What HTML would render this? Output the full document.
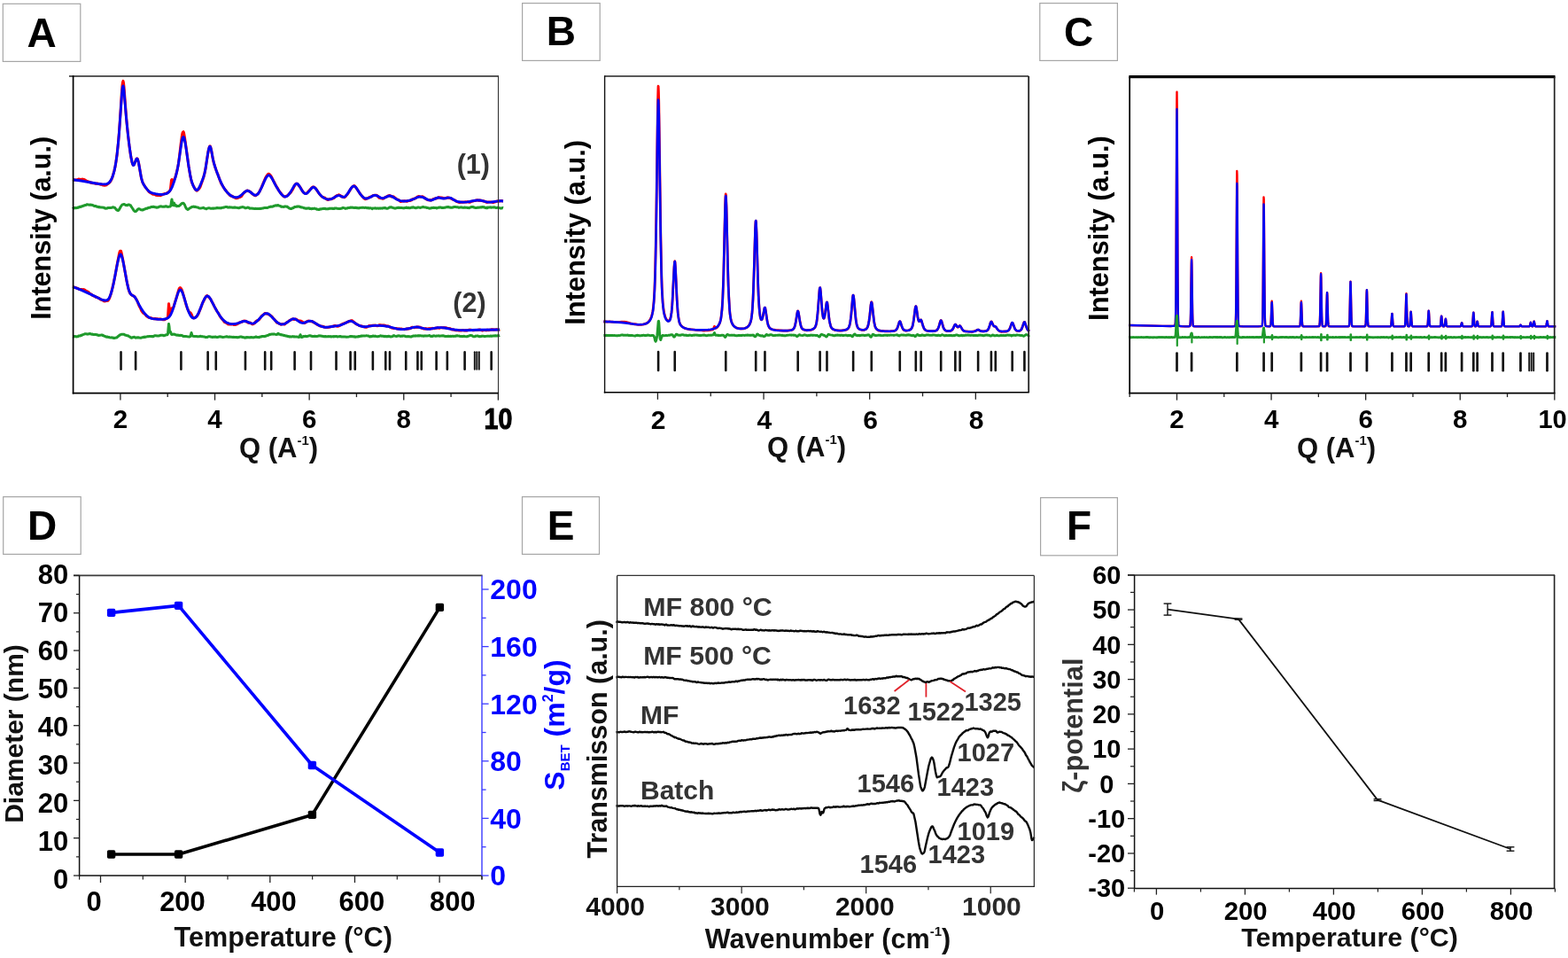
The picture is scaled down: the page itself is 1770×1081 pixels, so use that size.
<!DOCTYPE html>
<html><head><meta charset="utf-8"><title>Figure</title>
<style>html,body{margin:0;padding:0;background:#fff;overflow:hidden}svg{display:block}text{font-family:"Liberation Sans",sans-serif;font-weight:bold}</style>
</head><body>
<svg width="1770" height="1081" viewBox="0 0 1770 1081">
<rect x="0" y="0" width="1770" height="1081" fill="#fff"/>
<rect x="3.3" y="4.3" width="87.5" height="65.1" fill="#fff" stroke="#a6a6a6" stroke-width="1.2"/>
<text x="47.0" y="53.0" font-size="46" text-anchor="middle" fill="#000">A</text>
<polyline points="82.0,202.6 83.0,202.7 83.5,203.0 84.0,203.1 85.0,202.9 86.0,203.1 88.0,202.5 88.5,202.1 89.0,202.3 89.5,202.1 91.0,202.7 91.5,202.3 93.0,202.3 93.5,202.1 94.0,202.5 95.0,202.6 96.5,203.4 97.0,203.9 97.5,204.1 98.0,204.2 99.0,204.8 99.5,204.7 100.5,205.3 101.0,205.3 102.0,205.9 102.5,205.9 103.0,206.1 103.5,206.5 104.0,206.3 104.5,206.4 105.0,206.7 105.5,206.5 106.0,206.6 107.5,207.2 109.5,207.3 110.0,207.0 111.0,207.2 112.0,207.8 113.0,208.0 113.5,208.3 114.0,208.0 114.5,207.9 115.5,208.7 116.0,208.8 116.5,209.1 118.0,209.3 118.5,209.1 119.5,209.0 120.0,208.9 120.5,208.4 121.5,207.8 122.0,207.3 122.5,207.0 123.5,206.2 124.5,205.0 126.0,202.2 127.0,199.6 129.0,192.3 130.0,188.1 131.0,182.3 132.0,175.3 133.5,161.2 134.5,149.2 135.5,135.0 137.5,103.2 138.0,96.8 138.5,92.8 139.0,91.4 139.5,93.6 140.0,98.1 142.0,125.6 143.0,137.5 144.0,147.7 146.0,164.9 146.5,168.4 147.5,175.3 149.0,182.8 149.5,184.6 150.0,185.7 150.5,186.3 151.5,185.4 154.0,179.4 154.5,178.9 155.0,179.0 155.5,180.0 156.5,183.6 159.5,200.9 161.0,205.9 162.5,208.7 163.5,210.2 164.0,211.2 166.0,213.6 168.0,216.2 168.5,216.8 169.0,216.9 169.5,217.4 170.5,217.9 171.5,218.7 172.5,219.2 173.0,219.3 173.5,219.2 175.0,219.6 176.0,220.2 177.5,220.4 178.0,220.5 178.5,220.3 179.5,220.3 180.0,220.5 180.5,220.5 181.0,220.8 182.0,220.2 182.5,220.1 183.0,219.6 183.5,219.3 184.0,219.4 184.5,219.3 185.0,218.8 185.5,218.8 186.0,218.7 186.5,218.4 187.5,218.5 188.0,218.1 189.0,217.5 189.5,217.0 190.5,216.6 191.0,216.2 192.0,214.8 192.5,212.6 193.5,203.4 194.0,202.6 194.5,205.0 195.0,206.1 195.5,205.5 196.0,203.7 197.5,201.0 198.5,198.0 199.5,194.2 201.0,187.2 201.5,184.2 202.5,176.8 204.0,163.4 205.5,152.4 206.0,150.2 206.5,149.0 207.0,148.7 207.5,149.9 208.5,155.2 213.0,187.7 215.0,199.4 215.5,201.7 216.5,205.9 217.0,206.8 218.0,209.3 219.0,211.0 219.5,212.2 220.5,213.8 222.0,215.2 222.5,215.1 223.0,214.7 223.5,214.1 224.0,213.9 225.0,212.6 226.0,211.0 229.5,201.0 231.0,195.3 232.0,190.4 235.0,171.1 235.5,168.7 236.5,165.3 237.0,164.9 237.5,165.4 238.5,168.9 240.0,177.7 241.0,182.4 241.5,184.3 242.0,185.7 243.0,189.3 245.0,194.8 246.0,196.9 248.0,202.7 249.0,205.2 249.5,206.7 253.5,213.3 255.0,215.0 256.5,217.1 258.5,219.1 259.0,219.9 259.5,220.4 260.0,220.8 260.5,220.9 261.0,221.3 261.5,221.1 262.0,221.1 262.5,221.5 263.0,222.1 264.0,222.5 264.5,222.9 265.0,222.8 265.5,223.0 266.5,223.8 268.0,223.6 269.0,222.9 269.5,222.9 270.0,222.6 271.5,222.3 272.0,221.8 272.5,221.6 275.0,217.8 276.5,216.5 277.0,216.4 278.0,215.5 279.5,215.0 280.5,215.7 281.5,215.8 282.0,216.2 282.5,216.5 283.0,216.6 284.0,218.0 284.5,218.5 285.0,218.8 285.5,219.4 286.0,219.4 286.5,220.0 287.0,220.1 287.5,220.5 288.5,220.8 289.0,220.2 289.5,220.0 290.5,219.1 291.5,218.5 293.0,216.0 295.0,211.9 299.5,201.1 301.0,198.4 302.0,197.1 303.0,196.2 303.5,196.3 304.0,196.5 305.5,198.0 307.0,200.6 308.5,203.7 309.5,205.4 310.0,206.4 310.5,207.7 311.0,208.4 312.0,210.4 313.0,211.8 315.0,215.4 316.5,217.4 317.0,217.7 317.5,218.7 318.0,219.2 319.5,221.2 320.0,221.3 320.5,221.9 321.5,221.9 322.0,221.8 323.0,221.2 323.5,221.3 324.0,221.1 325.5,220.1 326.0,219.1 327.5,218.1 328.0,217.1 328.5,216.9 329.0,215.9 330.5,213.7 333.0,208.5 333.5,207.9 334.0,207.5 335.0,207.1 335.5,207.2 336.0,207.6 338.0,210.4 339.0,211.4 341.5,215.8 342.5,217.1 343.5,217.8 345.0,218.4 346.0,218.2 346.5,217.8 348.5,215.6 349.0,215.2 350.0,214.0 350.5,213.6 351.0,212.9 352.0,211.7 353.0,211.0 354.0,211.0 355.0,211.4 355.5,212.0 356.0,212.2 356.5,212.9 360.0,218.1 362.5,221.1 364.0,222.4 364.5,222.6 365.0,222.5 366.0,223.1 366.5,223.1 367.0,223.2 367.5,224.0 368.0,224.1 369.5,225.5 370.0,225.4 370.5,225.4 372.0,224.7 373.0,224.6 373.5,224.8 376.0,223.8 376.5,223.7 377.5,223.0 378.5,221.8 380.5,220.6 381.0,220.6 382.0,220.1 382.5,219.7 384.5,220.9 385.5,221.9 386.0,221.6 386.5,221.8 387.0,222.1 388.0,222.4 388.5,222.8 389.0,222.7 390.0,221.9 391.0,220.4 392.0,219.5 394.0,216.5 394.5,215.4 395.0,214.8 396.5,212.2 398.5,210.1 399.0,210.0 400.0,209.5 402.0,211.8 402.5,212.8 403.0,213.4 406.0,217.8 406.5,218.7 408.0,220.6 409.5,222.1 410.5,223.4 411.0,223.9 412.0,224.5 412.5,224.7 413.5,224.1 414.5,224.1 415.5,223.3 416.5,222.9 417.0,222.5 417.5,222.3 418.5,222.3 419.0,221.9 419.5,221.8 421.0,220.6 421.5,220.6 422.0,220.4 423.0,220.2 423.5,220.3 424.5,220.2 425.5,220.5 426.0,221.2 426.5,221.5 427.0,222.0 428.0,223.2 428.5,223.1 429.0,223.2 429.5,223.6 430.0,223.8 431.0,223.8 431.5,224.2 432.0,224.2 433.0,224.1 434.5,222.9 435.5,222.4 436.0,222.4 436.5,221.8 437.0,221.7 438.0,221.0 438.5,220.8 439.0,220.9 439.5,220.4 440.5,220.8 441.0,221.1 442.0,222.1 442.5,221.9 443.0,221.9 444.0,221.8 445.0,222.5 445.5,223.0 447.0,224.0 447.5,224.5 448.0,224.8 448.5,225.2 449.5,225.3 450.0,225.5 452.0,227.4 453.0,227.4 454.5,227.0 455.0,227.1 455.5,226.9 457.0,226.7 457.5,227.0 458.5,227.0 459.5,227.3 460.0,226.7 460.5,226.6 461.0,226.7 462.0,226.3 462.5,226.6 464.0,225.8 464.5,225.9 465.0,225.2 466.0,224.7 466.5,224.6 467.0,224.3 467.5,224.5 468.0,224.1 468.5,224.1 470.0,223.0 470.5,222.8 471.0,222.2 472.5,221.5 473.0,221.5 474.5,222.2 476.0,221.9 476.5,221.7 477.5,222.2 478.0,222.3 479.0,223.1 480.0,223.7 480.5,224.4 481.0,224.5 481.5,225.0 482.5,225.5 483.0,225.7 484.0,225.7 485.0,225.8 485.5,225.6 486.0,226.0 486.5,226.0 487.0,225.8 487.5,225.4 488.0,225.4 489.0,224.6 490.5,224.4 491.0,224.0 492.0,223.8 492.5,224.0 493.0,223.6 494.5,223.2 495.0,222.6 496.5,222.9 497.0,222.8 497.5,223.0 498.5,222.9 499.5,223.3 501.5,223.7 502.5,223.6 503.5,223.7 504.5,223.0 505.0,222.8 505.5,223.1 506.0,223.0 507.0,223.3 507.5,223.6 508.0,223.4 508.5,223.5 509.5,224.3 510.0,224.3 511.0,225.1 512.5,225.5 513.5,226.0 514.0,226.2 515.0,227.2 515.5,227.5 516.0,227.5 517.0,228.0 517.5,228.2 518.0,228.2 519.0,228.6 519.5,228.2 520.0,228.2 521.0,228.3 521.5,228.0 522.0,228.2 522.5,228.2 524.5,227.9 525.0,228.0 526.0,227.8 526.5,228.0 528.0,227.6 529.0,227.9 529.5,228.2 530.0,228.1 530.5,228.2 531.0,228.0 531.5,227.6 532.5,227.2 533.5,227.0 534.0,227.0 534.5,226.7 535.0,226.7 535.5,226.5 536.0,226.6 536.5,226.3 537.5,226.2 538.0,225.8 540.0,225.9 540.5,226.4 541.5,226.1 542.0,226.1 542.5,226.3 543.0,226.1 543.5,226.5 545.0,226.7 545.5,227.0 546.0,226.8 546.5,227.0 547.0,227.4 548.0,227.6 549.0,228.2 550.0,228.1 550.5,228.2 551.5,227.9 552.0,228.0 553.5,227.9 554.0,228.1 555.0,228.1 556.5,228.5 557.5,228.2 558.0,227.9 558.5,228.0 559.5,227.6 560.0,227.2 560.5,227.3 561.5,226.9 562.5,227.2 563.5,227.0 564.0,227.0 564.5,226.7 565.0,226.7 565.5,226.5 566.0,226.7 566.5,226.5 567.0,226.8 568.0,226.9" fill="none" stroke="#f00" stroke-width="3.0" stroke-linejoin="round" stroke-linecap="butt"/>
<polyline points="82.0,202.7 91.5,204.0 110.0,207.2 114.5,207.7 118.0,207.9 119.5,207.8 120.5,207.6 121.5,207.2 122.5,206.6 124.0,205.1 125.5,202.8 126.5,200.7 127.5,198.1 129.0,192.9 130.5,185.4 132.0,175.1 133.5,161.0 134.5,149.3 137.5,106.8 138.0,101.4 138.5,97.9 139.0,96.9 139.5,98.8 140.0,103.0 142.5,132.7 144.5,152.3 145.5,160.7 147.0,171.7 148.0,178.0 149.0,182.9 149.5,184.7 150.0,185.9 150.5,186.5 151.0,186.3 151.5,185.6 153.5,180.3 154.0,179.4 154.5,179.0 155.0,179.3 155.5,180.2 156.5,184.0 159.5,200.7 160.5,204.5 161.5,207.1 163.0,209.6 166.0,213.6 167.5,215.3 168.5,216.1 169.5,216.8 172.0,217.8 175.5,218.7 179.5,219.4 182.0,219.5 185.0,219.1 188.0,218.4 189.0,217.9 190.0,217.3 191.5,215.8 193.0,213.6 194.5,210.5 196.5,205.1 198.0,200.2 199.5,194.4 200.5,189.7 201.5,184.2 205.0,160.6 206.0,156.1 206.5,154.9 207.0,154.6 207.5,155.1 208.0,156.3 209.0,160.6 210.0,166.7 213.0,187.8 214.5,196.6 215.5,201.5 216.5,205.3 218.0,209.4 219.0,211.5 220.0,213.1 221.0,214.2 221.5,214.5 222.0,214.6 222.5,214.5 223.0,214.2 224.0,213.0 225.0,211.3 226.0,209.2 228.5,203.1 230.0,198.9 231.0,195.1 232.0,190.2 234.5,174.1 235.5,168.7 236.0,166.8 236.5,165.6 237.0,165.2 237.5,165.8 238.0,167.2 239.0,171.9 240.5,180.0 242.0,186.0 244.0,191.9 246.5,198.7 248.5,203.7 250.0,207.0 251.5,209.9 253.5,213.2 255.0,215.3 257.0,217.6 259.0,219.5 261.0,221.0 263.0,222.0 265.0,222.6 266.5,222.7 267.5,222.6 269.0,222.2 270.0,221.8 272.0,220.5 276.5,216.4 278.0,215.5 279.0,215.2 280.0,215.3 281.5,215.9 283.0,217.0 285.5,219.0 287.0,220.0 288.0,220.3 288.5,220.3 289.5,220.1 290.0,219.8 290.5,219.4 291.5,218.4 292.5,216.9 293.5,215.2 295.5,211.1 299.0,203.2 300.5,200.4 301.5,199.0 302.0,198.4 303.0,197.8 303.5,197.8 304.0,197.9 305.0,198.6 306.5,200.5 307.5,202.2 310.5,208.0 312.5,211.6 314.5,214.8 316.5,217.7 318.0,219.5 319.0,220.5 320.5,221.6 321.5,222.0 322.5,222.0 323.5,221.6 324.5,221.0 325.5,220.0 326.5,218.8 328.0,216.7 331.5,210.6 332.5,209.1 333.5,208.0 334.0,207.6 334.5,207.3 335.0,207.2 335.5,207.3 336.0,207.6 337.0,208.6 338.0,210.1 340.5,214.3 341.5,215.8 343.0,217.6 344.0,218.3 345.0,218.6 345.5,218.5 346.5,218.1 348.0,216.8 351.0,213.1 352.0,212.1 353.0,211.4 353.5,211.2 354.0,211.2 355.0,211.6 356.0,212.5 357.5,214.3 360.5,218.7 362.0,220.4 363.5,221.8 365.0,222.9 367.0,224.0 369.0,224.7 370.5,225.0 372.5,224.9 374.5,224.3 376.5,223.3 380.0,221.2 381.0,220.8 382.0,220.6 383.0,220.6 383.5,220.7 386.0,221.9 387.0,222.3 388.0,222.4 389.0,222.1 390.0,221.3 391.5,219.7 393.0,217.6 396.0,212.9 397.0,211.5 398.0,210.6 398.5,210.2 399.0,210.0 399.5,210.0 400.5,210.4 401.0,210.7 402.0,211.8 403.0,213.2 406.5,218.7 408.5,221.2 410.0,222.6 411.0,223.3 412.0,223.7 413.0,224.0 414.0,224.0 415.5,223.7 417.0,223.0 421.0,220.9 422.5,220.4 423.5,220.4 425.0,220.7 426.0,221.1 429.5,223.1 430.5,223.5 431.5,223.6 432.5,223.6 433.5,223.3 437.0,221.8 438.5,221.2 440.0,221.0 441.0,221.1 443.0,221.9 447.5,224.7 449.5,225.7 451.0,226.3 452.5,226.6 455.5,227.0 459.0,226.9 462.5,226.2 465.5,225.2 471.5,222.5 473.0,222.1 474.5,222.0 475.5,222.1 477.0,222.5 478.5,223.1 483.0,225.4 484.5,225.8 485.5,226.0 486.5,226.0 488.0,225.6 492.5,223.6 494.5,223.0 496.0,223.1 499.0,223.8 500.5,224.0 502.0,223.9 505.5,223.1 506.5,223.1 507.5,223.1 508.5,223.3 509.5,223.8 513.5,226.2 515.5,227.2 518.0,227.8 521.0,228.1 524.5,228.1 527.5,227.9 530.0,227.5 536.5,226.2 539.5,225.9 541.0,226.0 542.5,226.2 548.5,227.7 550.0,228.0 551.5,228.1 555.0,228.0 561.0,227.1 563.5,226.8 566.0,226.8 568.0,227.0" fill="none" stroke="#0000f5" stroke-width="2.9" stroke-linejoin="round" stroke-linecap="butt"/>
<polyline points="82.0,324.1 82.5,324.0 84.0,324.3 84.5,324.2 85.0,324.5 86.0,324.9 86.5,324.9 87.0,325.2 88.0,325.4 89.5,326.4 90.0,326.6 90.5,326.6 91.0,326.4 91.5,326.6 92.5,326.5 93.0,326.7 94.0,326.8 94.5,326.6 95.5,327.1 96.5,327.8 97.0,328.4 97.5,328.4 98.5,328.9 99.5,329.1 100.0,329.8 101.0,330.8 102.0,331.6 102.5,331.7 103.5,332.3 104.0,333.1 105.0,333.6 106.0,334.0 106.5,334.0 107.5,334.6 108.0,335.2 108.5,335.1 110.0,335.8 110.5,335.7 111.0,336.2 112.0,336.5 113.0,337.7 113.5,337.8 114.5,338.4 115.5,338.4 116.0,338.8 117.0,339.7 118.5,339.9 119.0,339.8 119.5,339.4 120.0,339.5 122.0,339.3 123.5,336.8 125.0,332.3 126.0,328.7 128.0,320.3 130.0,310.8 132.5,296.8 134.5,286.6 135.0,284.3 135.5,283.3 136.0,283.2 136.5,283.3 137.0,284.8 138.5,292.1 143.0,317.0 145.0,325.9 146.0,329.2 146.5,330.4 148.0,332.4 148.5,332.7 149.0,333.2 149.5,333.5 150.5,333.8 152.0,334.9 152.5,335.8 153.5,337.2 155.0,339.8 156.0,342.6 157.5,346.1 158.5,347.8 159.5,350.3 161.5,353.1 162.5,353.6 163.0,354.1 164.0,354.9 164.5,355.4 165.0,356.4 165.5,356.6 166.0,357.1 167.0,357.9 167.5,358.0 168.0,358.3 168.5,358.5 170.0,358.6 171.0,358.9 172.0,359.5 173.0,359.6 173.5,359.7 174.5,359.5 175.0,359.7 175.5,359.5 176.0,359.6 176.5,359.9 177.0,360.0 177.5,359.7 178.0,360.1 178.5,360.1 179.0,360.1 179.5,359.9 180.0,360.1 181.0,359.9 181.5,360.0 182.0,360.3 182.5,360.4 184.0,360.8 185.0,360.8 185.5,360.8 186.5,360.4 187.5,359.6 188.5,359.1 189.0,358.4 189.5,357.0 190.5,342.8 191.0,346.1 191.5,353.1 192.0,354.1 193.5,348.3 194.0,347.7 195.0,347.9 195.5,347.2 196.0,346.2 197.0,342.6 199.5,335.0 200.5,331.1 202.0,326.2 202.5,325.3 203.0,324.7 203.5,324.6 204.0,325.0 205.0,326.6 205.5,327.8 206.5,330.8 210.5,345.3 212.0,349.2 212.5,350.3 214.0,352.9 214.5,352.9 215.0,352.8 215.5,353.5 216.5,355.5 217.5,358.2 218.0,358.4 218.5,358.9 219.0,359.0 220.0,358.5 220.5,358.4 221.0,357.8 222.5,356.6 223.0,355.6 223.5,355.0 224.5,352.9 225.0,351.4 226.5,347.9 228.5,342.3 229.0,341.2 232.5,334.5 233.5,333.6 234.5,334.2 235.0,334.8 235.5,335.1 236.5,336.1 238.0,338.0 239.0,340.2 239.5,340.9 241.5,344.8 242.0,345.9 243.5,348.8 245.0,351.3 246.0,352.6 247.5,355.2 248.0,356.4 249.5,358.6 251.5,360.9 253.5,363.7 255.5,364.4 256.0,364.7 256.5,365.2 257.0,365.4 257.5,365.9 258.0,366.0 259.5,366.1 260.0,366.0 260.5,366.0 261.0,366.2 261.5,366.0 262.5,365.9 263.5,366.2 264.0,366.6 264.5,366.5 265.5,366.6 266.0,366.3 266.5,365.8 267.0,366.1 267.5,366.0 268.5,365.1 269.0,365.0 270.0,364.2 270.5,364.0 271.0,364.0 272.0,363.4 273.0,363.4 273.5,362.9 274.0,362.6 274.5,362.6 275.0,362.3 275.5,361.9 277.0,362.4 277.5,362.3 278.0,363.1 278.5,363.1 279.5,363.5 280.0,364.2 280.5,364.1 281.5,364.5 282.0,364.4 282.5,364.1 283.5,365.0 284.0,365.3 284.5,365.3 285.0,365.9 285.5,365.7 286.0,365.7 286.5,365.3 287.0,365.0 287.5,364.6 288.5,363.0 290.0,361.8 290.5,361.7 291.0,361.7 292.5,360.6 295.5,356.5 297.0,355.3 298.0,354.7 299.0,353.5 301.0,353.9 301.5,354.3 302.5,354.2 303.0,354.4 304.5,355.6 305.5,356.1 306.5,356.7 307.5,357.8 308.5,359.3 310.5,361.3 312.5,364.0 313.0,364.1 313.5,364.4 314.0,364.6 314.5,364.5 315.0,365.0 315.5,365.6 316.0,365.5 316.5,365.8 317.0,366.3 318.0,365.7 320.0,365.8 320.5,365.9 321.0,366.1 322.0,365.5 322.5,364.8 323.5,363.9 324.5,363.2 325.0,363.2 325.5,362.8 326.0,362.2 326.5,361.9 327.0,361.4 328.0,361.1 329.0,360.5 329.5,360.3 330.0,360.0 330.5,359.9 331.5,360.4 332.5,360.5 333.0,360.4 333.5,360.1 334.0,360.1 335.0,360.6 335.5,361.1 336.5,361.7 337.0,361.7 337.5,362.0 338.0,361.9 338.5,362.1 339.0,362.1 339.5,362.4 340.0,362.3 340.5,362.6 341.0,363.1 341.5,363.2 342.0,363.6 342.5,364.2 343.0,364.4 343.5,364.2 344.0,364.6 345.5,363.5 346.5,362.6 347.5,362.3 348.0,362.4 348.5,362.1 349.0,362.4 350.0,362.6 350.5,362.5 351.0,362.8 352.0,362.7 352.5,362.6 353.0,362.9 353.5,363.6 354.0,363.5 354.5,363.9 355.0,364.5 356.0,364.8 358.0,366.2 358.5,366.3 359.0,366.8 360.5,367.4 361.0,367.8 361.5,367.8 362.0,368.2 363.0,368.1 364.0,368.3 364.5,368.2 365.5,368.9 366.0,368.8 366.5,369.2 367.5,369.4 368.0,369.6 368.5,369.6 369.0,369.3 369.5,369.5 370.5,369.2 371.0,369.3 371.5,369.2 372.0,368.9 372.5,369.0 373.0,368.9 374.0,368.5 374.5,368.6 375.0,368.3 375.5,368.2 376.5,368.2 377.5,367.5 379.0,367.5 380.0,368.1 380.5,367.9 381.0,368.2 381.5,368.2 382.0,367.9 383.0,367.8 383.5,367.2 384.5,366.9 385.0,366.3 385.5,366.1 386.0,366.0 387.0,365.3 387.5,365.3 388.5,364.9 389.0,364.6 389.5,364.6 390.5,364.0 391.5,363.7 392.0,363.2 392.5,363.3 393.0,363.1 393.5,362.6 394.5,362.7 395.0,362.1 397.0,361.6 398.5,362.6 399.5,363.5 400.5,364.2 401.0,364.9 401.5,365.2 402.0,365.4 402.5,365.9 403.5,366.2 404.0,366.5 405.0,367.0 405.5,367.5 407.5,367.9 408.0,367.8 408.5,368.3 409.0,368.3 410.5,368.7 411.0,368.5 411.5,368.6 412.0,369.0 413.0,369.3 414.0,369.2 414.5,368.7 416.0,368.1 416.5,367.6 417.0,367.8 418.5,367.5 419.0,367.7 420.5,367.2 421.5,367.3 422.0,367.1 422.5,367.2 423.5,367.1 424.0,367.3 424.5,367.2 425.5,367.7 427.0,367.5 428.0,366.8 428.5,366.8 429.0,366.7 430.0,367.1 430.5,367.0 431.0,367.2 431.5,367.0 432.5,367.0 433.0,367.2 433.5,367.0 434.5,367.2 435.5,367.7 436.5,368.0 437.5,368.0 438.0,367.8 438.5,368.2 440.0,368.6 440.5,369.2 441.0,369.2 442.5,370.1 444.5,370.6 445.0,370.6 445.5,370.4 446.5,370.5 447.0,370.5 448.5,371.1 449.0,370.8 449.5,371.0 450.0,371.1 450.5,371.0 451.5,371.1 452.0,371.3 452.5,371.1 453.0,371.4 453.5,371.1 454.0,371.6 454.5,371.4 455.0,371.6 455.5,371.4 456.5,371.7 457.5,371.3 458.0,371.3 459.0,370.9 459.5,371.2 460.0,371.1 460.5,370.8 461.0,371.0 462.0,370.6 462.5,370.8 463.0,370.8 463.5,370.5 464.5,369.5 465.5,369.3 466.5,369.6 467.5,369.5 468.0,369.8 469.0,369.2 470.0,369.4 470.5,369.1 471.0,368.9 471.5,369.2 472.0,369.3 472.5,369.0 474.5,369.3 475.5,370.1 476.0,370.1 477.0,370.5 477.5,370.6 478.5,371.0 479.0,370.9 479.5,371.1 480.0,371.0 480.5,370.6 481.0,370.9 481.5,371.0 482.5,370.9 483.0,371.0 483.5,370.7 484.5,370.8 485.0,370.6 485.5,370.9 487.0,370.6 487.5,370.8 488.0,370.4 488.5,370.7 490.0,370.4 490.5,370.7 491.0,370.3 491.5,370.4 492.0,370.2 492.5,370.3 493.0,369.9 493.5,369.8 494.5,370.0 495.0,369.8 495.5,370.2 496.0,370.3 496.5,369.9 497.0,369.9 498.0,369.6 499.0,369.8 499.5,369.7 500.0,369.9 501.0,369.6 501.5,369.8 502.0,369.7 503.0,369.8 504.0,370.0 505.5,370.6 506.0,370.6 506.5,370.5 508.0,370.7 508.5,370.9 509.5,371.7 510.5,372.1 511.0,372.0 512.5,372.1 513.0,372.2 513.5,372.6 514.5,372.7 515.5,372.8 517.5,372.6 518.0,372.9 518.5,372.8 519.0,373.0 519.5,372.9 521.0,373.0 521.5,372.7 522.5,372.6 523.5,372.7 524.0,373.0 525.0,373.0 525.5,372.8 526.0,373.0 526.5,372.8 527.0,373.0 527.5,373.0 528.5,372.5 529.0,372.5 529.5,372.1 530.0,372.1 530.5,372.3 531.5,372.1 532.0,372.6 533.0,372.6 534.0,372.9 535.0,372.7 536.0,372.4 537.5,372.5 539.0,372.5 539.5,372.2 541.5,372.0 542.0,372.0 543.0,372.5 544.0,372.7 544.5,373.1 545.5,372.6 546.5,372.6 547.5,372.5 548.0,372.8 548.5,372.6 549.0,372.7 549.5,372.3 550.0,372.6 550.5,372.2 551.5,372.4 552.0,372.7 552.5,372.3 553.0,372.3 554.5,371.8 555.0,371.9 555.5,371.8 556.0,372.0 556.5,371.8 557.0,371.9 557.5,372.2 558.0,372.0 559.5,372.0 560.0,371.7 560.5,371.9 561.0,371.8 561.5,371.9 562.0,371.9 563.5,372.1 564.0,371.8" fill="none" stroke="#f00" stroke-width="3.0" stroke-linejoin="round" stroke-linecap="butt"/>
<polyline points="82.0,323.7 87.0,325.3 92.5,327.6 104.5,333.1 113.0,337.3 115.0,338.2 117.0,338.8 119.0,339.0 120.5,338.8 121.5,338.2 122.5,337.2 123.0,336.5 124.0,334.6 125.0,332.0 126.0,328.8 127.0,325.0 128.5,318.3 132.0,300.1 133.5,293.0 134.5,289.4 135.0,288.1 135.5,287.3 136.0,287.0 136.5,287.3 137.0,288.1 137.5,289.3 138.5,293.0 139.5,297.8 143.5,319.6 145.0,325.9 145.5,327.5 146.5,330.0 147.0,331.0 148.0,332.3 149.0,333.1 151.0,334.2 152.0,335.0 152.5,335.6 154.0,338.1 157.0,343.9 159.0,347.5 161.5,351.3 163.5,353.9 165.5,356.0 167.5,357.7 169.5,358.8 172.0,359.6 174.5,359.9 178.5,360.3 182.0,360.4 184.5,360.3 186.5,360.0 188.5,359.3 190.0,358.4 191.0,357.5 192.0,356.2 193.0,354.5 194.5,351.0 196.0,346.6 199.5,334.9 201.0,330.5 202.0,328.4 202.5,327.7 203.0,327.2 203.5,327.0 204.0,327.1 204.5,327.6 205.0,328.3 206.0,330.3 207.5,334.7 211.5,347.9 213.5,353.2 215.0,356.1 216.0,357.4 217.0,358.4 218.0,358.9 218.5,359.0 219.5,358.9 220.5,358.4 221.0,358.0 222.0,356.9 223.0,355.4 224.5,352.4 229.0,341.0 230.5,337.8 231.5,336.1 232.5,334.8 233.5,334.1 234.0,334.0 234.5,334.0 235.5,334.6 236.0,335.1 237.0,336.4 238.0,338.1 242.0,345.9 245.0,351.3 248.0,356.1 250.5,359.4 253.0,362.0 255.0,363.5 256.0,364.1 257.5,364.7 259.0,365.2 260.5,365.5 263.5,365.6 266.5,365.2 269.0,364.6 274.0,362.7 276.0,362.4 277.0,362.5 278.0,362.7 282.0,364.4 283.5,364.9 285.0,365.1 286.0,364.9 287.0,364.6 288.0,364.0 290.0,362.5 292.0,360.6 295.5,356.8 297.5,355.0 298.5,354.3 299.5,353.8 300.5,353.6 301.0,353.6 302.5,354.0 303.5,354.6 304.5,355.4 306.0,356.8 310.5,361.6 312.0,363.0 313.5,364.2 315.0,365.1 316.0,365.5 317.0,365.8 318.0,366.0 319.5,365.9 321.5,365.3 323.5,364.2 327.5,361.4 329.0,360.5 330.5,359.9 331.5,359.8 332.5,359.9 333.5,360.2 335.0,361.1 338.5,363.5 340.0,364.2 341.0,364.4 342.0,364.5 343.0,364.3 347.0,362.8 348.5,362.4 350.0,362.2 351.5,362.4 352.5,362.7 354.0,363.5 358.5,366.3 361.0,367.6 364.0,368.7 365.5,369.0 367.0,369.2 368.5,369.2 370.5,369.1 376.0,368.2 381.0,367.6 383.5,367.1 385.5,366.5 387.5,365.7 393.5,362.7 395.0,362.3 396.0,362.3 397.0,362.5 398.5,363.1 403.0,366.0 405.0,367.1 407.0,367.9 409.5,368.5 411.5,368.7 413.5,368.6 420.0,367.6 423.0,367.4 427.0,367.4 432.5,367.6 437.0,368.2 447.5,370.8 450.0,371.3 452.5,371.5 455.0,371.6 458.0,371.3 461.0,370.8 467.0,369.3 469.0,369.1 470.5,369.0 473.0,369.3 479.5,370.9 482.5,371.4 484.0,371.4 486.0,371.2 491.5,370.1 494.0,369.7 496.0,369.6 498.0,369.6 502.0,370.0 509.0,371.4 513.0,372.0 517.0,372.4 521.0,372.6 526.0,372.7 539.0,372.3 564.0,372.0" fill="none" stroke="#0000f5" stroke-width="2.9" stroke-linejoin="round" stroke-linecap="butt"/>
<polyline points="82.0,235.6 83.0,234.8 83.5,234.6 84.0,234.8 85.0,234.5 85.5,234.7 87.0,234.5 87.5,234.1 88.0,234.3 88.5,234.2 89.5,233.5 90.5,233.3 91.0,233.5 92.0,232.9 92.5,232.9 93.5,232.4 94.0,232.2 94.5,232.2 95.5,231.6 96.0,231.5 96.5,231.6 97.5,231.1 98.0,230.7 98.5,230.7 99.0,230.9 99.5,230.9 101.0,231.2 102.0,231.0 102.5,231.2 103.5,231.2 104.5,231.5 105.0,231.8 106.0,232.1 106.5,232.5 107.0,232.7 107.5,232.5 108.0,232.5 108.5,232.7 109.0,233.2 110.5,233.3 111.5,233.8 112.0,233.9 112.5,233.6 113.5,233.9 114.5,234.0 115.0,234.1 117.0,234.2 117.5,234.3 118.0,234.9 119.0,234.9 119.5,235.3 120.5,234.9 121.0,235.0 121.5,234.6 122.0,234.4 122.5,234.6 124.0,234.6 124.5,234.5 125.0,234.6 126.0,234.4 126.5,234.1 127.5,233.8 128.5,233.9 129.0,234.3 129.5,234.3 131.0,236.1 132.0,237.1 132.5,237.1 133.0,237.4 133.5,237.4 134.0,237.1 134.5,236.4 136.0,233.7 137.5,231.5 138.0,231.0 138.5,230.9 140.0,230.4 141.0,230.8 141.5,231.4 143.0,231.4 143.5,231.8 145.0,230.9 145.5,230.9 146.5,231.4 147.0,231.4 147.5,231.9 148.0,232.9 149.5,235.0 151.0,237.4 151.5,237.8 152.0,238.5 153.0,238.6 153.5,238.5 154.0,238.0 155.5,236.2 156.0,236.0 156.5,235.6 157.5,235.8 158.0,236.2 158.5,236.4 159.0,236.7 161.0,237.1 161.5,236.6 162.0,236.6 162.5,236.1 163.0,236.0 163.5,236.1 164.5,235.3 165.0,235.4 165.5,235.2 166.0,235.3 166.5,235.1 167.0,234.5 167.5,234.6 168.0,234.3 169.5,234.2 170.0,233.8 170.5,233.7 171.0,233.4 172.0,233.6 172.5,233.2 173.0,233.2 175.0,233.8 175.5,233.7 176.0,234.0 177.0,234.2 177.5,233.9 178.0,234.0 179.0,233.7 180.5,232.9 181.0,233.0 182.0,232.8 183.5,233.3 184.5,233.3 185.0,233.1 185.5,233.2 187.0,232.8 188.0,232.8 189.0,233.3 189.5,233.4 190.5,233.3 191.5,233.1 192.0,233.1 192.5,232.6 193.0,231.1 193.5,227.3 194.0,224.9 195.0,231.5 195.5,231.7 196.0,229.4 196.5,229.1 197.0,231.4 197.5,232.0 198.0,231.0 199.0,232.3 199.5,232.8 200.0,232.4 201.0,232.6 202.0,232.5 202.5,232.2 203.0,231.5 203.5,231.5 204.0,230.7 205.5,229.5 206.0,229.3 206.5,229.3 207.0,229.2 208.5,231.2 209.5,233.7 210.5,235.5 212.0,236.4 213.0,235.9 214.5,234.7 216.0,233.9 216.5,233.4 217.0,233.5 217.5,233.2 218.0,233.2 218.5,233.1 219.0,233.1 219.5,233.5 220.0,233.6 220.5,233.3 221.0,233.5 221.5,233.8 223.5,234.1 224.5,234.7 226.0,235.0 226.5,234.9 228.0,234.8 228.5,234.5 229.0,234.5 229.5,234.3 230.5,235.0 232.0,235.4 233.0,235.8 234.0,235.1 235.5,234.8 236.5,234.8 237.5,235.2 238.0,235.1 239.0,235.3 240.5,235.0 241.5,235.3 242.0,235.0 243.5,235.0 245.0,234.5 245.5,234.7 246.0,234.6 246.5,234.8 247.5,234.8 248.0,234.9 248.5,234.7 249.5,234.9 250.5,234.4 251.5,234.2 252.0,234.3 253.0,234.0 253.5,233.7 254.0,233.7 254.5,233.5 255.0,233.5 256.5,233.6 257.0,234.0 257.5,234.0 258.0,234.2 258.5,234.0 259.0,233.7 260.5,234.0 262.0,234.1 262.5,234.3 263.5,234.3 264.5,234.0 265.0,234.2 266.0,234.1 269.5,234.8 271.0,234.1 271.5,234.2 272.0,234.0 273.5,233.6 275.5,233.9 276.5,234.7 277.0,234.8 277.5,234.8 279.5,234.1 280.0,234.1 281.0,234.5 281.5,235.0 282.0,235.3 283.5,234.9 284.5,235.3 285.0,235.3 285.5,235.1 287.0,235.6 288.5,235.2 289.0,235.5 292.0,235.6 293.5,235.3 294.0,235.4 295.0,235.3 295.5,235.3 296.0,235.0 296.5,234.9 297.0,235.0 297.5,234.7 299.0,234.4 299.5,234.6 301.5,234.5 302.5,234.2 304.0,233.6 304.5,233.6 305.5,233.1 306.0,233.0 306.5,233.3 307.0,233.2 308.0,233.0 308.5,232.6 309.0,232.6 310.0,232.1 311.5,231.7 312.0,232.0 312.5,231.8 313.0,231.9 313.5,231.6 314.0,231.6 315.0,232.1 316.0,232.4 316.5,232.6 317.5,233.3 318.0,233.4 318.5,233.3 320.5,233.4 321.5,233.0 322.0,233.1 322.5,232.9 323.5,233.2 324.0,233.1 324.5,233.4 325.0,233.9 325.5,234.1 326.0,234.7 326.5,235.1 327.0,235.0 327.5,235.4 328.5,235.4 329.0,235.5 330.0,234.8 330.5,234.8 331.5,234.3 332.5,233.5 334.0,233.5 335.0,233.0 336.0,233.2 336.5,233.0 337.0,233.1 337.5,233.0 339.0,233.6 339.5,233.6 340.0,233.9 341.5,234.1 342.5,234.4 343.0,234.7 343.5,234.7 344.5,235.0 345.0,235.3 345.5,235.3 346.0,235.0 347.0,235.2 347.5,235.0 348.0,235.0 348.5,234.8 349.5,235.5 350.0,235.2 351.0,235.5 351.5,235.8 352.0,235.8 352.5,235.3 353.0,235.3 353.5,235.5 355.0,235.1 355.5,235.4 356.5,235.7 357.0,235.6 358.0,236.4 359.0,236.2 359.5,236.5 360.0,236.3 360.5,236.5 361.5,235.8 362.0,236.1 363.0,235.7 363.5,235.8 364.0,235.5 364.5,235.4 365.0,235.6 365.5,235.2 366.0,235.3 366.5,235.5 367.0,235.3 368.0,235.8 368.5,235.7 369.0,235.8 370.0,235.6 370.5,235.7 371.0,235.6 371.5,235.3 372.0,235.4 372.5,235.3 373.0,235.4 374.0,235.1 374.5,235.2 375.0,235.4 375.5,235.3 376.0,235.5 377.0,235.3 377.5,235.4 378.5,234.9 379.5,235.0 380.0,235.2 380.5,235.2 382.5,235.6 383.0,235.4 384.0,235.6 384.5,235.2 385.0,235.3 386.0,235.0 386.5,234.6 387.0,234.4 387.5,234.5 388.0,234.7 388.5,234.7 389.0,234.9 389.5,234.9 390.0,235.4 391.0,235.0 392.0,235.0 392.5,234.6 393.0,234.6 394.0,234.4 394.5,234.5 395.5,234.1 396.0,234.1 396.5,234.3 397.0,234.1 399.5,234.5 400.0,234.3 400.5,234.6 401.5,234.3 402.0,234.3 402.5,234.6 403.0,234.7 404.0,234.6 404.5,234.7 405.0,234.9 405.5,234.6 406.0,234.5 408.0,234.3 408.5,234.2 409.0,234.4 409.5,234.2 410.0,234.2 410.5,234.4 411.5,234.6 412.5,234.2 414.0,234.7 414.5,234.8 415.0,234.5 415.5,234.8 416.0,234.9 416.5,234.7 417.0,235.0 417.5,234.7 418.0,234.7 419.5,235.2 420.0,235.6 420.5,235.1 421.0,234.9 422.0,235.1 423.5,234.8 424.0,234.8 424.5,235.2 426.0,235.0 427.0,235.1 427.5,235.3 428.0,235.0 428.5,235.0 429.0,235.2 430.0,234.9 431.0,235.0 431.5,235.2 432.5,234.7 434.5,234.4 435.0,234.4 435.5,235.0 436.0,235.0 436.5,235.3 437.0,235.3 438.5,234.8 439.0,234.3 439.5,234.1 441.5,233.8 444.0,234.6 444.5,234.8 445.0,234.8 446.0,235.2 447.0,234.8 447.5,234.8 448.0,234.5 448.5,234.6 449.5,234.3 450.0,234.2 450.5,234.5 451.0,234.3 451.5,234.6 452.0,234.6 452.5,234.4 453.5,234.4 454.5,234.6 455.0,234.8 455.5,234.7 456.0,234.9 457.5,234.4 458.0,234.5 458.5,234.1 459.0,234.4 459.5,234.2 460.5,234.6 461.0,234.7 461.5,234.3 462.0,234.7 463.0,234.7 464.5,234.0 465.0,234.3 466.0,233.8 466.5,233.8 467.0,234.1 467.5,234.3 469.5,234.7 470.0,234.7 470.5,234.3 471.5,234.2 472.0,234.0 473.0,234.1 474.0,234.4 474.5,234.4 475.0,234.2 475.5,234.1 477.5,233.5 478.0,233.5 478.5,233.8 480.0,234.0 481.0,234.1 482.0,234.5 482.5,234.4 484.0,234.9 484.5,234.9 485.0,235.2 485.5,235.0 486.0,235.0 487.5,234.5 488.0,234.6 489.5,234.3 491.0,234.6 492.0,234.4 492.5,234.6 493.0,234.9 493.5,234.6 495.0,234.3 495.5,234.1 496.0,234.2 496.5,233.9 497.5,234.0 498.0,234.2 498.5,234.5 499.0,234.5 499.5,234.3 500.0,234.5 500.5,234.5 501.0,234.3 502.5,234.3 503.5,233.7 505.0,233.7 505.5,233.4 506.0,233.5 506.5,233.8 507.5,234.0 508.0,234.0 509.0,234.3 510.0,234.2 510.5,234.2 511.0,234.0 511.5,234.0 512.0,233.6 513.5,233.6 514.0,233.5 515.5,233.7 516.5,233.7 518.0,234.3 518.5,234.1 519.5,233.9 520.0,234.1 520.5,234.0 521.5,234.0 522.0,234.2 523.0,234.4 524.5,234.0 525.5,234.2 527.5,234.3 528.0,234.6 529.0,234.6 529.5,234.7 530.0,234.4 530.5,234.3 531.0,234.0 531.5,233.9 532.0,233.6 532.5,233.7 533.0,233.5 534.0,233.6 534.5,233.9 535.0,233.8 535.5,234.3 536.0,234.2 536.5,234.5 537.5,234.6 538.0,234.6 539.0,234.2 540.0,234.1 540.5,234.2 541.5,234.0 542.0,234.1 543.0,233.8 543.5,234.0 544.0,233.6 544.5,233.6 545.0,233.8 545.5,233.5 546.0,234.0 546.5,233.8 547.0,233.8 547.5,234.3 548.0,234.5 548.5,234.4 549.0,234.7 549.5,234.2 550.0,234.7 551.0,234.1 551.5,234.1 552.5,233.9 553.0,234.1 553.5,233.8 554.0,234.1 554.5,234.2 555.0,233.9 555.5,234.0 556.5,233.9 557.0,234.1 557.5,233.8 559.5,234.3 560.0,234.5 561.0,234.4 561.5,234.2 562.0,234.3 562.5,234.3 563.0,234.6 564.5,234.8 565.0,235.0 565.5,235.0 566.0,235.0 567.5,234.5 568.0,234.7" fill="none" stroke="#1f9a2c" stroke-width="3.0" stroke-linejoin="round" stroke-linecap="butt"/>
<polyline points="82.0,379.9 82.5,380.0 83.0,379.7 83.5,379.8 84.5,379.5 85.5,379.8 86.5,379.9 87.0,379.7 88.0,379.7 88.5,379.1 89.5,379.0 90.5,378.9 91.5,378.2 92.0,378.5 93.0,377.9 95.0,377.2 95.5,376.7 96.0,376.7 96.5,376.8 97.0,376.7 97.5,376.7 98.0,377.0 98.5,377.0 99.0,377.2 100.0,376.8 101.5,376.6 102.5,376.7 103.0,377.1 103.5,377.2 104.0,377.1 104.5,377.1 105.5,377.6 106.5,377.4 107.5,377.6 108.5,377.5 109.0,377.6 109.5,377.9 110.0,377.8 111.5,378.6 112.5,378.2 113.0,378.3 114.0,378.1 114.5,378.1 115.0,378.0 115.5,378.2 116.0,378.7 116.5,378.4 117.5,379.2 118.5,379.4 120.0,380.2 120.5,380.2 121.0,380.0 122.5,380.6 123.0,380.4 123.5,380.7 125.5,380.9 126.0,380.8 126.5,381.1 127.5,381.1 128.0,381.4 128.5,381.3 129.5,381.5 130.0,381.2 131.0,381.1 131.5,380.8 132.0,380.9 132.5,380.3 133.5,379.6 134.5,378.5 135.0,378.4 135.5,377.7 136.0,377.8 137.0,377.2 137.5,377.2 138.0,377.3 138.5,377.2 139.0,377.3 139.5,377.2 140.0,377.3 141.0,378.0 142.0,378.2 143.5,378.8 144.5,378.8 145.5,379.5 146.0,379.6 146.5,380.1 147.0,380.2 147.5,380.9 148.0,381.1 148.5,381.2 149.0,381.1 150.0,380.5 150.5,380.6 151.5,380.3 152.0,380.6 152.5,380.7 153.0,381.2 153.5,380.9 154.0,381.0 154.5,380.7 155.0,381.0 156.0,380.7 156.5,380.7 157.0,381.1 158.5,381.3 159.5,381.2 160.0,380.8 161.0,380.8 162.0,380.3 162.5,380.3 163.5,380.4 164.0,380.1 164.5,380.2 165.0,380.1 166.5,379.6 167.5,379.8 168.0,379.5 168.5,379.4 169.5,379.4 170.0,379.6 170.5,379.5 171.0,379.7 172.0,379.5 173.0,379.7 174.5,378.7 175.0,378.8 176.0,378.8 177.5,379.1 178.5,379.0 179.0,379.1 181.5,378.3 182.5,378.2 183.0,378.3 183.5,378.2 184.0,378.3 185.0,378.8 187.0,378.0 188.0,377.7 188.5,377.5 189.0,377.7 189.5,376.6 190.5,365.4 191.0,368.4 191.5,374.4 192.0,375.0 192.5,374.4 193.5,377.2 194.0,377.5 196.5,377.1 197.5,377.5 198.0,377.8 200.0,378.3 200.5,378.1 201.0,378.1 201.5,378.4 202.0,378.5 203.0,378.4 203.5,378.2 204.0,378.5 204.5,378.5 205.0,378.3 206.0,379.0 206.5,379.1 207.0,379.4 208.5,379.6 209.5,379.4 210.0,379.6 210.5,379.6 211.5,379.8 213.5,380.0 214.0,380.0 215.0,379.4 216.0,375.5 217.0,378.8 218.0,379.3 219.0,379.4 219.5,379.6 220.0,379.5 220.5,379.6 221.5,379.4 222.0,379.5 222.5,379.8 223.5,379.7 225.0,379.8 225.5,379.5 226.0,379.3 227.5,379.7 228.0,379.7 228.5,379.6 229.5,379.9 230.5,379.9 231.5,380.1 232.0,380.5 232.5,380.6 233.0,380.4 234.0,380.4 234.5,380.1 235.5,379.8 236.5,379.8 237.0,379.7 237.5,380.0 240.0,380.5 241.0,380.1 242.5,380.4 243.0,380.0 244.0,380.2 244.5,380.5 245.0,380.4 245.5,380.6 246.0,380.3 246.5,380.3 247.0,380.0 247.5,380.1 248.0,379.8 250.5,380.3 251.0,380.3 251.5,380.6 256.0,379.7 256.5,379.8 257.0,380.2 258.0,380.2 259.0,380.1 260.5,380.3 261.0,380.2 263.0,380.5 264.0,380.3 264.5,380.5 266.5,380.5 267.0,380.7 267.5,380.6 268.5,380.7 271.5,380.0 272.0,380.0 272.5,380.2 273.0,380.1 273.5,380.5 274.5,380.5 275.0,380.8 276.0,380.7 276.5,381.2 277.0,380.8 278.0,380.9 278.5,380.6 281.5,380.7 282.0,380.9 282.5,380.7 283.0,380.7 283.5,380.4 284.5,380.7 285.5,380.7 286.0,380.9 286.5,380.7 287.5,380.6 289.0,380.0 289.5,380.2 290.0,380.5 291.5,380.4 292.5,380.7 293.5,380.1 294.0,380.1 294.5,379.9 295.0,379.9 295.5,379.6 297.5,379.5 298.0,379.7 298.5,379.4 299.0,379.5 300.5,379.0 301.0,379.0 301.5,378.5 302.0,378.6 302.5,378.2 303.0,378.3 304.5,377.2 305.0,377.5 305.5,377.2 306.0,377.3 306.5,377.0 307.5,377.0 308.0,377.2 308.5,376.9 309.0,377.1 309.5,377.0 310.0,377.1 312.0,377.6 313.0,377.3 313.5,376.5 314.0,376.2 315.0,377.1 315.5,377.3 316.0,377.3 316.5,377.7 317.5,377.6 318.0,377.9 319.0,378.0 319.5,378.2 320.0,378.3 320.5,378.6 321.0,378.4 321.5,378.5 322.0,379.0 322.5,379.1 323.0,378.9 323.5,378.9 324.0,379.1 324.5,379.6 325.5,379.4 326.0,379.4 326.5,380.0 327.0,380.0 328.0,379.7 328.5,380.0 329.0,380.0 330.5,379.6 331.0,379.9 331.5,380.0 332.0,379.8 332.5,379.8 333.0,380.0 334.5,379.9 335.0,380.1 336.5,380.2 337.5,380.5 338.0,380.2 339.0,377.7 340.0,380.1 340.5,380.5 341.5,380.3 342.5,379.4 343.5,379.6 344.0,379.5 344.5,379.3 345.5,379.5 346.0,379.7 346.5,379.7 349.0,378.8 350.0,378.7 352.5,379.5 353.5,379.6 354.0,379.4 355.5,379.3 356.5,379.6 357.0,379.6 357.5,379.6 358.0,379.4 359.0,379.3 359.5,379.0 360.0,378.8 360.5,378.9 361.0,378.9 361.5,379.1 362.0,379.0 363.0,379.3 363.5,379.3 365.5,379.8 366.0,379.6 367.0,379.9 367.5,379.5 369.0,379.9 370.0,379.7 370.5,379.5 371.0,379.8 371.5,379.8 372.0,379.8 372.5,379.5 373.0,379.6 374.0,380.0 374.5,379.7 375.5,379.7 376.5,379.9 377.0,379.6 377.5,379.6 378.0,379.7 379.5,379.4 380.5,379.9 381.0,379.9 382.0,379.8 383.0,379.8 383.5,379.5 384.0,379.5 385.0,379.8 385.5,380.0 388.5,380.0 389.0,379.9 391.0,380.3 394.0,379.9 394.5,379.8 395.0,379.8 395.5,379.5 396.0,379.4 396.5,379.7 397.0,379.7 397.5,379.6 398.5,379.7 399.5,380.0 400.0,379.7 400.5,379.7 401.0,380.3 401.5,380.3 402.0,380.0 403.0,379.9 404.0,380.1 404.5,379.7 405.0,379.5 406.0,379.7 408.0,379.0 408.5,379.2 409.0,378.9 410.5,379.0 411.5,379.0 412.0,379.1 413.0,378.9 413.5,378.7 414.5,378.9 415.5,378.9 417.5,379.9 418.0,379.6 418.5,379.5 419.5,379.7 420.0,379.4 420.5,379.4 421.0,379.0 422.0,379.4 423.0,379.3 423.5,379.4 424.0,379.2 424.5,379.5 426.0,379.7 426.5,379.8 427.0,379.4 427.5,379.6 430.0,378.8 430.5,379.2 431.0,379.3 432.0,379.1 432.5,379.3 433.0,379.4 433.5,379.7 434.0,379.6 434.5,379.3 435.5,379.8 436.0,379.5 436.5,379.8 437.0,379.5 438.0,379.7 438.5,379.4 439.0,379.2 439.5,379.5 440.0,379.6 440.5,379.9 441.0,379.8 442.0,379.9 443.0,379.6 443.5,379.3 444.0,378.7 444.5,378.6 445.0,378.7 445.5,379.1 447.5,379.5 449.0,379.0 450.5,378.8 452.0,379.5 453.0,379.1 454.0,379.4 455.0,378.9 456.0,379.0 456.5,379.2 457.5,379.3 458.5,379.8 459.5,379.8 460.0,379.5 461.0,379.7 461.5,379.6 462.0,379.8 462.5,379.8 463.5,380.1 464.0,380.1 465.0,379.5 466.0,379.2 466.5,379.2 467.0,378.9 467.5,379.1 468.0,378.9 468.5,379.2 469.0,378.8 470.5,379.1 471.0,379.0 471.5,379.0 472.0,378.6 473.0,379.0 473.5,378.7 474.0,378.9 475.0,378.7 475.5,379.0 476.0,378.9 476.5,379.1 477.5,379.1 478.0,379.3 479.0,379.0 479.5,379.1 480.0,378.8 480.5,379.0 481.0,379.1 481.5,378.9 482.0,379.0 484.0,378.8 485.0,378.5 486.0,379.4 486.5,379.5 488.0,379.2 488.5,379.4 489.0,379.0 490.0,378.8 490.5,379.0 491.0,379.0 491.5,379.3 492.0,379.3 493.0,379.0 494.5,379.1 495.5,378.8 496.0,379.2 496.5,379.2 497.0,379.1 497.5,378.9 498.0,379.0 500.0,378.8 502.5,379.5 503.5,379.4 504.0,379.5 505.0,379.6 506.0,379.2 507.0,379.6 507.5,379.4 508.5,379.3 509.5,379.4 511.0,379.2 511.5,379.4 512.0,379.5 513.5,379.2 514.5,379.4 515.0,379.0 516.0,378.7 516.5,378.9 517.5,379.1 518.0,379.0 519.0,379.4 519.5,379.4 520.0,379.4 520.5,379.6 521.0,379.5 521.5,379.7 524.0,379.3 524.5,379.5 526.5,379.8 527.5,379.7 528.0,379.4 528.5,379.3 531.0,378.4 531.5,378.6 532.0,378.5 532.5,378.6 533.5,379.3 534.0,379.4 534.5,379.8 535.0,379.7 536.0,379.7 537.0,379.1 537.5,379.2 538.5,379.0 539.5,379.0 540.0,379.4 541.0,379.8 541.5,379.6 542.5,379.7 543.5,379.3 544.0,379.4 545.0,379.1 546.5,379.5 547.0,379.7 547.5,379.4 549.5,379.3 550.0,379.2 551.5,379.2 552.5,379.4 554.0,379.0 554.5,379.0 555.0,379.4 556.5,379.0 557.0,379.1 557.5,378.9 558.0,379.1 558.5,378.8 559.0,378.9 559.5,378.8 560.5,379.1 561.0,379.1 561.5,378.7 562.0,378.8 562.5,378.6 563.0,378.6 563.5,378.8 564.0,378.5" fill="none" stroke="#1f9a2c" stroke-width="3.0" stroke-linejoin="round" stroke-linecap="butt"/>
<line x1="136.53" y1="397.40" x2="136.53" y2="416.80" stroke="#111" stroke-width="2.6" stroke-linecap="round"/>
<line x1="153.12" y1="397.40" x2="153.12" y2="416.80" stroke="#111" stroke-width="2.6" stroke-linecap="round"/>
<line x1="204.41" y1="397.40" x2="204.41" y2="416.80" stroke="#111" stroke-width="2.6" stroke-linecap="round"/>
<line x1="234.64" y1="397.40" x2="234.64" y2="416.80" stroke="#111" stroke-width="2.6" stroke-linecap="round"/>
<line x1="243.77" y1="397.40" x2="243.77" y2="416.80" stroke="#111" stroke-width="2.6" stroke-linecap="round"/>
<line x1="276.95" y1="397.40" x2="276.95" y2="416.80" stroke="#111" stroke-width="2.6" stroke-linecap="round"/>
<line x1="299.17" y1="397.40" x2="299.17" y2="416.80" stroke="#111" stroke-width="2.6" stroke-linecap="round"/>
<line x1="306.18" y1="397.40" x2="306.18" y2="416.80" stroke="#111" stroke-width="2.6" stroke-linecap="round"/>
<line x1="332.61" y1="397.40" x2="332.61" y2="416.80" stroke="#111" stroke-width="2.6" stroke-linecap="round"/>
<line x1="351.01" y1="397.40" x2="351.01" y2="416.80" stroke="#111" stroke-width="2.6" stroke-linecap="round"/>
<line x1="379.53" y1="397.40" x2="379.53" y2="416.80" stroke="#111" stroke-width="2.6" stroke-linecap="round"/>
<line x1="395.58" y1="397.40" x2="395.58" y2="416.80" stroke="#111" stroke-width="2.6" stroke-linecap="round"/>
<line x1="400.78" y1="397.40" x2="400.78" y2="416.80" stroke="#111" stroke-width="2.6" stroke-linecap="round"/>
<line x1="420.87" y1="397.40" x2="420.87" y2="416.80" stroke="#111" stroke-width="2.6" stroke-linecap="round"/>
<line x1="435.29" y1="397.40" x2="435.29" y2="416.80" stroke="#111" stroke-width="2.6" stroke-linecap="round"/>
<line x1="439.98" y1="397.40" x2="439.98" y2="416.80" stroke="#111" stroke-width="2.6" stroke-linecap="round"/>
<line x1="458.24" y1="397.40" x2="458.24" y2="416.80" stroke="#111" stroke-width="2.6" stroke-linecap="round"/>
<line x1="471.45" y1="397.40" x2="471.45" y2="416.80" stroke="#111" stroke-width="2.6" stroke-linecap="round"/>
<line x1="475.76" y1="397.40" x2="475.76" y2="416.80" stroke="#111" stroke-width="2.6" stroke-linecap="round"/>
<line x1="492.61" y1="397.40" x2="492.61" y2="416.80" stroke="#111" stroke-width="2.6" stroke-linecap="round"/>
<line x1="504.86" y1="397.40" x2="504.86" y2="416.80" stroke="#111" stroke-width="2.6" stroke-linecap="round"/>
<line x1="524.60" y1="397.40" x2="524.60" y2="416.80" stroke="#111" stroke-width="2.6" stroke-linecap="round"/>
<line x1="554.65" y1="397.40" x2="554.65" y2="416.80" stroke="#111" stroke-width="2.6" stroke-linecap="round"/>
<line x1="535.80" y1="397.20" x2="535.80" y2="416.80" stroke="#111" stroke-width="1.9" stroke-linecap="round"/>
<line x1="538.30" y1="397.20" x2="538.30" y2="416.80" stroke="#111" stroke-width="1.9" stroke-linecap="round"/>
<line x1="540.80" y1="397.20" x2="540.80" y2="416.80" stroke="#111" stroke-width="1.9" stroke-linecap="round"/>
<line x1="78.00" y1="86.00" x2="563.00" y2="86.00" stroke="#222" stroke-width="1.4"/>
<line x1="562.50" y1="86.00" x2="562.50" y2="443.60" stroke="#333" stroke-width="1.1"/>
<line x1="82.60" y1="85.30" x2="82.60" y2="444.40" stroke="#000" stroke-width="1.7"/>
<line x1="81.80" y1="443.60" x2="563.10" y2="443.60" stroke="#000" stroke-width="1.7"/>
<line x1="135.91" y1="443.60" x2="135.91" y2="451.60" stroke="#222" stroke-width="1.3"/>
<line x1="189.22" y1="443.60" x2="189.22" y2="448.10" stroke="#222" stroke-width="1.3"/>
<line x1="242.53" y1="443.60" x2="242.53" y2="451.60" stroke="#222" stroke-width="1.3"/>
<line x1="295.84" y1="443.60" x2="295.84" y2="448.10" stroke="#222" stroke-width="1.3"/>
<line x1="349.15" y1="443.60" x2="349.15" y2="451.60" stroke="#222" stroke-width="1.3"/>
<line x1="402.46" y1="443.60" x2="402.46" y2="448.10" stroke="#222" stroke-width="1.3"/>
<line x1="455.77" y1="443.60" x2="455.77" y2="451.60" stroke="#222" stroke-width="1.3"/>
<line x1="509.08" y1="443.60" x2="509.08" y2="448.10" stroke="#222" stroke-width="1.3"/>
<line x1="562.39" y1="443.60" x2="562.39" y2="451.60" stroke="#222" stroke-width="1.3"/>
<text x="135.9" y="483.2" font-size="29.5" text-anchor="middle" fill="#000">2</text>
<text x="242.5" y="483.2" font-size="29.5" text-anchor="middle" fill="#000">4</text>
<text x="349.1" y="483.2" font-size="29.5" text-anchor="middle" fill="#000">6</text>
<text x="455.8" y="483.2" font-size="29.5" text-anchor="middle" fill="#000">8</text>
<text transform="translate(562.4 484) scale(1 1.17)" x="0" y="0" font-size="28.5" text-anchor="middle" fill="#000" stroke="#000" stroke-width="0.9">10</text>
<text x="314.5" y="516.0" font-size="31" text-anchor="middle" fill="#111">Q (A<tspan font-size="14.9" dy="-14.3">-1</tspan><tspan dy="14.3">)</tspan></text>
<text x="56.6" y="257.3" font-size="30.5" text-anchor="middle" fill="#000" transform="rotate(-90 56.6 257.3)">Intensity (a.u.)</text>
<text x="534.3" y="195.6" font-size="30.5" text-anchor="middle" fill="#333">(1)</text>
<text x="530.0" y="351.8" font-size="30.5" text-anchor="middle" fill="#333">(2)</text>
<rect x="589.6" y="3.6" width="87.6" height="64.8" fill="#fff" stroke="#a6a6a6" stroke-width="1.2"/>
<text x="633.4" y="51.0" font-size="46" text-anchor="middle" fill="#000">B</text>
<polyline points="681.5,362.8 681.8,362.9 682.0,362.8 682.8,363.0 683.5,362.9 685.8,363.1 686.2,363.0 687.0,363.0 688.2,362.8 690.2,363.2 691.2,363.2 693.2,363.4 694.8,363.3 696.0,363.5 696.2,363.4 697.5,363.6 699.8,363.3 702.0,363.2 702.8,363.0 703.8,363.2 706.5,363.4 709.2,364.1 712.2,365.1 713.2,365.2 714.0,365.5 715.5,365.8 716.0,365.8 716.2,365.7 717.8,365.9 718.2,365.8 718.5,366.0 719.2,366.2 720.0,366.2 720.5,366.4 721.8,366.4 722.8,366.2 724.2,366.3 725.0,366.2 726.8,365.9 729.8,364.9 731.0,364.2 732.0,363.2 733.5,361.3 734.5,359.5 735.5,356.9 736.0,355.2 736.8,351.5 737.2,348.3 738.0,341.1 738.8,328.9 739.5,308.3 740.0,287.8 740.8,244.8 742.5,114.4 742.8,103.1 743.0,97.2 743.2,97.5 743.5,103.9 743.8,115.6 745.8,262.5 746.5,300.0 747.2,324.0 747.8,334.4 748.2,341.8 748.8,346.9 749.5,352.1 750.2,355.3 751.2,358.3 752.8,361.1 753.5,361.7 754.0,362.0 754.8,362.1 755.2,361.9 756.0,361.0 756.5,360.0 757.2,357.4 758.0,352.7 758.5,347.7 759.2,336.8 761.0,301.2 761.5,295.3 761.8,294.7 762.0,295.8 762.5,302.5 764.2,339.2 765.2,353.1 765.8,357.6 766.5,362.1 767.2,364.7 768.2,366.6 769.8,368.3 770.2,368.7 773.0,370.4 774.8,371.0 777.0,371.3 778.0,371.7 779.2,371.9 780.2,371.8 780.8,372.0 781.5,371.9 782.2,372.0 783.5,372.0 786.0,372.5 787.8,372.7 789.8,372.7 791.2,372.5 792.8,373.0 794.5,373.1 796.8,372.9 797.8,372.9 798.5,372.8 799.0,372.8 800.0,372.7 800.5,372.8 802.0,372.4 802.8,372.1 803.5,372.2 804.8,371.9 805.2,371.4 806.2,368.6 806.5,368.3 807.5,370.3 807.8,370.4 808.2,370.3 808.8,370.0 810.0,368.9 811.0,367.4 812.0,365.5 812.8,363.5 813.5,361.0 814.2,356.6 815.0,349.3 815.8,336.8 816.8,308.7 818.5,234.5 819.0,221.0 819.2,218.8 819.5,220.0 820.0,232.0 821.5,296.6 822.2,322.7 822.8,335.2 823.5,348.2 824.0,353.7 824.5,357.4 825.0,360.4 825.8,363.2 826.5,365.1 827.5,366.8 828.5,368.0 831.0,369.9 832.5,370.2 833.2,370.3 834.0,370.6 835.5,370.9 836.5,370.9 837.0,370.8 839.2,370.9 840.2,370.7 843.5,369.2 844.2,368.6 845.5,367.2 846.5,365.2 847.0,364.1 847.5,362.5 848.0,360.3 848.5,357.2 849.0,352.7 849.5,346.5 850.0,337.6 851.0,311.2 852.5,259.4 853.0,250.0 853.2,249.1 853.5,251.0 854.0,261.9 855.5,313.6 856.2,333.4 857.0,346.7 857.5,352.3 858.0,356.3 858.2,357.8 858.8,359.7 859.2,360.6 859.5,360.8 859.8,360.8 860.0,360.6 860.5,359.6 861.2,356.7 862.8,348.5 863.0,347.6 863.2,347.2 863.5,347.1 863.8,347.5 864.2,349.9 866.0,361.8 866.5,364.3 867.2,367.2 867.8,368.4 868.5,369.8 869.5,370.8 871.5,371.8 872.5,372.0 873.8,372.0 876.0,372.5 877.2,372.6 877.8,372.8 878.2,372.7 880.2,372.8 881.0,372.8 884.0,373.2 885.8,373.0 888.0,373.2 889.0,373.0 889.5,373.1 890.2,372.9 891.5,372.9 891.8,372.7 892.0,372.7 893.5,372.6 894.8,372.1 895.5,371.4 896.5,370.0 897.5,367.3 898.2,363.8 900.0,352.7 900.2,351.7 900.5,351.1 900.8,351.0 901.0,351.4 901.5,353.4 902.8,361.4 903.8,366.5 904.5,369.0 905.0,370.1 905.8,371.1 906.5,371.7 907.8,372.1 908.5,372.2 909.2,372.5 910.8,372.9 912.8,372.4 913.5,372.4 914.0,372.6 914.8,372.5 916.0,372.1 916.5,372.0 917.5,371.5 917.8,371.5 919.0,370.6 919.8,369.8 920.8,367.8 921.5,365.1 922.0,362.3 922.5,358.7 923.0,353.9 925.0,327.9 925.2,325.9 925.5,324.8 925.8,324.7 926.0,325.8 926.5,330.4 927.5,343.7 928.2,352.0 928.8,355.8 929.2,358.3 929.5,358.9 929.8,359.3 930.0,359.3 930.2,359.0 930.8,357.4 931.5,353.0 932.8,343.2 933.2,341.1 933.5,340.9 933.8,341.3 934.2,344.2 935.5,355.6 936.2,361.4 936.8,364.3 937.5,367.3 938.2,369.4 939.5,371.0 941.5,372.2 943.2,372.7 945.5,372.8 945.8,372.9 946.2,372.9 947.8,373.1 948.2,373.0 949.2,373.1 954.0,372.4 954.5,372.2 955.2,372.2 956.5,371.6 957.2,370.9 958.0,369.9 959.0,367.2 959.8,363.7 960.8,355.5 962.5,335.9 963.0,333.1 963.2,333.1 963.5,333.9 964.0,337.9 965.8,357.6 966.5,363.3 967.2,367.1 968.0,369.1 968.5,370.0 969.0,370.6 970.2,371.4 971.0,371.7 973.5,372.4 974.2,372.4 975.5,372.3 976.8,371.8 977.8,371.2 978.5,370.4 979.0,369.6 979.8,367.8 980.5,365.0 981.0,362.0 981.8,356.1 983.0,344.1 983.5,341.2 983.8,340.7 984.0,341.0 984.5,343.6 986.5,361.7 987.5,367.3 988.0,368.9 988.8,370.5 990.0,371.8 991.8,373.1 993.5,373.1 995.0,373.6 995.5,373.5 995.8,373.6 996.2,373.4 999.0,373.9 1000.0,373.8 1000.8,373.9 1001.5,373.8 1003.2,374.0 1005.5,373.8 1005.8,373.6 1009.8,373.3 1010.5,373.0 1011.5,372.3 1012.8,370.4 1013.5,368.6 1015.0,363.9 1015.2,363.3 1015.8,362.7 1016.0,362.8 1016.2,363.1 1016.5,363.7 1018.0,368.5 1018.5,369.8 1019.2,371.3 1020.0,372.2 1021.8,373.0 1022.8,373.2 1023.0,373.3 1025.5,372.8 1027.0,372.2 1028.8,370.9 1029.8,368.9 1030.5,366.3 1031.5,360.4 1033.0,348.6 1033.2,347.2 1033.8,345.6 1034.0,345.8 1034.5,347.7 1036.0,358.0 1036.5,360.4 1037.0,362.0 1037.2,362.4 1037.8,362.6 1038.0,362.5 1039.0,361.1 1039.5,360.9 1039.8,361.0 1040.2,362.0 1042.0,368.1 1043.0,370.6 1044.0,372.0 1045.2,372.8 1046.0,373.0 1047.0,373.4 1047.5,373.3 1048.5,373.5 1049.2,373.7 1052.2,373.7 1053.0,373.8 1053.5,373.6 1054.5,373.6 1054.8,373.5 1055.5,373.4 1057.0,372.8 1057.5,372.5 1058.5,371.4 1059.2,370.0 1060.0,367.7 1061.5,362.4 1061.8,361.9 1062.0,361.6 1062.2,361.5 1062.8,362.2 1064.8,369.0 1065.2,370.2 1066.0,371.6 1066.8,372.5 1067.8,373.2 1068.2,373.5 1069.5,373.7 1070.5,373.5 1071.5,373.5 1071.8,373.4 1072.2,373.5 1072.5,373.3 1073.2,373.4 1075.0,372.2 1076.0,370.5 1077.5,367.0 1078.0,366.2 1078.2,366.1 1078.5,366.1 1079.0,366.4 1080.2,368.5 1081.0,369.1 1081.2,369.1 1081.8,368.9 1083.2,367.6 1083.5,367.5 1083.8,367.7 1084.8,369.0 1085.8,371.0 1086.8,372.3 1087.2,372.9 1088.0,373.4 1088.8,373.8 1089.2,373.9 1089.8,373.9 1090.0,374.0 1091.8,373.9 1092.2,374.0 1092.8,374.0 1093.8,374.2 1094.5,374.2 1095.0,374.3 1095.5,374.2 1096.5,374.3 1097.2,374.2 1097.8,374.3 1098.2,374.0 1100.5,373.7 1101.5,373.3 1103.2,372.2 1104.0,372.0 1105.0,372.5 1106.2,373.3 1107.2,373.7 1108.0,373.8 1108.2,373.7 1109.2,373.9 1110.5,374.0 1112.8,373.4 1113.2,373.4 1114.2,373.0 1115.0,372.4 1115.8,371.2 1116.8,368.8 1118.2,363.9 1118.8,363.0 1119.0,362.9 1119.2,362.9 1119.8,363.7 1121.0,366.6 1121.5,367.4 1122.0,368.0 1123.0,368.4 1123.5,368.4 1124.2,369.0 1125.8,371.2 1126.8,372.5 1127.8,373.3 1129.2,374.1 1130.0,374.3 1131.2,374.3 1132.2,374.1 1132.8,374.2 1134.0,373.9 1135.5,374.1 1136.2,374.1 1138.0,373.1 1138.8,372.5 1139.5,371.4 1140.2,369.7 1141.8,365.5 1142.5,364.3 1142.8,364.3 1143.2,364.8 1143.8,365.9 1145.5,370.6 1146.0,371.5 1147.0,372.7 1147.5,373.1 1148.2,373.4 1149.2,373.4 1150.5,373.3 1151.0,373.4 1152.2,372.5 1153.0,371.6 1154.0,369.4 1155.5,364.7 1155.8,364.1 1156.2,363.4 1156.8,363.6 1157.0,364.1 1158.5,368.8 1159.5,371.2 1160.2,372.3 1160.8,372.8 1161.5,373.2 1162.2,373.5" fill="none" stroke="#f00" stroke-width="2.7" stroke-linejoin="round" stroke-linecap="butt"/>
<polyline points="681.5,362.9 689.5,363.1 701.2,363.9 706.0,364.4 715.8,365.8 719.5,366.2 723.0,366.3 726.0,366.0 728.0,365.6 729.8,365.0 731.2,364.1 732.5,363.0 733.8,361.4 734.8,359.5 735.5,357.6 736.2,355.0 737.0,351.3 737.5,347.8 738.2,339.7 739.0,326.0 739.8,303.0 740.8,251.9 742.2,143.4 742.8,118.1 743.0,112.6 743.2,112.9 743.5,118.9 743.8,129.9 745.8,268.5 746.5,304.0 747.2,326.8 748.0,340.3 748.5,346.0 749.2,351.7 750.0,355.3 751.0,358.5 751.5,359.6 752.2,360.9 752.8,361.5 753.5,362.2 754.2,362.5 755.0,362.4 755.8,361.9 756.2,361.1 756.8,359.9 757.2,357.9 758.0,353.0 758.8,344.9 759.2,337.1 761.0,301.5 761.5,295.7 761.8,295.0 762.0,296.1 762.5,302.6 764.2,339.3 765.2,353.2 765.8,357.7 766.5,362.1 767.2,364.7 767.8,365.9 768.5,367.2 769.8,368.5 771.5,369.7 773.8,370.6 776.5,371.3 780.2,371.8 785.0,372.2 790.5,372.4 795.8,372.3 799.2,372.1 802.2,371.7 804.8,371.2 806.8,370.5 808.5,369.6 809.8,368.6 811.0,367.1 812.0,365.4 812.8,363.6 813.2,362.0 813.8,359.8 814.2,356.7 815.0,349.5 815.8,337.3 816.8,309.7 818.5,236.6 819.0,223.2 819.2,221.0 819.5,222.3 820.0,234.1 821.5,297.7 822.2,323.3 822.8,335.8 823.5,348.5 824.0,354.0 824.5,357.8 825.2,361.6 826.0,364.0 827.0,366.1 828.2,367.8 829.5,368.9 831.2,369.9 832.8,370.4 834.2,370.7 835.8,370.9 837.5,370.9 839.0,370.8 840.5,370.5 841.8,370.1 843.0,369.5 844.0,368.8 844.8,368.1 845.5,367.2 846.2,366.0 847.2,363.6 848.0,360.5 848.5,357.3 849.0,352.8 849.5,346.4 850.0,337.6 851.0,311.2 852.5,259.4 853.0,249.9 853.2,249.0 853.5,250.9 854.0,261.9 855.5,313.7 856.2,333.6 857.0,346.8 857.5,352.6 858.0,356.4 858.5,358.9 859.0,360.3 859.5,360.8 859.8,360.8 860.2,360.1 860.8,358.8 861.2,356.7 862.8,348.4 863.0,347.5 863.2,347.0 863.5,347.0 863.8,347.6 864.2,349.9 865.8,360.4 866.2,363.2 867.0,366.4 867.8,368.4 868.5,369.7 869.5,370.7 871.0,371.5 873.2,372.2 876.2,372.7 880.0,373.0 884.5,373.1 888.5,373.1 891.5,372.8 893.5,372.4 895.0,371.7 895.8,371.0 896.5,369.9 897.0,368.7 897.5,367.1 898.5,362.2 900.0,352.8 900.5,351.1 900.8,351.0 901.0,351.4 901.5,353.5 903.0,363.0 903.8,366.6 904.2,368.3 904.8,369.6 905.2,370.4 905.8,371.1 906.8,371.8 908.2,372.3 910.0,372.5 912.2,372.6 914.5,372.3 916.2,371.9 917.8,371.3 919.0,370.4 919.8,369.6 920.2,368.8 921.0,367.0 921.8,363.9 922.2,360.7 923.2,351.1 925.0,327.9 925.2,325.8 925.5,324.8 925.8,324.7 926.0,325.7 926.5,330.3 928.2,351.9 928.8,355.9 929.0,357.3 929.5,359.0 929.8,359.3 930.0,359.3 930.2,359.0 930.8,357.4 931.5,353.0 932.8,343.3 933.2,341.2 933.5,341.0 933.8,341.5 934.2,344.4 935.5,355.7 936.2,361.5 936.8,364.4 937.5,367.4 938.0,368.8 938.5,369.7 939.5,370.9 941.0,371.8 943.2,372.5 945.5,372.9 948.2,373.0 951.0,372.9 953.2,372.6 955.0,372.1 956.2,371.5 957.2,370.7 958.0,369.6 958.5,368.5 959.0,367.0 959.5,364.8 960.0,361.8 960.8,355.4 962.5,335.8 962.8,334.1 963.0,333.1 963.2,333.1 963.5,334.0 964.0,338.0 965.8,357.5 966.2,361.6 967.0,365.8 967.8,368.4 968.2,369.5 968.8,370.3 969.2,370.8 970.0,371.4 971.0,371.8 972.0,372.1 973.2,372.3 974.8,372.3 976.0,372.1 977.0,371.7 977.8,371.3 978.5,370.5 979.0,369.8 979.5,368.7 980.2,366.1 981.0,361.9 981.8,356.0 983.0,344.3 983.5,341.5 983.8,341.0 984.0,341.3 984.5,343.9 986.5,361.6 987.0,364.7 987.8,368.0 988.2,369.4 988.8,370.4 989.8,371.6 991.2,372.5 993.8,373.2 998.0,373.7 1003.8,373.8 1008.0,373.6 1009.5,373.3 1010.5,373.0 1011.2,372.5 1011.8,372.1 1012.8,370.5 1013.5,368.6 1015.0,363.8 1015.5,362.8 1015.8,362.6 1016.0,362.7 1016.5,363.6 1018.0,368.3 1018.8,370.2 1019.5,371.5 1020.2,372.2 1021.0,372.7 1021.8,372.9 1023.8,373.0 1026.0,372.7 1027.0,372.3 1027.8,371.9 1028.5,371.3 1029.2,370.1 1030.0,368.3 1030.5,366.4 1031.5,360.6 1033.0,348.7 1033.5,346.1 1033.8,345.6 1034.0,345.7 1034.5,347.6 1036.0,357.9 1036.5,360.4 1037.0,362.0 1037.2,362.4 1037.5,362.6 1037.8,362.6 1038.2,362.2 1039.2,361.0 1039.5,360.9 1039.8,361.1 1040.0,361.5 1040.5,362.9 1042.0,368.1 1043.0,370.5 1043.8,371.7 1044.5,372.4 1045.5,372.9 1046.8,373.2 1049.8,373.6 1053.5,373.6 1056.0,373.3 1056.8,373.0 1057.5,372.6 1058.5,371.5 1059.2,370.0 1060.0,367.9 1061.5,362.6 1062.0,361.7 1062.2,361.6 1062.5,361.8 1063.0,363.0 1064.5,368.3 1065.0,369.8 1065.8,371.3 1066.5,372.3 1067.2,372.9 1068.2,373.3 1069.2,373.4 1071.0,373.5 1072.5,373.4 1073.5,373.1 1074.5,372.5 1075.2,371.7 1075.8,370.9 1077.8,366.6 1078.2,366.0 1078.5,366.0 1079.0,366.4 1080.2,368.3 1081.0,369.0 1081.2,369.0 1081.8,368.9 1083.2,367.6 1083.8,367.7 1084.2,368.2 1085.8,370.9 1086.8,372.4 1087.8,373.2 1089.2,373.8 1091.0,374.0 1093.8,374.2 1097.0,374.2 1099.2,374.1 1101.0,373.7 1103.5,372.2 1104.2,372.0 1105.0,372.3 1106.8,373.4 1108.0,373.8 1110.0,373.9 1112.5,373.7 1113.5,373.4 1114.2,373.0 1115.0,372.3 1115.5,371.6 1116.5,369.4 1118.2,364.0 1118.8,363.1 1119.0,363.0 1119.2,363.1 1119.5,363.4 1120.8,366.4 1121.5,367.7 1121.8,368.0 1122.2,368.3 1123.5,368.3 1124.0,368.6 1124.5,369.2 1126.2,371.9 1127.2,372.9 1128.2,373.5 1129.2,373.7 1130.8,373.9 1132.5,374.0 1134.8,373.9 1136.5,373.7 1137.5,373.4 1138.5,372.7 1139.2,371.8 1139.8,371.0 1140.5,369.2 1142.0,364.8 1142.5,364.1 1142.8,364.0 1143.0,364.2 1143.5,365.1 1144.8,368.8 1145.5,370.7 1146.5,372.2 1147.5,373.0 1148.5,373.3 1150.2,373.4 1151.5,373.0 1152.5,372.3 1153.2,371.2 1154.2,368.8 1155.8,364.2 1156.2,363.5 1156.5,363.4 1156.8,363.6 1157.2,364.7 1158.8,369.4 1159.8,371.6 1160.8,372.9 1161.5,373.4 1162.2,373.7" fill="none" stroke="#0000f5" stroke-width="2.6" stroke-linejoin="round" stroke-linecap="butt"/>
<polyline points="681.5,378.5 683.2,378.4 683.8,378.7 684.5,378.3 684.8,378.5 685.0,378.5 685.8,378.7 686.2,378.5 686.8,378.6 687.0,378.4 687.5,378.5 687.8,378.7 689.0,378.4 690.8,378.5 691.8,378.4 692.0,378.5 692.2,378.5 693.0,378.6 693.5,378.5 694.8,378.6 695.0,378.7 695.8,378.6 697.0,378.7 697.8,378.7 698.0,378.5 698.8,378.6 699.5,378.6 700.2,378.4 700.8,378.1 701.2,378.1 701.8,378.0 702.2,378.1 702.8,377.9 703.8,378.3 705.0,378.2 706.0,378.3 707.0,378.1 707.5,378.2 708.0,378.1 708.2,378.3 708.5,378.2 709.0,378.4 709.2,378.3 709.8,378.5 710.2,378.4 710.8,378.6 711.0,378.5 711.2,378.7 711.5,378.6 711.8,378.6 712.2,378.4 712.8,378.6 713.0,378.4 713.8,378.6 714.0,378.5 714.2,378.6 716.8,379.0 717.2,379.0 717.8,378.6 718.2,378.5 720.0,378.3 720.5,378.4 721.0,378.7 721.5,378.8 721.8,378.6 722.8,378.7 723.5,378.9 724.5,378.5 725.0,378.6 725.5,378.4 726.2,378.3 727.0,378.3 727.8,378.6 728.0,378.4 728.8,378.7 729.5,378.6 730.5,378.2 730.8,378.3 731.0,378.1 731.2,378.4 732.5,378.2 733.0,378.3 733.2,378.5 733.5,378.5 734.0,378.7 734.5,378.6 734.8,378.7 735.2,378.5 735.8,378.6 736.0,378.4 737.0,378.5 737.2,378.4 737.5,378.6 737.8,378.6 738.2,379.4 738.8,381.0 739.5,384.1 740.0,385.3 740.2,385.3 740.8,383.8 741.8,378.7 742.2,374.3 743.0,364.6 743.2,362.5 743.5,362.2 743.8,364.1 744.5,375.1 745.0,380.7 745.2,382.2 745.5,383.1 745.8,383.4 746.2,382.3 747.0,379.7 747.8,378.5 748.0,378.4 748.5,378.5 748.8,378.7 749.0,378.6 749.2,378.7 751.2,378.6 751.5,378.4 751.8,378.6 752.0,378.4 753.2,378.6 754.2,378.4 754.5,378.3 756.0,378.2 756.5,377.9 756.8,378.0 757.2,377.8 757.8,377.8 759.0,377.8 759.5,378.3 760.2,379.7 760.8,380.2 761.2,380.1 761.8,379.5 763.2,377.2 763.8,377.1 764.8,377.9 765.0,377.8 765.2,378.1 766.2,378.2 767.2,378.2 767.8,378.4 768.0,378.3 768.2,378.4 769.5,377.8 770.2,377.9 770.5,377.8 770.8,377.9 771.0,377.8 771.8,377.9 772.0,378.2 772.5,378.1 773.2,378.3 773.8,378.3 774.0,378.2 774.8,378.3 775.0,378.5 775.2,378.3 775.8,378.6 777.0,378.5 778.2,378.1 778.8,378.3 779.2,378.2 780.8,378.7 781.2,378.6 782.0,378.3 783.0,378.3 783.2,378.1 783.5,378.2 784.2,378.0 784.5,378.2 785.0,378.1 785.8,378.1 786.2,378.0 786.5,378.3 786.8,378.2 787.0,378.1 787.5,378.3 787.8,378.2 788.0,378.3 788.2,378.3 789.2,378.5 790.0,378.3 790.2,378.5 790.8,378.4 791.5,378.6 791.8,378.4 792.2,378.3 793.2,378.4 794.5,378.0 794.8,378.0 795.2,378.4 795.8,378.3 796.2,378.5 796.5,378.4 796.8,378.6 797.0,378.5 797.5,378.7 798.8,378.5 799.5,378.2 800.0,378.2 800.2,378.4 801.0,378.4 801.5,378.2 802.2,378.3 802.5,378.2 803.0,378.4 804.0,378.0 804.8,378.1 805.5,377.7 805.8,377.4 806.2,375.8 806.5,375.6 807.2,377.6 807.8,378.2 808.8,378.3 809.8,378.1 810.5,378.5 811.0,378.3 811.5,378.5 812.0,378.4 812.2,378.6 813.0,378.6 814.0,378.5 814.8,378.2 815.8,378.1 816.0,378.2 816.2,378.2 817.0,378.6 818.0,380.0 818.5,380.5 819.0,380.2 820.0,378.4 820.5,377.8 821.0,377.5 821.2,377.5 821.8,377.7 822.8,378.3 823.0,378.3 823.2,378.4 824.0,378.3 824.5,378.4 824.8,378.3 825.2,378.3 825.5,378.1 826.2,378.3 826.5,378.1 827.5,378.3 828.5,378.2 829.0,378.4 829.2,378.3 829.8,378.5 831.5,378.8 832.5,378.7 834.0,378.3 834.5,378.5 835.2,378.6 836.0,378.4 836.5,378.6 837.2,378.6 837.8,378.3 839.5,378.4 839.8,378.3 840.8,378.5 841.8,378.1 842.2,378.2 842.5,378.3 843.0,378.3 843.5,378.0 843.8,378.0 845.0,378.4 845.5,378.4 846.0,378.2 846.8,378.5 847.0,378.5 847.2,378.2 848.0,378.2 848.8,378.1 849.2,378.3 849.5,378.1 850.0,378.0 850.2,378.1 850.8,378.4 851.5,379.3 852.2,379.9 852.8,379.8 853.2,379.2 854.5,377.2 855.0,377.0 855.5,377.1 856.2,378.1 856.5,378.2 857.5,378.5 858.0,378.5 858.5,378.8 859.2,379.0 859.8,378.8 860.8,378.7 861.2,379.2 862.0,379.6 863.0,379.5 863.8,379.0 864.2,378.3 865.0,377.6 865.2,377.5 865.8,377.7 866.5,378.3 867.0,378.1 867.5,378.3 868.0,378.1 868.2,378.3 869.8,377.7 870.0,377.8 870.8,377.8 871.2,378.0 871.5,377.9 872.0,378.3 872.8,378.4 873.0,378.6 873.5,378.7 874.5,378.5 874.8,378.6 875.8,378.3 876.0,378.4 876.8,378.4 878.2,378.2 879.0,378.3 879.8,378.0 880.5,378.1 881.0,378.4 881.2,378.3 881.5,378.4 881.8,378.3 882.2,378.5 883.5,378.3 883.8,378.6 884.2,378.6 884.5,378.7 885.0,378.7 885.2,378.8 885.5,378.7 885.8,378.8 886.2,378.9 886.8,378.9 887.0,378.7 887.8,378.4 888.2,378.4 889.2,378.1 889.5,378.2 890.2,378.1 890.8,378.1 891.8,378.0 892.0,378.1 892.8,378.1 893.0,378.3 893.5,378.1 893.8,378.3 894.0,378.1 895.0,378.1 895.2,378.0 895.5,378.2 896.2,378.1 896.8,378.3 897.5,378.3 898.8,378.9 899.5,379.6 899.8,379.5 900.0,379.6 901.0,378.9 901.8,377.9 902.0,377.9 902.2,377.7 902.8,377.6 903.0,378.0 903.2,378.0 903.8,378.4 906.0,378.6 906.8,378.2 907.2,378.2 907.8,378.0 908.0,378.1 908.5,378.0 909.2,378.2 909.5,378.2 910.0,378.4 910.8,378.4 911.0,378.6 911.2,378.7 911.8,378.7 912.2,378.5 912.8,378.6 913.5,378.4 914.0,378.5 914.5,378.2 915.2,378.4 915.8,378.2 916.0,378.3 916.5,378.2 917.0,378.3 917.2,378.2 917.8,378.5 918.0,378.3 918.5,378.3 919.0,378.4 919.5,378.3 919.8,378.4 920.2,378.4 920.8,378.5 921.0,378.4 921.2,378.5 921.5,378.4 922.0,378.6 922.2,378.4 923.5,379.0 924.0,379.5 924.2,379.9 925.0,380.0 925.5,379.6 926.5,377.7 927.5,377.2 929.5,378.3 929.8,378.4 930.0,378.3 930.2,378.3 930.8,378.5 932.5,380.0 933.2,379.8 934.8,377.5 935.0,377.3 935.2,377.3 936.5,377.6 937.0,377.9 939.0,378.1 939.2,378.3 940.0,378.3 941.0,378.7 942.0,378.8 942.5,378.5 943.0,378.6 943.5,378.3 944.5,378.2 944.8,378.2 945.2,378.0 945.5,378.1 945.8,378.3 946.2,378.1 946.5,378.3 947.0,378.3 947.5,378.1 948.0,378.2 948.5,378.5 949.0,378.2 949.8,378.3 950.2,378.1 951.0,378.6 951.5,378.7 951.8,378.5 952.2,378.6 953.0,378.4 953.8,378.4 954.2,378.2 954.5,378.3 954.8,378.2 956.0,378.5 956.8,378.8 957.8,378.5 958.5,378.5 958.8,378.6 959.0,378.5 959.5,378.6 959.8,378.5 960.0,378.4 961.0,378.8 961.8,379.6 962.2,379.8 962.5,379.6 964.0,377.4 964.8,376.9 965.0,377.0 965.8,377.8 966.0,378.0 966.2,378.3 966.5,378.4 966.8,378.4 967.5,378.7 968.0,378.7 968.5,378.5 969.0,378.4 969.2,378.5 969.5,378.4 969.8,378.5 970.5,378.8 971.2,378.5 971.8,378.5 972.2,378.3 972.8,378.4 973.8,378.1 974.8,378.4 975.0,378.3 975.5,378.6 976.2,378.5 976.5,378.6 977.5,378.3 978.2,378.4 978.8,378.1 979.0,378.2 979.2,378.0 979.5,378.1 980.0,377.8 980.2,377.8 981.0,378.0 981.5,378.5 982.5,379.9 983.2,380.3 983.5,380.1 984.2,378.9 984.8,377.9 985.2,377.3 985.5,377.3 986.2,377.5 987.0,378.3 987.5,378.3 988.2,378.6 989.0,378.4 989.2,378.6 991.0,378.4 991.5,378.1 992.2,378.3 993.5,378.2 994.0,378.5 994.2,378.3 994.5,378.5 995.8,378.6 996.8,378.6 997.2,378.4 997.5,378.5 998.2,378.2 999.0,378.3 999.8,378.2 1000.0,378.1 1000.2,378.2 1001.2,378.3 1001.5,378.5 1002.5,378.2 1003.8,378.3 1004.8,378.2 1005.0,378.1 1006.0,378.0 1006.5,378.2 1006.8,378.1 1008.0,378.1 1008.5,378.3 1008.8,378.2 1009.0,378.4 1009.5,378.1 1010.2,378.1 1010.5,378.1 1011.8,377.8 1012.0,377.9 1012.2,377.8 1013.2,378.0 1014.2,378.7 1015.0,379.0 1016.2,378.3 1017.5,377.9 1018.2,377.9 1019.5,378.2 1019.8,378.2 1020.0,378.0 1020.5,378.0 1021.0,378.2 1021.2,378.1 1022.2,378.3 1022.8,378.2 1023.2,378.3 1024.2,378.0 1024.5,378.1 1025.0,378.1 1025.5,377.8 1026.0,378.1 1026.5,377.9 1027.5,378.3 1028.5,378.4 1028.8,378.6 1029.2,378.6 1029.8,378.8 1030.2,378.7 1030.8,378.3 1031.8,378.7 1032.8,379.5 1033.2,379.6 1033.8,379.2 1034.8,378.0 1035.2,377.6 1035.8,377.5 1036.5,377.8 1037.0,378.4 1037.2,378.5 1038.2,378.7 1038.8,378.5 1039.0,378.7 1039.5,378.6 1040.8,377.9 1041.5,377.9 1042.0,378.4 1043.2,378.7 1043.8,378.5 1044.0,378.6 1044.2,378.4 1044.8,378.4 1045.5,378.0 1046.5,377.9 1047.0,378.1 1047.2,378.0 1047.8,378.1 1048.2,378.0 1048.8,378.2 1049.2,378.1 1051.5,378.2 1052.2,378.1 1052.5,378.2 1053.2,377.9 1053.8,378.0 1054.0,377.9 1055.2,378.2 1055.8,378.1 1057.2,378.6 1058.0,378.5 1058.5,378.3 1059.0,378.5 1059.8,378.1 1060.5,378.6 1061.5,378.7 1062.2,378.4 1062.5,378.4 1063.5,377.6 1063.8,377.6 1065.0,378.4 1065.8,378.5 1066.2,378.8 1066.8,378.8 1067.5,378.5 1068.0,378.6 1068.2,378.4 1070.2,378.6 1070.8,378.6 1071.2,378.4 1071.5,378.5 1071.8,378.4 1072.0,378.5 1072.8,378.4 1073.0,378.5 1073.8,378.5 1074.0,378.6 1074.2,378.5 1074.5,378.7 1074.8,378.6 1075.0,378.7 1076.0,378.6 1076.2,378.5 1076.8,378.5 1077.0,378.7 1077.2,378.5 1077.5,378.6 1078.5,378.3 1079.0,378.0 1080.0,378.0 1080.2,377.9 1081.5,378.5 1082.5,378.8 1082.8,378.6 1083.5,378.7 1083.8,378.8 1084.2,378.7 1084.8,378.4 1085.5,378.5 1085.8,378.3 1086.2,378.7 1086.8,378.8 1087.0,378.5 1088.8,378.6 1089.8,378.2 1090.0,378.2 1090.2,378.3 1090.5,378.2 1091.8,378.2 1092.8,378.0 1093.2,378.3 1093.5,378.2 1093.8,378.3 1095.2,378.3 1096.0,378.5 1096.5,378.3 1097.5,378.4 1098.0,378.3 1098.8,378.5 1099.8,378.4 1100.2,378.6 1100.5,378.5 1101.5,378.5 1102.0,378.4 1103.0,378.7 1103.5,378.4 1103.8,378.5 1105.2,378.1 1106.2,378.2 1106.5,378.0 1106.8,378.2 1107.8,378.2 1108.5,378.5 1109.0,378.4 1109.8,378.7 1110.0,378.6 1110.8,378.7 1111.5,378.3 1112.0,378.4 1112.5,378.2 1112.8,378.0 1113.2,378.2 1114.0,378.0 1114.5,378.3 1115.2,378.1 1115.5,378.4 1116.0,378.4 1116.2,378.2 1116.8,378.6 1117.0,378.5 1117.2,378.8 1118.5,379.1 1119.0,378.7 1119.5,378.7 1120.0,378.2 1120.5,378.0 1122.0,378.4 1122.2,378.7 1122.5,378.6 1123.5,378.8 1124.2,378.5 1125.2,378.5 1125.5,378.3 1127.0,378.9 1127.5,378.9 1128.0,378.9 1128.2,378.7 1128.8,378.7 1129.8,378.5 1130.2,378.3 1131.5,378.6 1132.5,378.3 1133.8,378.7 1134.0,378.7 1134.5,378.5 1136.0,378.5 1136.8,378.2 1137.0,378.0 1137.8,378.2 1138.5,378.1 1139.0,378.3 1139.2,378.1 1139.5,378.2 1140.2,378.4 1140.8,378.3 1141.8,379.0 1142.2,378.8 1142.5,378.8 1143.2,378.3 1143.8,378.1 1144.2,378.2 1144.8,378.1 1145.0,378.3 1145.5,378.4 1145.8,378.3 1146.0,378.5 1147.0,378.4 1147.5,378.0 1147.8,378.1 1148.2,377.9 1148.8,378.0 1150.0,378.1 1150.8,378.4 1151.0,378.3 1151.5,378.5 1151.8,378.4 1152.8,378.6 1153.5,378.5 1154.0,378.6 1154.8,378.9 1155.2,379.3 1155.8,379.2 1156.0,379.0 1156.8,378.7 1157.2,378.2 1158.0,377.7 1158.5,377.5 1160.2,378.3 1160.8,378.3 1161.2,378.6 1162.2,378.2" fill="none" stroke="#1f9a2c" stroke-width="2.9" stroke-linejoin="round" stroke-linecap="butt"/>
<line x1="743.11" y1="397.00" x2="743.11" y2="418.00" stroke="#111" stroke-width="2.6" stroke-linecap="round"/>
<line x1="761.73" y1="397.00" x2="761.73" y2="418.00" stroke="#111" stroke-width="2.6" stroke-linecap="round"/>
<line x1="819.28" y1="397.00" x2="819.28" y2="418.00" stroke="#111" stroke-width="2.6" stroke-linecap="round"/>
<line x1="853.20" y1="397.00" x2="853.20" y2="418.00" stroke="#111" stroke-width="2.6" stroke-linecap="round"/>
<line x1="863.45" y1="397.00" x2="863.45" y2="418.00" stroke="#111" stroke-width="2.6" stroke-linecap="round"/>
<line x1="900.68" y1="397.00" x2="900.68" y2="418.00" stroke="#111" stroke-width="2.6" stroke-linecap="round"/>
<line x1="925.61" y1="397.00" x2="925.61" y2="418.00" stroke="#111" stroke-width="2.6" stroke-linecap="round"/>
<line x1="933.48" y1="397.00" x2="933.48" y2="418.00" stroke="#111" stroke-width="2.6" stroke-linecap="round"/>
<line x1="963.14" y1="397.00" x2="963.14" y2="418.00" stroke="#111" stroke-width="2.6" stroke-linecap="round"/>
<line x1="983.78" y1="397.00" x2="983.78" y2="418.00" stroke="#111" stroke-width="2.6" stroke-linecap="round"/>
<line x1="1015.79" y1="397.00" x2="1015.79" y2="418.00" stroke="#111" stroke-width="2.6" stroke-linecap="round"/>
<line x1="1033.80" y1="397.00" x2="1033.80" y2="418.00" stroke="#111" stroke-width="2.6" stroke-linecap="round"/>
<line x1="1039.63" y1="397.00" x2="1039.63" y2="418.00" stroke="#111" stroke-width="2.6" stroke-linecap="round"/>
<line x1="1062.18" y1="397.00" x2="1062.18" y2="418.00" stroke="#111" stroke-width="2.6" stroke-linecap="round"/>
<line x1="1078.36" y1="397.00" x2="1078.36" y2="418.00" stroke="#111" stroke-width="2.6" stroke-linecap="round"/>
<line x1="1083.62" y1="397.00" x2="1083.62" y2="418.00" stroke="#111" stroke-width="2.6" stroke-linecap="round"/>
<line x1="1104.12" y1="397.00" x2="1104.12" y2="418.00" stroke="#111" stroke-width="2.6" stroke-linecap="round"/>
<line x1="1118.93" y1="397.00" x2="1118.93" y2="418.00" stroke="#111" stroke-width="2.6" stroke-linecap="round"/>
<line x1="1123.77" y1="397.00" x2="1123.77" y2="418.00" stroke="#111" stroke-width="2.6" stroke-linecap="round"/>
<line x1="1142.68" y1="397.00" x2="1142.68" y2="418.00" stroke="#111" stroke-width="2.6" stroke-linecap="round"/>
<line x1="1156.43" y1="397.00" x2="1156.43" y2="418.00" stroke="#111" stroke-width="2.6" stroke-linecap="round"/>
<line x1="682.60" y1="86.00" x2="1161.20" y2="86.00" stroke="#222" stroke-width="1.5"/>
<line x1="1161.20" y1="86.00" x2="1161.20" y2="442.80" stroke="#222" stroke-width="1.8"/>
<line x1="682.60" y1="85.30" x2="682.60" y2="443.60" stroke="#111" stroke-width="1.4"/>
<line x1="681.80" y1="442.80" x2="1161.80" y2="442.80" stroke="#000" stroke-width="1.6"/>
<line x1="742.42" y1="442.80" x2="742.42" y2="450.80" stroke="#222" stroke-width="1.3"/>
<line x1="802.24" y1="442.80" x2="802.24" y2="447.30" stroke="#222" stroke-width="1.3"/>
<line x1="862.06" y1="442.80" x2="862.06" y2="450.80" stroke="#222" stroke-width="1.3"/>
<line x1="921.88" y1="442.80" x2="921.88" y2="447.30" stroke="#222" stroke-width="1.3"/>
<line x1="981.70" y1="442.80" x2="981.70" y2="450.80" stroke="#222" stroke-width="1.3"/>
<line x1="1041.52" y1="442.80" x2="1041.52" y2="447.30" stroke="#222" stroke-width="1.3"/>
<line x1="1101.34" y1="442.80" x2="1101.34" y2="450.80" stroke="#222" stroke-width="1.3"/>
<text x="743.2" y="483.5" font-size="30" text-anchor="middle" fill="#000">2</text>
<text x="862.9" y="483.5" font-size="30" text-anchor="middle" fill="#000">4</text>
<text x="982.5" y="483.5" font-size="30" text-anchor="middle" fill="#000">6</text>
<text x="1102.1" y="483.5" font-size="30" text-anchor="middle" fill="#000">8</text>
<text x="910.5" y="515.0" font-size="31" text-anchor="middle" fill="#111">Q (A<tspan font-size="14.9" dy="-14.3">-1</tspan><tspan dy="14.3">)</tspan></text>
<text x="660.5" y="262.4" font-size="30.8" text-anchor="middle" fill="#000" transform="rotate(-90 660.5 262.4)">Intensity (a.u.)</text>
<rect x="1173.8" y="3.6" width="87.6" height="64.8" fill="#fff" stroke="#a6a6a6" stroke-width="1.2"/>
<text x="1217.6" y="51.6" font-size="46" text-anchor="middle" fill="#000">C</text>
<polyline points="1274.5,367.0 1312.3,367.9 1321.5,368.0 1323.9,367.9 1325.3,367.8 1326.1,367.5 1326.3,367.3 1326.5,366.9 1326.7,365.8 1326.9,363.1 1327.1,356.5 1327.3,342.7 1327.5,317.2 1328.3,122.1 1328.5,103.7 1328.7,119.3 1329.3,273.1 1329.5,314.5 1329.7,341.1 1329.9,355.8 1330.1,362.8 1330.3,365.7 1330.5,366.9 1330.7,367.3 1330.9,367.5 1331.3,367.8 1332.1,368.0 1334.3,368.2 1337.9,368.3 1341.7,368.3 1342.7,368.2 1343.1,368.0 1343.3,367.6 1343.5,366.8 1343.7,364.7 1343.9,360.4 1344.1,352.5 1344.9,294.8 1345.1,290.2 1345.3,295.6 1346.1,353.3 1346.3,360.8 1346.5,364.9 1346.7,366.9 1346.9,367.7 1347.1,368.0 1347.5,368.2 1348.5,368.3 1350.1,368.3 1380.9,368.4 1388.3,368.4 1391.7,368.3 1393.5,368.0 1394.1,367.8 1394.3,367.6 1394.5,367.1 1394.7,365.7 1394.9,362.2 1395.1,354.6 1395.3,340.0 1395.5,316.1 1396.1,211.1 1396.3,193.0 1396.5,197.1 1396.7,221.9 1397.1,295.6 1397.5,346.2 1397.7,358.0 1397.9,363.8 1398.1,366.3 1398.3,367.3 1398.5,367.7 1398.7,367.9 1399.3,368.1 1400.1,368.2 1402.9,368.3 1411.7,368.4 1420.5,368.3 1422.7,368.2 1423.9,368.1 1424.3,367.9 1424.5,367.7 1424.7,367.3 1424.9,366.2 1425.1,363.5 1425.3,357.5 1425.5,345.9 1425.7,326.5 1426.3,238.9 1426.5,222.5 1426.7,224.5 1426.9,244.1 1427.3,305.4 1427.7,348.9 1427.9,359.1 1428.1,364.3 1428.3,366.6 1428.5,367.4 1428.7,367.8 1428.9,367.9 1429.5,368.1 1430.5,368.2 1432.1,368.3 1433.5,368.2 1433.9,368.1 1434.1,367.8 1434.3,367.1 1434.5,365.6 1434.7,362.8 1435.5,341.7 1435.7,339.8 1435.9,341.5 1436.7,362.6 1436.9,365.5 1437.1,367.0 1437.3,367.8 1437.5,368.1 1437.9,368.3 1439.7,368.4 1454.9,368.4 1465.5,368.4 1466.7,368.3 1467.1,368.1 1467.3,367.8 1467.5,366.9 1467.7,365.3 1467.9,362.3 1468.7,341.2 1468.9,339.8 1469.1,342.1 1469.7,359.0 1469.9,363.2 1470.1,365.8 1470.3,367.2 1470.5,367.9 1470.7,368.1 1471.1,368.3 1473.3,368.4 1486.3,368.3 1488.5,368.2 1488.9,368.2 1489.1,368.1 1489.3,367.8 1489.5,367.1 1489.7,365.5 1489.9,362.1 1490.1,356.0 1490.3,346.5 1490.9,311.6 1491.1,308.2 1491.3,312.6 1491.9,347.9 1492.1,357.0 1492.3,362.7 1492.5,365.8 1492.7,367.2 1492.9,367.8 1493.1,368.1 1493.3,368.2 1494.9,368.3 1495.7,368.2 1496.1,368.2 1496.3,368.0 1496.5,367.6 1496.7,366.6 1496.9,364.5 1497.1,360.7 1497.9,332.5 1498.1,330.2 1498.3,332.8 1499.1,360.9 1499.3,364.7 1499.5,366.7 1499.7,367.6 1499.9,368.0 1500.1,368.2 1500.3,368.2 1502.1,368.3 1517.1,368.4 1521.7,368.3 1522.3,368.2 1522.5,368.1 1522.7,367.9 1522.9,367.4 1523.1,366.2 1523.3,363.6 1523.5,358.8 1524.3,321.5 1524.5,317.8 1524.7,320.7 1525.3,350.0 1525.5,358.0 1525.7,363.1 1525.9,366.0 1526.1,367.3 1526.3,367.9 1526.5,368.1 1526.7,368.2 1527.9,368.3 1530.3,368.4 1539.9,368.3 1540.5,368.3 1540.9,368.2 1541.1,368.0 1541.3,367.6 1541.5,366.6 1541.7,364.4 1541.9,360.4 1542.7,330.0 1542.9,327.2 1543.1,329.7 1543.7,353.7 1543.9,360.1 1544.1,364.2 1544.3,366.5 1544.5,367.6 1544.7,368.0 1544.9,368.2 1545.1,368.2 1546.3,368.3 1548.7,368.4 1564.5,368.4 1568.9,368.4 1569.5,368.3 1569.7,368.2 1569.9,368.0 1570.1,367.5 1570.3,366.4 1570.7,362.1 1571.1,356.1 1571.3,354.1 1571.5,354.0 1571.7,355.6 1572.3,364.3 1572.5,366.2 1572.7,367.3 1572.9,367.9 1573.1,368.2 1573.3,368.3 1573.9,368.4 1578.3,368.4 1583.9,368.3 1585.1,368.3 1585.5,368.2 1585.7,368.0 1585.9,367.5 1586.1,366.4 1586.3,364.1 1586.5,360.1 1586.7,354.0 1587.3,332.8 1587.5,331.3 1587.7,334.5 1588.3,356.5 1588.5,361.9 1588.7,365.2 1588.9,366.9 1589.1,367.7 1589.3,368.1 1589.7,368.2 1590.5,368.3 1590.9,368.2 1591.1,368.0 1591.3,367.5 1591.5,366.4 1591.7,364.6 1591.9,361.8 1592.3,354.9 1592.5,352.4 1592.7,351.8 1592.9,353.3 1593.5,363.2 1593.7,365.5 1593.9,367.0 1594.1,367.8 1594.3,368.1 1594.5,368.3 1594.9,368.3 1596.9,368.4 1608.7,368.4 1610.3,368.3 1610.9,368.3 1611.1,368.1 1611.3,367.7 1611.5,366.9 1611.7,365.3 1611.9,362.8 1612.5,352.3 1612.7,350.7 1612.9,351.3 1613.1,354.0 1613.5,361.4 1613.7,364.4 1613.9,366.3 1614.1,367.4 1614.3,368.0 1614.5,368.2 1614.9,368.3 1617.5,368.4 1623.9,368.4 1625.1,368.3 1625.5,368.2 1625.7,368.0 1625.9,367.4 1626.1,366.4 1626.3,364.8 1626.9,357.8 1627.1,356.7 1627.3,357.0 1627.5,358.7 1627.9,363.6 1628.3,366.9 1628.5,367.7 1628.7,368.1 1628.9,368.2 1629.5,368.3 1630.1,368.3 1630.3,368.2 1630.5,367.9 1630.7,367.4 1631.1,364.9 1631.5,361.4 1631.7,360.1 1631.9,359.8 1632.1,360.6 1632.7,365.8 1632.9,367.0 1633.1,367.7 1633.3,368.1 1633.5,368.3 1633.7,368.3 1635.5,368.4 1644.9,368.4 1647.9,368.4 1648.5,368.3 1648.7,368.2 1648.9,368.0 1649.1,367.6 1649.9,364.5 1650.1,364.2 1650.3,364.5 1651.1,367.6 1651.3,368.0 1651.5,368.2 1651.7,368.3 1652.3,368.4 1654.9,368.4 1659.9,368.4 1661.3,368.3 1661.5,368.2 1661.7,368.1 1661.9,367.7 1662.1,366.8 1662.3,365.3 1663.1,353.6 1663.3,352.6 1663.5,353.6 1664.3,365.3 1664.5,366.8 1664.7,367.7 1664.9,368.1 1665.1,368.2 1665.7,368.3 1666.1,368.2 1666.3,368.0 1666.5,367.6 1666.9,365.9 1667.3,363.4 1667.5,362.7 1667.7,362.7 1667.9,363.3 1668.5,366.8 1668.7,367.5 1668.9,368.0 1669.1,368.2 1669.3,368.3 1670.1,368.4 1675.9,368.4 1681.1,368.4 1682.5,368.3 1682.7,368.2 1682.9,368.0 1683.1,367.5 1683.3,366.5 1683.5,364.8 1683.7,362.1 1684.1,355.3 1684.3,352.9 1684.5,352.2 1684.7,353.7 1685.3,363.3 1685.5,365.6 1685.7,367.0 1685.9,367.8 1686.1,368.1 1686.5,368.3 1687.3,368.4 1692.7,368.4 1694.7,368.3 1694.9,368.2 1695.1,368.1 1695.3,367.6 1695.5,366.7 1695.7,365.1 1696.5,352.7 1696.7,351.6 1696.9,352.6 1697.5,362.4 1697.7,365.0 1697.9,366.7 1698.1,367.6 1698.3,368.1 1698.5,368.2 1698.7,368.3 1701.9,368.4 1714.7,368.4 1715.1,368.3 1715.3,368.2 1715.7,367.7 1716.1,366.9 1716.3,366.7 1716.5,366.6 1716.7,366.8 1717.3,367.9 1717.5,368.1 1717.9,368.3 1719.1,368.4 1726.1,368.4 1726.5,368.2 1726.7,368.0 1726.9,367.5 1727.7,364.1 1727.9,363.8 1728.1,364.1 1728.7,366.7 1728.9,367.4 1729.1,367.9 1729.3,368.2 1729.5,368.3 1729.9,368.3 1730.1,368.3 1730.3,368.1 1730.5,367.8 1730.7,367.2 1731.5,362.9 1731.7,362.6 1731.9,363.1 1732.7,367.3 1732.9,367.9 1733.1,368.2 1733.3,368.3 1733.7,368.4 1734.7,368.4 1744.5,368.4 1744.9,368.3 1745.1,368.1 1745.3,367.7 1745.5,367.1 1745.7,366.1 1746.3,362.5 1746.5,362.2 1746.7,362.7 1747.3,366.4 1747.5,367.3 1747.7,367.8 1747.9,368.1 1748.1,368.3 1748.9,368.4 1756.3,368.4" fill="none" stroke="#f00" stroke-width="2.4" stroke-linejoin="round" stroke-linecap="butt"/>
<polyline points="1274.5,367.0 1312.3,367.9 1321.5,368.0 1323.9,367.9 1325.3,367.8 1326.1,367.5 1326.3,367.3 1326.5,367.0 1326.7,366.0 1326.9,363.5 1327.1,357.4 1327.3,344.6 1327.5,320.9 1328.3,140.1 1328.5,123.1 1328.7,137.6 1329.3,280.1 1329.5,318.4 1329.7,343.1 1329.9,356.7 1330.1,363.2 1330.3,365.9 1330.5,367.0 1330.7,367.4 1330.9,367.6 1331.3,367.8 1332.1,368.0 1334.3,368.2 1338.1,368.3 1341.7,368.3 1342.7,368.2 1343.1,368.0 1343.3,367.7 1343.5,366.8 1343.7,364.8 1343.9,360.7 1344.1,353.1 1344.9,297.7 1345.1,293.2 1345.3,298.4 1346.1,353.9 1346.3,361.1 1346.5,365.1 1346.7,366.9 1346.9,367.7 1347.1,368.0 1347.5,368.2 1349.9,368.3 1378.1,368.4 1387.5,368.4 1391.5,368.3 1393.5,368.1 1394.1,367.9 1394.3,367.7 1394.5,367.2 1394.7,365.9 1394.9,362.7 1395.1,355.7 1395.3,342.3 1395.5,320.2 1396.1,223.6 1396.3,206.9 1396.5,210.7 1396.7,233.5 1397.1,301.3 1397.5,348.0 1397.7,358.8 1397.9,364.1 1398.1,366.5 1398.3,367.4 1398.5,367.8 1398.7,367.9 1399.3,368.1 1400.1,368.2 1402.9,368.3 1411.9,368.4 1420.5,368.3 1422.7,368.2 1423.9,368.1 1424.3,367.9 1424.5,367.8 1424.7,367.4 1424.9,366.4 1425.1,363.8 1425.3,358.1 1425.5,347.1 1425.7,328.8 1426.3,245.9 1426.5,230.4 1426.7,232.3 1426.9,250.9 1427.3,308.8 1427.7,349.9 1427.9,359.7 1428.1,364.5 1428.3,366.7 1428.5,367.5 1428.7,367.8 1428.9,368.0 1429.5,368.1 1430.5,368.2 1432.1,368.3 1433.5,368.3 1433.9,368.1 1434.1,367.8 1434.3,367.1 1434.5,365.7 1434.7,363.1 1435.5,343.0 1435.7,341.2 1435.9,342.8 1436.7,362.9 1436.9,365.6 1437.1,367.1 1437.3,367.8 1437.5,368.1 1437.9,368.3 1439.7,368.4 1454.9,368.4 1465.5,368.4 1466.7,368.3 1467.1,368.1 1467.3,367.8 1467.5,367.0 1467.7,365.4 1467.9,362.6 1468.7,342.5 1468.9,341.2 1469.1,343.4 1469.7,359.5 1469.9,363.4 1470.1,365.9 1470.3,367.3 1470.5,367.9 1470.7,368.2 1471.1,368.3 1473.5,368.4 1486.3,368.3 1488.5,368.2 1488.9,368.2 1489.1,368.1 1489.3,367.8 1489.5,367.1 1489.7,365.5 1489.9,362.2 1490.1,356.2 1490.3,346.8 1490.9,312.5 1491.1,309.2 1491.3,313.5 1491.9,348.3 1492.1,357.1 1492.3,362.8 1492.5,365.8 1492.7,367.2 1492.9,367.8 1493.1,368.1 1493.3,368.2 1494.9,368.3 1495.7,368.2 1496.1,368.2 1496.3,368.0 1496.5,367.6 1496.7,366.6 1496.9,364.5 1497.1,360.7 1497.9,332.5 1498.1,330.2 1498.3,332.8 1499.1,360.9 1499.3,364.7 1499.5,366.7 1499.7,367.6 1499.9,368.0 1500.1,368.2 1500.3,368.2 1502.1,368.3 1517.1,368.4 1521.7,368.3 1522.3,368.2 1522.5,368.1 1522.7,367.9 1522.9,367.4 1523.1,366.2 1523.3,363.6 1523.5,358.8 1524.3,321.5 1524.5,317.8 1524.7,320.7 1525.3,350.0 1525.5,358.0 1525.7,363.1 1525.9,366.0 1526.1,367.3 1526.3,367.9 1526.5,368.1 1526.7,368.2 1527.9,368.3 1530.3,368.4 1539.9,368.3 1540.5,368.3 1540.9,368.2 1541.1,368.0 1541.3,367.6 1541.5,366.6 1541.7,364.4 1541.9,360.4 1542.7,330.0 1542.9,327.2 1543.1,329.7 1543.7,353.7 1543.9,360.1 1544.1,364.2 1544.3,366.5 1544.5,367.6 1544.7,368.0 1544.9,368.2 1545.1,368.2 1546.3,368.3 1548.7,368.4 1564.5,368.4 1568.9,368.4 1569.5,368.3 1569.7,368.2 1569.9,368.0 1570.1,367.5 1570.3,366.4 1570.7,362.1 1571.1,356.1 1571.3,354.1 1571.5,354.0 1571.7,355.6 1572.3,364.3 1572.5,366.2 1572.7,367.3 1572.9,367.9 1573.1,368.2 1573.3,368.3 1573.9,368.4 1578.1,368.4 1583.9,368.3 1585.1,368.3 1585.5,368.2 1585.7,368.0 1585.9,367.5 1586.1,366.4 1586.3,364.2 1586.5,360.2 1586.7,354.2 1587.3,333.4 1587.5,331.9 1587.7,335.1 1588.3,356.7 1588.5,362.0 1588.7,365.2 1588.9,366.9 1589.1,367.7 1589.3,368.1 1589.7,368.2 1590.5,368.3 1590.9,368.2 1591.1,368.0 1591.3,367.5 1591.5,366.4 1591.7,364.6 1591.9,361.8 1592.3,354.9 1592.5,352.4 1592.7,351.8 1592.9,353.3 1593.5,363.2 1593.7,365.5 1593.9,367.0 1594.1,367.8 1594.3,368.1 1594.5,368.3 1594.9,368.3 1596.9,368.4 1608.7,368.4 1610.3,368.3 1610.9,368.3 1611.1,368.1 1611.3,367.7 1611.5,366.9 1611.7,365.3 1611.9,362.8 1612.5,352.3 1612.7,350.7 1612.9,351.3 1613.1,354.0 1613.5,361.4 1613.7,364.4 1613.9,366.3 1614.1,367.4 1614.3,368.0 1614.5,368.2 1614.9,368.3 1617.5,368.4 1623.9,368.4 1625.1,368.3 1625.5,368.2 1625.7,368.0 1625.9,367.4 1626.1,366.4 1626.3,364.8 1626.9,357.8 1627.1,356.7 1627.3,357.0 1627.5,358.7 1627.9,363.6 1628.3,366.9 1628.5,367.7 1628.7,368.1 1628.9,368.2 1629.5,368.3 1630.1,368.3 1630.3,368.2 1630.5,367.9 1630.7,367.4 1631.1,364.9 1631.5,361.4 1631.7,360.1 1631.9,359.8 1632.1,360.6 1632.7,365.8 1632.9,367.0 1633.1,367.7 1633.3,368.1 1633.5,368.3 1633.7,368.3 1635.5,368.4 1644.9,368.4 1647.9,368.4 1648.5,368.3 1648.7,368.2 1648.9,368.0 1649.1,367.6 1649.9,364.5 1650.1,364.2 1650.3,364.5 1651.1,367.6 1651.3,368.0 1651.5,368.2 1651.7,368.3 1652.3,368.4 1654.9,368.4 1659.9,368.4 1661.3,368.3 1661.5,368.2 1661.7,368.1 1661.9,367.7 1662.1,366.8 1662.3,365.3 1663.1,353.6 1663.3,352.6 1663.5,353.6 1664.3,365.3 1664.5,366.8 1664.7,367.7 1664.9,368.1 1665.1,368.2 1665.7,368.3 1666.1,368.2 1666.3,368.0 1666.5,367.6 1666.9,365.9 1667.3,363.4 1667.5,362.7 1667.7,362.7 1667.9,363.3 1668.5,366.8 1668.7,367.5 1668.9,368.0 1669.1,368.2 1669.3,368.3 1670.1,368.4 1675.9,368.4 1681.1,368.4 1682.5,368.3 1682.7,368.2 1682.9,368.0 1683.1,367.5 1683.3,366.5 1683.5,364.8 1683.7,362.1 1684.1,355.3 1684.3,352.9 1684.5,352.2 1684.7,353.7 1685.3,363.3 1685.5,365.6 1685.7,367.0 1685.9,367.8 1686.1,368.1 1686.5,368.3 1687.3,368.4 1692.7,368.4 1694.7,368.3 1694.9,368.2 1695.1,368.1 1695.3,367.6 1695.5,366.7 1695.7,365.1 1696.5,352.7 1696.7,351.6 1696.9,352.6 1697.5,362.4 1697.7,365.0 1697.9,366.7 1698.1,367.6 1698.3,368.1 1698.5,368.2 1698.7,368.3 1701.9,368.4 1714.7,368.4 1715.1,368.3 1715.3,368.2 1715.7,367.7 1716.1,366.9 1716.3,366.7 1716.5,366.6 1716.7,366.8 1717.3,367.9 1717.5,368.1 1717.9,368.3 1719.1,368.4 1726.1,368.4 1726.5,368.2 1726.7,368.0 1726.9,367.5 1727.7,364.1 1727.9,363.8 1728.1,364.1 1728.7,366.7 1728.9,367.4 1729.1,367.9 1729.3,368.2 1729.5,368.3 1729.9,368.3 1730.1,368.3 1730.3,368.1 1730.5,367.8 1730.7,367.2 1731.5,362.9 1731.7,362.6 1731.9,363.1 1732.7,367.3 1732.9,367.9 1733.1,368.2 1733.3,368.3 1733.7,368.4 1734.7,368.4 1744.5,368.4 1744.9,368.3 1745.1,368.1 1745.3,367.7 1745.5,367.1 1745.7,366.1 1746.3,362.5 1746.5,362.2 1746.7,362.7 1747.3,366.4 1747.5,367.3 1747.7,367.8 1747.9,368.1 1748.1,368.3 1748.9,368.4 1756.3,368.4" fill="none" stroke="#0000f5" stroke-width="2.3" stroke-linejoin="round" stroke-linecap="butt"/>
<polyline points="1274.5,380.8 1274.9,380.7 1275.3,380.5 1275.9,380.6 1276.3,380.9 1276.5,380.7 1277.5,380.8 1278.1,380.5 1279.1,380.7 1279.5,380.5 1279.7,380.6 1281.1,380.6 1281.5,380.7 1282.5,380.5 1283.3,380.7 1283.7,380.7 1284.1,380.8 1284.3,380.6 1284.9,380.7 1285.1,380.6 1285.3,380.6 1285.7,380.5 1286.5,380.7 1287.3,380.5 1287.9,380.7 1288.5,380.4 1288.9,380.4 1289.5,380.7 1290.3,380.7 1290.5,380.6 1291.1,380.8 1291.3,380.7 1292.3,380.7 1293.1,380.5 1295.7,380.5 1295.9,380.6 1296.1,380.5 1297.1,380.9 1297.9,380.7 1298.3,380.8 1299.1,380.6 1299.9,380.7 1300.5,380.8 1301.5,380.6 1302.7,380.8 1303.1,380.6 1303.9,380.6 1304.1,380.7 1304.9,380.8 1305.7,380.7 1306.7,380.8 1307.1,380.6 1307.3,380.7 1307.7,380.5 1309.1,380.7 1309.5,380.5 1310.5,380.6 1311.3,380.5 1312.1,380.6 1312.5,380.5 1312.9,380.6 1313.1,380.5 1313.3,380.6 1314.3,380.6 1314.7,380.8 1316.5,380.3 1317.5,380.7 1317.9,380.6 1318.3,380.8 1319.3,380.5 1320.3,380.9 1320.5,380.7 1320.7,380.8 1321.3,380.6 1321.5,380.6 1321.9,380.4 1322.7,380.5 1322.9,380.7 1323.3,380.7 1323.5,380.8 1324.1,380.6 1325.3,380.6 1326.3,380.4 1326.7,379.8 1327.1,377.6 1327.5,371.7 1328.1,358.8 1328.3,356.4 1328.5,356.4 1328.7,358.6 1329.5,375.1 1329.9,379.2 1330.3,380.5 1330.7,380.8 1331.5,380.9 1332.5,380.7 1332.7,380.8 1333.5,380.8 1334.3,380.5 1335.5,380.5 1336.5,380.7 1336.7,380.6 1337.5,380.5 1338.7,380.7 1339.3,380.6 1339.5,380.7 1339.9,380.6 1340.3,380.8 1340.5,380.6 1341.5,380.6 1342.3,380.4 1342.9,380.6 1343.3,380.5 1343.5,380.4 1343.9,379.6 1344.7,376.4 1344.9,376.1 1345.1,376.0 1346.1,379.8 1346.3,380.1 1346.5,380.3 1346.9,380.5 1348.1,380.6 1348.7,380.8 1349.7,380.5 1350.5,380.8 1350.9,380.6 1351.9,380.8 1352.9,380.4 1353.5,380.5 1353.7,380.7 1354.9,380.9 1356.7,380.5 1357.7,380.7 1358.5,380.7 1358.7,380.6 1358.9,380.6 1359.5,380.5 1360.1,380.7 1361.5,380.7 1362.5,380.5 1363.3,380.8 1363.7,380.8 1364.1,380.8 1364.3,380.7 1364.7,380.7 1365.1,380.4 1365.5,380.5 1365.7,380.4 1366.3,380.5 1366.7,380.7 1367.5,380.5 1368.3,380.8 1368.9,380.7 1369.3,380.5 1369.5,380.6 1369.9,380.5 1370.3,380.5 1370.7,380.4 1371.5,380.4 1371.7,380.5 1372.3,380.5 1372.5,380.6 1372.7,380.4 1373.3,380.6 1373.9,380.5 1374.1,380.7 1374.3,380.5 1375.7,380.7 1376.7,380.4 1377.7,380.7 1378.7,380.4 1378.9,380.6 1379.7,380.8 1380.5,380.8 1381.3,380.6 1382.7,380.4 1384.7,380.8 1385.9,380.5 1386.3,380.7 1386.5,380.6 1387.5,380.9 1388.3,380.5 1388.7,380.6 1389.1,380.5 1390.1,380.7 1390.5,380.5 1391.1,380.5 1391.3,380.4 1391.7,380.5 1391.9,380.5 1392.3,380.7 1392.7,380.5 1392.9,380.6 1393.9,380.6 1394.3,380.4 1394.7,379.6 1395.1,377.0 1395.9,364.8 1396.1,362.6 1396.3,362.2 1396.7,366.2 1397.3,375.6 1397.5,377.7 1397.9,379.7 1398.3,380.4 1398.7,380.6 1399.1,380.7 1399.7,380.5 1400.9,380.8 1401.9,380.6 1402.5,380.8 1403.5,380.3 1404.5,380.6 1404.9,380.5 1405.1,380.6 1405.5,380.6 1405.9,380.7 1406.7,380.7 1407.9,380.5 1409.5,380.7 1410.7,380.4 1411.9,380.6 1413.3,380.4 1414.3,380.6 1414.9,380.5 1415.3,380.7 1415.9,380.8 1416.3,380.6 1416.9,380.7 1417.9,380.4 1419.1,380.5 1419.3,380.6 1420.1,380.5 1420.9,380.6 1421.1,380.7 1421.3,380.5 1421.5,380.5 1421.7,380.6 1422.1,380.5 1422.5,380.5 1422.7,380.3 1423.1,380.3 1423.5,380.4 1423.9,380.7 1424.3,380.7 1424.9,380.3 1425.3,378.9 1426.1,371.9 1426.3,370.5 1426.5,370.1 1426.9,372.2 1427.5,377.6 1427.9,379.6 1428.1,380.0 1428.5,380.5 1429.5,380.4 1430.5,380.7 1431.3,380.4 1431.9,380.4 1432.9,380.8 1433.3,380.7 1433.5,380.8 1433.9,380.6 1434.3,380.6 1434.9,380.4 1436.1,380.8 1436.9,380.7 1437.3,380.8 1437.7,380.6 1437.9,380.7 1438.3,380.5 1438.7,380.7 1439.5,380.4 1440.1,380.5 1440.7,380.4 1441.3,380.6 1441.5,380.6 1441.7,380.7 1442.1,380.7 1442.5,380.8 1443.1,380.8 1444.1,380.5 1444.5,380.6 1445.5,380.5 1445.9,380.7 1446.7,380.4 1447.7,380.5 1448.3,380.3 1448.9,380.4 1449.3,380.7 1449.5,380.6 1449.9,380.6 1450.3,380.5 1450.5,380.6 1450.7,380.6 1451.7,380.4 1451.9,380.5 1452.3,380.5 1452.5,380.4 1452.9,380.5 1453.7,380.8 1454.3,380.6 1455.3,380.8 1456.3,380.4 1456.7,380.5 1456.9,380.7 1457.5,380.8 1457.9,380.6 1458.1,380.6 1458.3,380.5 1459.9,380.5 1460.1,380.5 1460.3,380.7 1460.9,380.8 1461.3,380.6 1462.3,380.8 1462.5,380.7 1463.1,380.7 1463.3,380.5 1464.3,380.4 1464.7,380.6 1465.9,380.7 1466.3,380.9 1467.1,380.7 1467.5,380.4 1468.7,380.4 1469.5,380.5 1470.5,380.3 1471.5,380.7 1471.9,380.7 1472.3,380.6 1473.5,380.8 1474.3,380.4 1475.5,380.7 1475.7,380.6 1476.1,380.7 1476.7,380.6 1477.7,380.6 1478.1,380.5 1478.5,380.5 1479.1,380.7 1479.3,380.6 1479.9,380.7 1480.1,380.6 1480.5,380.6 1480.9,380.4 1481.1,380.5 1482.1,380.4 1482.3,380.5 1482.5,380.4 1482.9,380.6 1483.7,380.6 1484.1,380.5 1484.3,380.3 1484.7,380.3 1485.3,380.7 1485.9,380.7 1486.1,380.6 1487.9,380.5 1489.5,380.8 1490.1,380.7 1491.1,380.8 1491.3,380.6 1491.9,380.3 1492.9,380.7 1493.7,380.5 1494.1,380.6 1494.9,380.4 1496.1,380.7 1496.3,380.6 1496.9,380.7 1497.1,380.6 1497.3,380.6 1498.1,380.4 1498.5,380.5 1498.9,380.4 1499.1,380.5 1499.5,380.4 1499.9,380.7 1500.7,380.8 1501.3,380.5 1501.9,380.7 1502.3,380.7 1502.7,380.6 1503.1,380.7 1503.3,380.6 1503.5,380.6 1503.9,380.5 1504.3,380.7 1504.5,380.5 1505.1,380.5 1505.9,380.8 1506.7,380.7 1507.9,380.5 1509.1,380.7 1511.1,380.6 1511.7,380.4 1512.1,380.4 1512.7,380.8 1513.7,380.4 1514.7,380.7 1515.1,380.5 1515.7,380.3 1516.9,380.6 1517.7,380.5 1517.9,380.4 1519.3,380.7 1519.7,380.6 1520.9,380.6 1521.3,380.5 1522.3,380.6 1522.5,380.5 1522.7,380.6 1522.9,380.6 1523.5,380.7 1523.7,380.5 1524.1,380.6 1524.3,380.5 1524.7,380.6 1525.5,380.4 1525.7,380.5 1526.5,380.7 1529.1,380.6 1529.7,380.6 1531.3,380.4 1531.5,380.6 1532.1,380.7 1532.7,380.5 1533.7,380.7 1534.5,380.5 1535.9,380.5 1536.1,380.4 1536.9,380.4 1537.1,380.6 1538.1,380.6 1538.3,380.7 1538.9,380.9 1539.7,380.6 1540.7,380.7 1541.3,380.4 1541.5,380.5 1542.1,380.4 1544.1,380.7 1545.1,380.5 1548.1,380.7 1548.7,380.6 1549.5,380.8 1550.1,380.7 1550.9,380.8 1551.5,380.7 1551.9,380.6 1553.3,380.7 1554.5,380.6 1554.9,380.8 1555.9,380.5 1556.7,380.7 1557.5,380.7 1557.9,380.8 1558.3,380.8 1558.7,380.5 1559.1,380.5 1559.3,380.4 1559.7,380.7 1560.1,380.6 1560.5,380.7 1560.7,380.5 1561.1,380.6 1561.5,380.4 1561.9,380.4 1562.9,380.8 1564.1,380.5 1564.5,380.7 1565.1,380.7 1565.5,380.5 1566.1,380.6 1567.1,381.1 1568.3,380.6 1569.9,380.6 1570.1,380.5 1570.3,380.6 1570.7,380.5 1571.1,380.6 1571.9,380.4 1572.7,380.7 1573.1,380.6 1574.1,380.8 1574.3,380.7 1574.5,380.7 1576.9,380.5 1577.5,380.7 1579.9,380.5 1580.3,380.5 1580.5,380.4 1580.9,380.6 1581.1,380.3 1581.5,380.5 1581.7,380.5 1582.3,380.8 1584.3,380.4 1584.5,380.5 1584.7,380.5 1584.9,380.7 1585.1,380.6 1585.7,380.8 1585.9,380.7 1586.3,380.8 1587.1,380.5 1587.5,380.5 1588.1,380.7 1588.3,380.6 1588.7,380.7 1588.9,380.6 1589.3,380.7 1591.1,380.8 1591.7,380.5 1592.3,380.4 1593.5,380.7 1594.5,380.6 1595.1,380.7 1596.3,380.5 1597.3,380.7 1598.1,380.3 1598.5,380.5 1599.1,380.6 1599.5,380.5 1600.7,380.7 1600.9,380.6 1601.1,380.7 1601.7,380.5 1602.5,380.8 1603.3,380.4 1603.9,380.4 1605.1,380.8 1606.1,380.6 1606.7,380.7 1607.3,380.5 1607.5,380.5 1607.9,380.4 1608.1,380.5 1608.5,380.4 1608.9,380.6 1610.3,380.8 1611.3,380.5 1612.5,380.7 1612.7,380.6 1613.5,380.7 1613.7,380.8 1615.1,380.5 1615.3,380.6 1615.7,380.6 1616.1,380.8 1617.1,380.6 1618.1,380.7 1619.5,380.5 1620.1,380.5 1621.5,380.7 1621.7,380.6 1622.3,380.7 1622.7,380.6 1622.9,380.8 1623.7,380.8 1624.7,380.6 1625.7,380.9 1626.1,380.7 1626.5,380.7 1626.7,380.6 1627.1,380.8 1627.3,380.6 1628.7,380.7 1628.9,380.6 1629.3,380.6 1629.9,380.7 1630.3,380.7 1630.7,380.4 1631.1,380.6 1631.7,380.4 1632.5,380.5 1633.7,380.8 1634.3,380.7 1635.1,380.5 1635.5,380.5 1636.1,380.8 1636.7,380.6 1637.1,380.4 1637.9,380.5 1638.5,380.8 1638.7,380.7 1638.9,380.9 1639.1,380.8 1639.7,380.8 1639.9,380.7 1640.1,380.8 1640.5,380.7 1640.9,380.8 1641.7,380.5 1643.5,380.8 1644.3,380.6 1645.3,380.7 1645.9,380.6 1646.1,380.7 1647.1,380.4 1647.5,380.6 1648.5,380.5 1648.9,380.8 1649.5,380.8 1650.5,380.5 1651.7,380.5 1652.7,380.8 1653.7,380.4 1653.9,380.6 1654.3,380.5 1654.7,380.7 1654.9,380.5 1655.3,380.6 1655.7,380.5 1656.3,380.7 1657.3,380.4 1657.9,380.4 1658.5,380.7 1658.9,380.7 1659.3,380.6 1659.9,380.7 1660.1,380.6 1660.7,380.8 1661.7,380.5 1661.9,380.6 1663.9,380.6 1665.3,380.7 1665.5,380.6 1665.9,380.6 1666.3,380.5 1667.3,380.8 1667.7,380.8 1668.1,380.6 1669.9,380.6 1670.3,380.4 1670.9,380.5 1671.3,380.7 1672.1,380.6 1672.5,380.8 1672.9,380.9 1673.5,380.6 1673.9,380.5 1675.7,380.6 1676.1,380.8 1676.5,380.6 1676.9,380.6 1677.1,380.5 1677.3,380.6 1678.1,380.6 1678.5,380.4 1678.9,380.5 1679.1,380.4 1679.5,380.8 1679.9,380.8 1680.1,380.9 1680.7,380.6 1681.5,380.7 1682.3,380.6 1683.3,380.7 1683.7,380.6 1684.7,380.5 1685.5,380.3 1685.7,380.5 1686.5,380.8 1686.7,380.6 1687.1,380.6 1687.3,380.7 1687.7,380.6 1688.1,380.8 1688.3,380.6 1688.7,380.9 1688.9,380.9 1689.1,380.8 1689.3,380.8 1689.5,380.6 1689.9,380.3 1690.9,380.6 1692.7,380.5 1693.5,380.8 1695.5,380.6 1696.1,380.7 1696.3,380.6 1696.7,380.6 1696.9,380.4 1697.3,380.6 1697.5,380.4 1698.5,380.6 1699.1,380.5 1699.5,380.7 1699.7,380.6 1700.1,380.7 1701.3,380.4 1702.3,380.7 1702.7,380.6 1703.7,380.6 1704.3,380.4 1704.5,380.6 1704.7,380.5 1705.3,380.8 1706.1,380.3 1706.5,380.3 1707.1,380.6 1707.7,380.4 1709.5,380.8 1709.9,380.5 1710.3,380.5 1710.7,380.7 1711.3,380.8 1712.3,380.5 1713.1,380.8 1714.1,380.6 1714.5,380.7 1716.1,380.7 1716.7,380.5 1717.7,380.8 1718.5,380.6 1718.9,380.6 1719.5,380.5 1720.5,380.7 1720.9,380.6 1721.3,380.7 1722.3,380.6 1722.7,380.8 1722.9,380.7 1723.3,380.7 1723.7,380.4 1724.7,380.7 1725.3,380.6 1726.3,380.5 1726.5,380.6 1726.9,380.6 1727.3,380.7 1727.5,380.6 1728.7,380.5 1729.1,380.7 1730.7,380.4 1732.1,380.8 1733.1,380.4 1733.7,380.5 1733.9,380.7 1734.5,380.7 1734.9,380.6 1735.7,380.7 1736.3,380.7 1736.5,380.6 1736.9,380.9 1737.9,380.5 1738.5,380.6 1739.3,380.3 1740.3,380.6 1742.7,380.5 1742.9,380.6 1743.3,380.6 1744.1,380.5 1744.3,380.7 1744.5,380.6 1744.7,380.7 1745.3,380.6 1745.5,380.7 1746.5,380.7 1747.5,380.3 1748.1,380.7 1748.5,380.8 1749.1,380.6 1749.7,380.8 1750.1,380.5 1750.5,380.4 1751.1,380.7 1751.5,380.7 1751.9,380.6 1752.9,380.6 1753.5,380.3 1753.9,380.4 1754.5,380.8 1754.9,380.8 1755.5,380.5 1756.3,380.5" fill="none" stroke="#1f9a2c" stroke-width="2.8" stroke-linejoin="round" stroke-linecap="butt"/>
<line x1="1436.01" y1="378.35" x2="1436.01" y2="382.85" stroke="#1f9a2c" stroke-width="2.6" stroke-linecap="round"/>
<line x1="1469.17" y1="378.35" x2="1469.17" y2="382.85" stroke="#1f9a2c" stroke-width="2.6" stroke-linecap="round"/>
<line x1="1491.39" y1="377.23" x2="1491.39" y2="383.97" stroke="#1f9a2c" stroke-width="2.6" stroke-linecap="round"/>
<line x1="1498.39" y1="377.96" x2="1498.39" y2="383.24" stroke="#1f9a2c" stroke-width="2.6" stroke-linecap="round"/>
<line x1="1524.81" y1="377.53" x2="1524.81" y2="383.67" stroke="#1f9a2c" stroke-width="2.6" stroke-linecap="round"/>
<line x1="1543.21" y1="377.86" x2="1543.21" y2="383.34" stroke="#1f9a2c" stroke-width="2.6" stroke-linecap="round"/>
<line x1="1571.72" y1="378.79" x2="1571.72" y2="382.41" stroke="#1f9a2c" stroke-width="2.6" stroke-linecap="round"/>
<line x1="1587.76" y1="378.02" x2="1587.76" y2="383.18" stroke="#1f9a2c" stroke-width="2.6" stroke-linecap="round"/>
<line x1="1592.96" y1="378.72" x2="1592.96" y2="382.48" stroke="#1f9a2c" stroke-width="2.6" stroke-linecap="round"/>
<line x1="1613.04" y1="378.68" x2="1613.04" y2="382.52" stroke="#1f9a2c" stroke-width="2.6" stroke-linecap="round"/>
<line x1="1627.46" y1="378.89" x2="1627.46" y2="382.31" stroke="#1f9a2c" stroke-width="2.6" stroke-linecap="round"/>
<line x1="1632.15" y1="379.00" x2="1632.15" y2="382.20" stroke="#1f9a2c" stroke-width="2.6" stroke-linecap="round"/>
<line x1="1650.40" y1="379.15" x2="1650.40" y2="382.05" stroke="#1f9a2c" stroke-width="2.6" stroke-linecap="round"/>
<line x1="1663.60" y1="378.75" x2="1663.60" y2="382.45" stroke="#1f9a2c" stroke-width="2.6" stroke-linecap="round"/>
<line x1="1667.91" y1="379.10" x2="1667.91" y2="382.10" stroke="#1f9a2c" stroke-width="2.6" stroke-linecap="round"/>
<line x1="1684.76" y1="378.73" x2="1684.76" y2="382.47" stroke="#1f9a2c" stroke-width="2.6" stroke-linecap="round"/>
<line x1="1697.00" y1="378.71" x2="1697.00" y2="382.49" stroke="#1f9a2c" stroke-width="2.6" stroke-linecap="round"/>
<line x1="1716.74" y1="379.24" x2="1716.74" y2="381.96" stroke="#1f9a2c" stroke-width="2.6" stroke-linecap="round"/>
<line x1="1728.21" y1="379.14" x2="1728.21" y2="382.06" stroke="#1f9a2c" stroke-width="2.6" stroke-linecap="round"/>
<line x1="1731.98" y1="379.10" x2="1731.98" y2="382.10" stroke="#1f9a2c" stroke-width="2.6" stroke-linecap="round"/>
<line x1="1746.77" y1="379.08" x2="1746.77" y2="382.12" stroke="#1f9a2c" stroke-width="2.6" stroke-linecap="round"/>
<line x1="1328.81" y1="356.10" x2="1328.81" y2="390.10" stroke="#1f9a2c" stroke-width="2.2" stroke-linecap="round"/>
<line x1="1345.39" y1="376.00" x2="1345.39" y2="386.40" stroke="#1f9a2c" stroke-width="2.2" stroke-linecap="round"/>
<line x1="1396.66" y1="362.00" x2="1396.66" y2="388.00" stroke="#1f9a2c" stroke-width="2.2" stroke-linecap="round"/>
<line x1="1426.88" y1="370.00" x2="1426.88" y2="386.40" stroke="#1f9a2c" stroke-width="2.2" stroke-linecap="round"/>
<line x1="1328.51" y1="398.60" x2="1328.51" y2="418.20" stroke="#111" stroke-width="2.7" stroke-linecap="round"/>
<line x1="1345.09" y1="398.60" x2="1345.09" y2="418.20" stroke="#111" stroke-width="2.7" stroke-linecap="round"/>
<line x1="1396.36" y1="398.60" x2="1396.36" y2="418.20" stroke="#111" stroke-width="2.7" stroke-linecap="round"/>
<line x1="1426.58" y1="398.60" x2="1426.58" y2="418.20" stroke="#111" stroke-width="2.7" stroke-linecap="round"/>
<line x1="1435.71" y1="398.60" x2="1435.71" y2="418.20" stroke="#111" stroke-width="2.7" stroke-linecap="round"/>
<line x1="1468.87" y1="398.60" x2="1468.87" y2="418.20" stroke="#111" stroke-width="2.7" stroke-linecap="round"/>
<line x1="1491.09" y1="398.60" x2="1491.09" y2="418.20" stroke="#111" stroke-width="2.7" stroke-linecap="round"/>
<line x1="1498.09" y1="398.60" x2="1498.09" y2="418.20" stroke="#111" stroke-width="2.7" stroke-linecap="round"/>
<line x1="1524.51" y1="398.60" x2="1524.51" y2="418.20" stroke="#111" stroke-width="2.7" stroke-linecap="round"/>
<line x1="1542.91" y1="398.60" x2="1542.91" y2="418.20" stroke="#111" stroke-width="2.7" stroke-linecap="round"/>
<line x1="1571.42" y1="398.60" x2="1571.42" y2="418.20" stroke="#111" stroke-width="2.7" stroke-linecap="round"/>
<line x1="1587.46" y1="398.60" x2="1587.46" y2="418.20" stroke="#111" stroke-width="2.7" stroke-linecap="round"/>
<line x1="1592.66" y1="398.60" x2="1592.66" y2="418.20" stroke="#111" stroke-width="2.7" stroke-linecap="round"/>
<line x1="1612.74" y1="398.60" x2="1612.74" y2="418.20" stroke="#111" stroke-width="2.7" stroke-linecap="round"/>
<line x1="1627.16" y1="398.60" x2="1627.16" y2="418.20" stroke="#111" stroke-width="2.7" stroke-linecap="round"/>
<line x1="1631.85" y1="398.60" x2="1631.85" y2="418.20" stroke="#111" stroke-width="2.7" stroke-linecap="round"/>
<line x1="1650.10" y1="398.60" x2="1650.10" y2="418.20" stroke="#111" stroke-width="2.7" stroke-linecap="round"/>
<line x1="1663.30" y1="398.60" x2="1663.30" y2="418.20" stroke="#111" stroke-width="2.7" stroke-linecap="round"/>
<line x1="1667.61" y1="398.60" x2="1667.61" y2="418.20" stroke="#111" stroke-width="2.7" stroke-linecap="round"/>
<line x1="1684.46" y1="398.60" x2="1684.46" y2="418.20" stroke="#111" stroke-width="2.7" stroke-linecap="round"/>
<line x1="1696.70" y1="398.60" x2="1696.70" y2="418.20" stroke="#111" stroke-width="2.7" stroke-linecap="round"/>
<line x1="1716.44" y1="398.60" x2="1716.44" y2="418.20" stroke="#111" stroke-width="2.7" stroke-linecap="round"/>
<line x1="1746.47" y1="398.60" x2="1746.47" y2="418.20" stroke="#111" stroke-width="2.7" stroke-linecap="round"/>
<line x1="1726.20" y1="398.40" x2="1726.20" y2="418.20" stroke="#111" stroke-width="1.9" stroke-linecap="round"/>
<line x1="1728.70" y1="398.40" x2="1728.70" y2="418.20" stroke="#111" stroke-width="1.9" stroke-linecap="round"/>
<line x1="1731.20" y1="398.40" x2="1731.20" y2="418.20" stroke="#111" stroke-width="1.9" stroke-linecap="round"/>
<line x1="1274.40" y1="86.60" x2="1755.50" y2="86.60" stroke="#000" stroke-width="3.4"/>
<line x1="1754.70" y1="86.60" x2="1754.70" y2="443.60" stroke="#222" stroke-width="1.7"/>
<line x1="1275.20" y1="86.60" x2="1275.20" y2="444.40" stroke="#000" stroke-width="1.7"/>
<line x1="1274.40" y1="443.60" x2="1755.50" y2="443.60" stroke="#000" stroke-width="1.7"/>
<line x1="1275.20" y1="443.60" x2="1275.20" y2="448.10" stroke="#222" stroke-width="1.3"/>
<line x1="1328.49" y1="443.60" x2="1328.49" y2="451.60" stroke="#222" stroke-width="1.3"/>
<line x1="1381.78" y1="443.60" x2="1381.78" y2="448.10" stroke="#222" stroke-width="1.3"/>
<line x1="1435.07" y1="443.60" x2="1435.07" y2="451.60" stroke="#222" stroke-width="1.3"/>
<line x1="1488.36" y1="443.60" x2="1488.36" y2="448.10" stroke="#222" stroke-width="1.3"/>
<line x1="1541.65" y1="443.60" x2="1541.65" y2="451.60" stroke="#222" stroke-width="1.3"/>
<line x1="1594.94" y1="443.60" x2="1594.94" y2="448.10" stroke="#222" stroke-width="1.3"/>
<line x1="1648.23" y1="443.60" x2="1648.23" y2="451.60" stroke="#222" stroke-width="1.3"/>
<line x1="1701.52" y1="443.60" x2="1701.52" y2="448.10" stroke="#222" stroke-width="1.3"/>
<line x1="1754.81" y1="443.60" x2="1754.81" y2="451.60" stroke="#222" stroke-width="1.3"/>
<text x="1328.5" y="483.2" font-size="29.5" text-anchor="middle" fill="#000">2</text>
<text x="1435.1" y="483.2" font-size="29.5" text-anchor="middle" fill="#000">4</text>
<text x="1541.7" y="483.2" font-size="29.5" text-anchor="middle" fill="#000">6</text>
<text x="1648.2" y="483.2" font-size="29.5" text-anchor="middle" fill="#000">8</text>
<text x="1752.6" y="483.2" font-size="29" text-anchor="middle" fill="#000">10</text>
<text x="1508.5" y="516.0" font-size="31" text-anchor="middle" fill="#111">Q (A<tspan font-size="14.9" dy="-14.3">-1</tspan><tspan dy="14.3">)</tspan></text>
<text x="1251.0" y="257.5" font-size="30.8" text-anchor="middle" fill="#000" transform="rotate(-90 1251.0 257.5)">Intensity (a.u.)</text>
<rect x="3.7" y="560.6" width="87.5" height="64.8" fill="#fff" stroke="#a6a6a6" stroke-width="1.2"/>
<text x="47.5" y="608.8" font-size="46" text-anchor="middle" fill="#000">D</text>
<line x1="83.00" y1="649.40" x2="544.60" y2="649.40" stroke="#3c3c3c" stroke-width="1.8"/>
<line x1="89.60" y1="649.40" x2="89.60" y2="988.70" stroke="#111" stroke-width="1.5"/>
<line x1="88.90" y1="988.00" x2="544.00" y2="988.00" stroke="#111" stroke-width="1.5"/>
<line x1="544.00" y1="649.40" x2="544.00" y2="988.70" stroke="#3a3aff" stroke-width="1.4"/>
<line x1="83.00" y1="988.00" x2="89.60" y2="988.00" stroke="#222" stroke-width="1.3"/>
<line x1="86.00" y1="966.84" x2="89.60" y2="966.84" stroke="#222" stroke-width="1.2"/>
<line x1="83.00" y1="945.67" x2="89.60" y2="945.67" stroke="#222" stroke-width="1.3"/>
<line x1="86.00" y1="924.51" x2="89.60" y2="924.51" stroke="#222" stroke-width="1.2"/>
<line x1="83.00" y1="903.35" x2="89.60" y2="903.35" stroke="#222" stroke-width="1.3"/>
<line x1="86.00" y1="882.19" x2="89.60" y2="882.19" stroke="#222" stroke-width="1.2"/>
<line x1="83.00" y1="861.02" x2="89.60" y2="861.02" stroke="#222" stroke-width="1.3"/>
<line x1="86.00" y1="839.86" x2="89.60" y2="839.86" stroke="#222" stroke-width="1.2"/>
<line x1="83.00" y1="818.70" x2="89.60" y2="818.70" stroke="#222" stroke-width="1.3"/>
<line x1="86.00" y1="797.54" x2="89.60" y2="797.54" stroke="#222" stroke-width="1.2"/>
<line x1="83.00" y1="776.38" x2="89.60" y2="776.38" stroke="#222" stroke-width="1.3"/>
<line x1="86.00" y1="755.21" x2="89.60" y2="755.21" stroke="#222" stroke-width="1.2"/>
<line x1="83.00" y1="734.05" x2="89.60" y2="734.05" stroke="#222" stroke-width="1.3"/>
<line x1="86.00" y1="712.89" x2="89.60" y2="712.89" stroke="#222" stroke-width="1.2"/>
<line x1="83.00" y1="691.73" x2="89.60" y2="691.73" stroke="#222" stroke-width="1.3"/>
<line x1="86.00" y1="670.56" x2="89.60" y2="670.56" stroke="#222" stroke-width="1.2"/>
<line x1="83.00" y1="649.40" x2="89.60" y2="649.40" stroke="#222" stroke-width="1.3"/>
<text x="77.3" y="1002.6" font-size="31" text-anchor="end" fill="#000">0</text>
<text x="77.3" y="959.6" font-size="31" text-anchor="end" fill="#000">10</text>
<text x="77.3" y="916.6" font-size="31" text-anchor="end" fill="#000">20</text>
<text x="77.3" y="873.6" font-size="31" text-anchor="end" fill="#000">30</text>
<text x="77.3" y="830.6" font-size="31" text-anchor="end" fill="#000">40</text>
<text x="77.3" y="787.6" font-size="31" text-anchor="end" fill="#000">50</text>
<text x="77.3" y="744.6" font-size="31" text-anchor="end" fill="#000">60</text>
<text x="77.3" y="701.6" font-size="31" text-anchor="end" fill="#000">70</text>
<text x="77.3" y="658.6" font-size="31" text-anchor="end" fill="#000">80</text>
<line x1="89.59" y1="988.00" x2="89.59" y2="992.60" stroke="#222" stroke-width="1.2"/>
<line x1="543.97" y1="988.00" x2="543.97" y2="992.60" stroke="#222" stroke-width="1.2"/>
<line x1="113.50" y1="988.00" x2="113.50" y2="996.00" stroke="#222" stroke-width="1.3"/>
<line x1="209.16" y1="988.00" x2="209.16" y2="996.00" stroke="#222" stroke-width="1.3"/>
<line x1="304.82" y1="988.00" x2="304.82" y2="996.00" stroke="#222" stroke-width="1.3"/>
<line x1="400.48" y1="988.00" x2="400.48" y2="996.00" stroke="#222" stroke-width="1.3"/>
<line x1="496.14" y1="988.00" x2="496.14" y2="996.00" stroke="#222" stroke-width="1.3"/>
<line x1="161.33" y1="988.00" x2="161.33" y2="992.60" stroke="#222" stroke-width="1.2"/>
<line x1="256.99" y1="988.00" x2="256.99" y2="992.60" stroke="#222" stroke-width="1.2"/>
<line x1="352.65" y1="988.00" x2="352.65" y2="992.60" stroke="#222" stroke-width="1.2"/>
<line x1="448.31" y1="988.00" x2="448.31" y2="992.60" stroke="#222" stroke-width="1.2"/>
<line x1="543.97" y1="988.00" x2="543.97" y2="992.60" stroke="#222" stroke-width="1.2"/>
<text x="106.0" y="1028.0" font-size="31" text-anchor="middle" fill="#000">0</text>
<text x="206.0" y="1028.0" font-size="31" text-anchor="middle" fill="#000">200</text>
<text x="309.0" y="1028.0" font-size="31" text-anchor="middle" fill="#000">400</text>
<text x="408.3" y="1028.0" font-size="31" text-anchor="middle" fill="#000">600</text>
<text x="510.8" y="1028.0" font-size="31" text-anchor="middle" fill="#000">800</text>
<text x="196.6" y="1068.0" font-size="30.6" text-anchor="start" fill="#111">Temperature (°C)</text>
<text x="26.0" y="828.0" font-size="30" text-anchor="middle" fill="#111" transform="rotate(-90 26.0 828.0)">Diameter (nm)</text>
<line x1="544.00" y1="988.00" x2="551.60" y2="988.00" stroke="#3a3aff" stroke-width="1.3"/>
<line x1="544.00" y1="955.70" x2="548.60" y2="955.70" stroke="#3a3aff" stroke-width="1.3"/>
<line x1="544.00" y1="923.40" x2="551.60" y2="923.40" stroke="#3a3aff" stroke-width="1.3"/>
<line x1="544.00" y1="891.10" x2="548.60" y2="891.10" stroke="#3a3aff" stroke-width="1.3"/>
<line x1="544.00" y1="858.80" x2="551.60" y2="858.80" stroke="#3a3aff" stroke-width="1.3"/>
<line x1="544.00" y1="826.50" x2="548.60" y2="826.50" stroke="#3a3aff" stroke-width="1.3"/>
<line x1="544.00" y1="794.20" x2="551.60" y2="794.20" stroke="#3a3aff" stroke-width="1.3"/>
<line x1="544.00" y1="761.90" x2="548.60" y2="761.90" stroke="#3a3aff" stroke-width="1.3"/>
<line x1="544.00" y1="729.60" x2="551.60" y2="729.60" stroke="#3a3aff" stroke-width="1.3"/>
<line x1="544.00" y1="697.30" x2="548.60" y2="697.30" stroke="#3a3aff" stroke-width="1.3"/>
<line x1="544.00" y1="665.00" x2="551.60" y2="665.00" stroke="#3a3aff" stroke-width="1.3"/>
<text x="553.3" y="999.4" font-size="32" text-anchor="start" fill="#0000ff">0</text>
<text x="553.3" y="934.8" font-size="32" text-anchor="start" fill="#0000ff">40</text>
<text x="553.3" y="870.2" font-size="32" text-anchor="start" fill="#0000ff">80</text>
<text x="553.3" y="805.6" font-size="32" text-anchor="start" fill="#0000ff">120</text>
<text x="553.3" y="741.0" font-size="32" text-anchor="start" fill="#0000ff">160</text>
<text x="553.3" y="676.4" font-size="32" text-anchor="start" fill="#0000ff">200</text>
<polyline points="125.6,964.0 201.6,964.0 352.4,919.4 496.4,685.4" fill="none" stroke="#000" stroke-width="3.6" stroke-linejoin="round" stroke-linecap="butt"/>
<polyline points="125.6,691.4 201.6,683.4 352.4,863.5 496.4,962.0" fill="none" stroke="#0000ff" stroke-width="3.6" stroke-linejoin="round" stroke-linecap="butt"/>
<rect x="120.9" y="686.7" width="9.4" height="9.4" rx="1.8" fill="#0000ff"/>
<rect x="196.9" y="678.7" width="9.4" height="9.4" rx="1.8" fill="#0000ff"/>
<rect x="347.7" y="858.8" width="9.4" height="9.4" rx="1.8" fill="#0000ff"/>
<rect x="491.7" y="957.3" width="9.4" height="9.4" rx="1.8" fill="#0000ff"/>
<rect x="120.9" y="959.3" width="9.4" height="9.4" rx="1.8" fill="#000"/>
<rect x="196.9" y="959.3" width="9.4" height="9.4" rx="1.8" fill="#000"/>
<rect x="347.7" y="914.7" width="9.4" height="9.4" rx="1.8" fill="#000"/>
<rect x="491.7" y="680.7" width="9.4" height="9.4" rx="1.8" fill="#000"/>
<text x="637.3" y="891.7" font-size="32" text-anchor="start" fill="#0000ff" transform="rotate(-90 637.3 891.7)">S<tspan font-size="15" dy="6">BET</tspan><tspan dy="-6"> (m</tspan><tspan font-size="16" dy="-13">2</tspan><tspan dy="13">/g)</tspan></text>
<rect x="589.5" y="560.6" width="87.0" height="64.8" fill="#fff" stroke="#a6a6a6" stroke-width="1.2"/>
<text x="633.0" y="609.0" font-size="46" text-anchor="middle" fill="#000">E</text>
<polyline points="695.4,701.2 695.9,701.5 696.4,701.3 696.9,701.5 697.4,701.4 697.9,701.7 698.4,701.6 698.9,701.8 699.4,701.7 699.9,701.8 700.4,701.8 700.9,702.0 702.4,702.2 702.9,702.1 703.4,702.2 703.9,702.0 705.4,701.9 705.9,702.3 706.4,702.2 706.9,702.3 707.9,702.0 708.4,702.1 708.9,702.0 709.4,702.4 710.4,702.7 710.9,702.4 711.4,702.3 711.9,702.3 712.4,702.6 714.4,702.4 714.9,702.8 715.9,702.8 716.4,702.6 716.9,702.6 718.9,702.8 719.9,703.2 720.9,702.9 722.4,703.2 722.9,703.1 723.4,703.3 725.9,703.2 726.4,703.6 727.4,703.7 727.9,703.6 728.9,703.7 730.9,703.4 731.4,703.7 732.4,703.8 732.9,703.7 733.9,704.2 734.9,704.2 735.4,704.0 736.4,704.1 736.9,704.0 737.4,704.2 738.4,704.2 739.4,704.4 739.9,704.7 740.4,704.4 741.4,704.1 742.4,704.6 743.9,704.3 744.4,704.7 744.9,704.7 746.4,704.4 748.4,704.8 748.9,704.7 749.4,705.1 750.4,705.5 751.4,704.7 751.9,704.6 752.4,704.7 752.9,705.3 753.4,705.6 754.4,705.5 755.9,705.6 756.9,705.5 757.4,705.3 757.9,705.2 758.4,705.5 758.9,705.5 760.4,705.2 760.9,705.6 761.4,705.5 761.9,706.0 762.4,706.0 763.4,705.7 764.9,706.1 765.4,705.9 766.4,706.3 766.9,706.3 767.9,706.1 768.4,706.1 769.9,706.6 770.4,706.4 771.4,706.5 771.9,706.8 772.4,706.8 773.4,706.3 773.9,706.2 774.9,706.5 775.9,706.3 776.4,706.4 776.9,706.7 777.9,706.6 778.4,706.3 778.9,706.4 779.4,706.9 779.9,707.2 780.4,707.2 780.9,706.8 781.9,706.5 782.9,706.7 783.4,707.2 783.9,707.0 784.4,707.1 785.9,707.2 786.4,706.9 786.9,707.2 787.9,707.5 788.4,707.5 788.9,707.3 790.4,707.6 791.4,707.5 791.9,707.7 793.4,707.3 793.9,707.6 795.4,708.0 796.9,707.5 798.4,707.9 798.9,707.8 799.9,707.8 800.4,708.0 800.9,708.0 801.4,708.3 801.9,708.2 803.4,707.8 803.9,708.2 804.9,708.6 805.4,708.5 806.4,708.0 806.9,707.9 808.9,708.4 809.9,708.9 810.4,709.0 811.4,708.8 812.4,708.7 813.9,709.1 814.4,708.9 814.9,709.3 815.9,709.7 816.4,709.4 817.4,709.4 818.4,709.1 818.9,709.2 819.4,709.0 819.9,709.2 820.9,709.2 821.4,709.4 821.9,709.3 822.4,709.6 822.9,709.3 823.4,709.6 823.9,709.4 824.4,709.8 824.9,709.9 825.4,710.2 827.4,709.8 828.9,709.9 829.4,709.7 829.9,709.6 831.4,710.0 833.4,709.7 834.4,710.0 834.9,710.2 835.9,709.9 836.9,710.0 838.4,710.8 838.9,710.9 839.9,710.6 840.4,710.7 841.9,710.3 842.9,710.9 843.9,710.8 844.4,710.6 844.9,710.9 845.4,710.7 845.9,710.9 847.4,710.7 848.4,710.7 848.9,710.6 849.4,710.8 849.9,710.8 850.4,710.8 850.9,710.3 851.4,710.0 851.9,710.2 852.4,710.6 852.9,710.8 853.4,710.9 853.9,710.5 854.4,710.8 854.9,710.9 855.4,711.2 856.9,711.5 858.4,710.7 858.9,710.6 859.4,711.0 860.4,711.3 860.9,711.2 861.4,711.4 861.9,711.4 862.4,711.5 862.9,711.3 863.4,711.4 863.9,711.0 864.4,711.1 864.9,711.0 865.4,711.2 865.9,711.1 866.9,711.5 868.4,711.3 869.4,711.5 869.9,711.4 870.4,711.6 871.9,711.1 872.9,711.5 873.9,711.3 875.4,711.5 875.9,711.3 876.4,711.5 877.4,711.7 878.4,711.7 878.9,712.0 879.4,711.7 879.9,711.8 881.4,711.5 881.9,711.4 882.4,711.6 883.4,711.3 885.4,711.8 886.4,711.8 886.9,711.5 887.4,711.5 887.9,711.8 888.4,711.8 889.4,711.7 890.9,712.1 891.4,711.9 891.9,712.0 892.4,711.5 893.4,711.7 893.9,712.0 894.4,711.9 895.4,711.9 896.4,712.3 897.4,712.1 898.4,711.7 898.9,712.0 899.9,712.3 900.9,712.1 901.4,712.4 902.4,712.1 902.9,711.6 903.9,711.6 904.4,711.9 905.4,712.1 905.9,712.0 907.4,712.3 907.9,712.3 908.9,712.0 909.9,712.4 910.4,712.4 910.9,712.1 912.4,712.0 913.9,712.4 914.9,712.0 915.9,712.2 916.4,712.5 918.4,712.2 919.4,712.5 919.9,712.9 920.9,712.8 921.4,712.6 921.9,712.7 922.4,712.3 923.4,712.2 923.9,712.6 924.4,712.6 925.9,712.9 926.9,712.7 927.4,712.7 928.4,713.2 928.9,713.2 929.9,712.7 931.4,713.3 932.9,713.5 933.9,713.3 934.9,713.6 935.9,713.7 937.4,714.1 938.9,713.9 939.4,713.9 939.9,714.0 940.4,714.4 941.9,714.5 943.4,715.0 944.9,714.6 945.4,715.1 946.4,715.4 947.4,715.5 948.4,715.4 948.9,715.4 950.4,715.9 952.9,715.5 954.4,716.0 955.4,715.9 955.9,716.0 956.9,716.4 958.4,716.3 958.9,716.4 959.4,716.4 960.4,716.2 960.9,716.4 961.4,716.7 962.9,716.8 963.4,717.0 964.9,717.1 965.9,717.1 966.4,716.8 967.4,716.8 967.9,716.9 969.4,717.8 970.4,717.7 972.4,718.0 973.4,718.0 974.4,718.3 974.9,718.5 975.4,718.5 975.9,718.7 976.4,718.5 977.4,718.4 978.9,718.9 979.9,718.9 980.4,718.6 981.9,718.9 982.4,718.5 983.4,718.3 983.9,718.5 984.4,718.5 985.9,718.3 986.4,718.3 988.4,717.6 988.9,717.8 989.9,717.7 991.4,717.0 991.9,717.1 992.9,717.5 993.9,717.1 994.4,717.2 995.4,717.0 997.4,717.0 998.4,716.8 998.9,716.6 999.4,716.9 999.9,716.6 1000.4,716.8 1000.9,716.6 1001.4,716.8 1002.4,716.9 1003.9,716.5 1006.4,716.4 1006.9,716.2 1009.4,716.3 1010.4,716.4 1010.9,716.3 1011.4,716.4 1011.9,716.2 1012.4,716.3 1012.9,716.1 1013.4,716.1 1013.9,715.8 1014.4,716.0 1015.9,715.9 1016.4,716.0 1016.9,716.3 1017.9,716.4 1019.4,715.8 1020.4,715.7 1021.4,715.8 1021.9,715.6 1022.9,715.9 1024.4,715.8 1024.9,716.0 1025.4,715.9 1025.9,715.5 1026.4,715.6 1026.9,715.9 1027.9,715.8 1028.4,715.5 1029.9,715.7 1030.4,715.6 1030.9,715.8 1031.9,715.8 1032.4,715.7 1033.9,715.7 1034.4,715.5 1035.4,715.6 1035.9,715.8 1036.9,715.6 1037.4,715.3 1038.4,715.3 1038.9,715.6 1039.4,715.6 1040.4,715.3 1040.9,715.2 1041.4,715.3 1041.9,715.5 1042.4,715.5 1043.4,715.2 1044.4,715.2 1044.9,714.9 1045.9,714.6 1046.4,714.9 1047.9,715.2 1048.4,715.1 1048.9,715.2 1049.4,715.1 1050.4,715.1 1051.9,714.6 1052.9,714.8 1053.4,714.6 1054.4,714.5 1054.9,715.0 1055.4,715.1 1055.9,715.1 1056.4,714.7 1057.4,714.4 1058.9,714.5 1060.4,714.3 1061.9,714.5 1062.4,714.2 1062.9,714.1 1064.4,714.4 1064.9,714.3 1065.4,714.1 1066.4,714.1 1066.9,714.3 1067.4,714.2 1067.9,713.8 1068.9,713.3 1069.4,713.6 1070.4,713.4 1070.9,713.4 1071.4,713.5 1072.4,713.5 1072.9,713.2 1073.4,713.2 1073.9,712.9 1074.4,713.0 1076.4,712.4 1076.9,712.5 1077.4,712.4 1077.9,712.5 1079.4,712.1 1079.9,712.1 1080.4,711.9 1081.4,711.6 1081.9,711.6 1082.4,711.3 1084.4,711.1 1085.4,710.9 1085.9,710.3 1086.9,710.0 1087.4,710.4 1087.9,710.5 1089.4,710.1 1089.9,710.1 1091.4,709.5 1092.4,708.8 1094.4,708.7 1094.9,708.5 1095.4,708.5 1095.9,708.2 1096.4,708.2 1096.9,707.9 1097.4,707.8 1098.9,707.2 1099.4,707.1 1099.9,707.2 1100.4,707.1 1101.4,706.5 1101.9,706.0 1102.4,705.8 1102.9,705.9 1103.4,706.2 1103.9,706.2 1105.4,705.4 1106.4,704.6 1106.9,704.5 1107.4,704.6 1107.9,704.5 1110.4,702.5 1111.4,702.1 1112.9,701.7 1113.9,700.9 1114.4,700.4 1114.9,700.3 1116.4,699.4 1116.9,699.3 1117.9,698.4 1118.9,697.9 1119.4,697.9 1119.9,697.3 1120.4,697.0 1120.9,696.4 1121.4,696.2 1122.4,695.5 1123.4,695.0 1124.9,693.4 1126.9,692.2 1128.4,690.8 1129.9,690.0 1130.9,689.3 1132.9,687.3 1133.9,686.9 1134.9,686.2 1135.4,685.4 1135.9,685.0 1136.4,684.4 1136.9,684.5 1137.4,684.1 1137.9,684.0 1138.4,683.1 1139.4,682.4 1139.9,682.3 1140.4,681.6 1140.9,681.1 1141.4,680.9 1141.9,681.0 1142.4,680.7 1143.4,679.7 1144.9,679.3 1145.4,678.9 1146.9,678.6 1147.4,679.0 1147.9,679.0 1148.4,679.3 1148.9,679.1 1150.4,679.9 1150.9,680.0 1151.9,680.9 1152.9,681.3 1153.4,681.8 1154.4,683.3 1155.4,684.0 1156.4,684.5 1157.4,684.6 1158.4,684.2 1159.9,682.1 1160.9,681.0 1161.4,680.6 1162.9,680.2 1163.4,679.8 1164.4,679.5 1165.9,679.4 1167.4,678.7" fill="none" stroke="#0a0a0a" stroke-width="2.4" stroke-linejoin="round" stroke-linecap="butt"/>
<polyline points="695.4,764.2 695.9,764.2 696.4,763.9 696.9,763.9 697.9,763.6 699.4,764.0 699.9,763.9 700.9,764.1 701.4,764.3 701.9,764.1 702.4,763.6 702.9,763.6 703.9,764.1 704.4,764.1 704.9,764.0 705.4,764.1 705.9,763.9 706.4,763.9 706.9,763.9 708.4,764.1 709.4,763.9 710.4,764.1 711.4,763.9 712.9,764.1 713.4,764.1 713.9,764.3 714.4,764.1 715.4,764.1 715.9,764.5 716.4,764.5 717.4,763.9 718.4,764.1 719.4,764.0 720.9,764.5 721.9,764.5 722.4,764.2 722.9,764.2 724.4,764.4 724.9,764.3 726.4,764.3 726.9,764.0 728.4,764.3 730.9,763.7 731.4,763.9 731.9,763.9 732.4,764.2 733.4,764.3 734.9,763.9 736.4,764.2 737.4,764.0 738.4,764.0 739.4,764.3 740.4,763.9 741.9,764.4 742.4,764.2 742.9,764.4 744.4,763.9 744.9,764.2 745.9,764.5 746.4,764.2 747.4,764.2 747.9,764.3 748.4,764.6 749.4,764.6 749.9,764.3 750.9,764.0 751.4,764.2 751.9,764.2 752.4,764.6 752.9,764.7 753.4,764.9 753.9,764.7 754.4,764.6 754.9,764.7 755.4,765.0 756.9,765.0 757.9,765.1 758.9,764.9 759.4,765.0 759.9,765.2 761.4,766.3 762.4,766.3 763.4,766.1 764.9,766.3 765.4,766.1 765.9,766.4 766.4,766.5 766.9,766.7 767.4,766.5 767.9,766.5 769.4,766.8 770.4,766.8 771.9,767.6 772.9,767.6 773.4,767.7 774.9,767.7 776.4,768.4 776.9,768.3 777.9,768.4 778.9,768.7 779.9,768.8 780.4,768.9 780.9,768.9 781.4,769.2 781.9,769.1 782.4,769.3 782.9,769.1 783.9,769.2 784.4,769.4 784.9,769.3 785.4,769.6 785.9,769.7 786.4,770.1 787.9,769.4 788.4,769.6 788.9,769.9 790.4,770.1 790.9,770.0 791.4,770.3 791.9,770.2 792.4,770.4 793.9,770.5 795.4,770.8 795.9,770.7 796.4,770.8 797.9,770.8 799.4,771.0 799.9,770.8 800.4,770.8 800.9,770.9 801.4,771.2 801.9,771.2 802.9,770.9 803.4,770.9 803.9,771.1 804.9,771.3 805.4,771.1 805.9,771.3 806.4,771.0 806.9,771.0 807.4,770.8 807.9,771.0 808.9,771.0 809.9,770.7 811.4,770.5 812.4,770.9 812.9,770.9 813.9,770.6 814.9,770.5 816.4,770.6 816.9,770.4 817.4,770.5 817.9,770.4 818.4,770.4 818.9,770.0 819.9,769.9 820.9,770.0 821.4,770.0 821.9,769.8 822.4,769.4 823.4,769.5 823.9,769.9 825.4,769.5 826.4,769.4 826.9,769.2 828.9,769.4 829.4,769.1 829.9,769.2 830.4,768.7 830.9,768.5 831.4,768.7 832.4,769.3 832.9,768.7 833.9,768.4 834.4,768.5 834.9,768.4 836.4,767.8 837.9,767.7 838.9,767.5 840.9,767.5 841.4,767.1 841.9,767.0 843.4,766.9 843.9,766.6 844.4,766.8 845.9,766.6 846.9,766.8 847.4,766.8 848.9,766.4 849.9,766.2 852.4,766.5 853.4,766.2 854.4,766.0 855.9,766.2 856.4,766.0 857.9,766.7 859.4,766.5 860.4,766.7 861.9,766.2 862.9,766.4 863.9,766.9 864.4,767.0 865.4,766.8 865.9,767.1 866.4,767.2 866.9,767.5 867.4,767.2 868.4,766.9 869.4,766.9 869.9,766.7 870.9,766.8 871.4,767.0 872.4,766.7 872.9,766.7 873.9,766.9 874.9,766.6 875.4,766.7 875.9,766.7 877.4,767.2 877.9,766.8 878.4,766.8 879.4,767.4 879.9,767.5 880.4,767.2 880.9,767.1 881.4,766.8 881.9,767.2 882.4,767.2 882.9,767.2 883.4,766.7 883.9,766.8 884.9,767.2 885.4,767.2 886.4,767.6 887.9,766.9 889.4,767.2 890.9,767.1 891.4,767.3 891.9,767.3 892.4,767.4 892.9,767.3 893.4,767.5 895.4,767.3 895.9,767.1 896.4,767.5 896.9,767.4 897.4,767.6 897.9,767.3 899.9,767.3 900.4,767.1 901.4,767.0 901.9,767.4 902.9,767.3 903.4,767.1 903.9,767.5 905.4,767.0 905.9,767.3 906.4,767.3 907.4,766.9 908.9,767.6 909.4,767.5 911.4,767.5 912.4,767.2 914.4,767.3 915.4,767.5 915.9,767.3 916.4,767.4 916.9,767.7 917.4,767.7 918.4,767.0 919.9,767.0 921.4,767.7 921.9,767.7 923.4,767.3 923.9,767.3 924.4,767.1 925.9,767.5 926.9,767.2 927.9,767.4 928.9,767.5 929.4,767.2 929.9,767.1 930.4,766.9 930.9,767.3 931.9,767.7 932.4,767.7 933.4,767.8 934.9,766.8 935.4,766.9 935.9,766.8 936.4,767.0 937.4,767.2 938.4,767.1 939.4,767.2 939.9,766.9 940.4,766.9 940.9,767.0 941.4,767.3 942.4,767.1 943.9,767.2 944.4,767.1 944.9,767.2 945.4,767.1 945.9,767.4 946.9,767.4 947.4,767.2 948.4,767.2 948.9,766.9 951.9,767.3 952.9,766.8 953.9,766.7 954.4,767.0 955.4,767.2 956.4,766.8 956.9,766.8 957.4,767.0 959.4,767.2 959.9,767.5 960.9,767.4 961.4,767.1 961.9,767.1 963.4,767.3 964.9,767.0 966.4,767.5 968.4,767.3 968.9,767.1 969.4,767.2 969.9,767.1 970.4,767.4 970.9,767.3 971.4,767.4 971.9,767.1 972.9,767.2 974.9,766.9 976.4,767.4 976.9,767.1 977.4,767.0 977.9,766.8 979.4,767.2 980.4,767.1 980.9,767.2 981.4,767.4 981.9,767.0 982.4,766.9 982.9,766.7 983.4,766.7 983.9,766.7 985.4,766.2 985.9,766.3 986.4,766.7 986.9,766.7 987.4,766.5 987.9,766.0 988.9,766.1 989.4,766.3 990.4,766.0 990.9,765.6 991.4,765.7 992.4,765.5 992.9,765.5 993.9,766.0 994.9,765.6 995.4,765.6 995.9,765.4 996.4,765.7 997.9,765.2 998.9,765.4 999.4,765.4 999.9,765.1 1000.4,765.0 1000.9,764.5 1001.4,764.6 1001.9,764.5 1002.4,764.8 1002.9,764.4 1003.4,764.3 1004.9,764.3 1005.4,763.9 1006.9,763.9 1007.4,763.8 1007.9,763.5 1008.4,763.6 1008.9,763.5 1010.4,763.5 1011.4,762.9 1011.9,762.8 1012.4,763.2 1012.9,763.3 1013.9,763.1 1014.4,763.2 1015.9,763.2 1016.4,763.4 1016.9,763.0 1017.4,763.0 1017.9,763.2 1018.9,764.0 1020.4,763.9 1020.9,764.1 1021.4,764.4 1021.9,764.5 1022.4,764.7 1022.9,764.7 1023.4,765.0 1023.9,764.9 1026.4,766.2 1027.4,766.8 1028.4,767.3 1028.9,767.2 1029.4,767.1 1029.9,766.7 1031.4,766.2 1031.9,766.2 1032.4,765.9 1032.9,766.0 1033.4,765.7 1034.4,766.0 1035.4,765.8 1036.9,766.0 1037.4,765.9 1037.9,766.2 1038.9,767.0 1039.9,767.4 1040.9,768.3 1041.9,768.7 1042.4,769.2 1042.9,769.4 1043.9,769.5 1044.9,770.1 1045.4,770.0 1046.4,769.2 1046.9,769.2 1047.4,769.4 1047.9,769.4 1048.4,769.7 1048.9,769.6 1049.9,769.2 1051.4,768.2 1051.9,768.2 1052.4,768.1 1053.9,767.9 1054.9,767.4 1055.9,767.3 1056.4,767.1 1057.4,766.9 1057.9,767.0 1058.9,766.0 1059.4,765.9 1060.4,766.0 1061.4,765.7 1062.4,765.7 1063.9,766.0 1064.4,766.4 1064.9,766.2 1065.4,766.7 1065.9,766.6 1066.4,767.0 1066.9,767.0 1067.9,767.5 1068.9,767.6 1069.4,767.7 1070.4,768.4 1071.4,768.2 1072.9,768.7 1073.9,768.4 1074.4,767.7 1074.9,767.6 1075.4,767.2 1075.9,767.2 1076.4,766.5 1077.4,765.7 1078.4,765.3 1079.4,764.8 1079.9,764.3 1080.4,764.0 1080.9,763.5 1081.4,763.5 1081.9,763.2 1082.9,762.9 1083.4,762.4 1083.9,762.3 1084.4,761.9 1084.9,761.9 1085.4,761.2 1086.4,760.4 1086.9,760.5 1087.4,760.3 1087.9,760.6 1088.4,760.3 1088.9,760.3 1089.4,760.0 1089.9,760.1 1090.9,759.6 1091.4,759.0 1092.4,758.5 1092.9,758.6 1093.9,758.3 1095.4,758.2 1095.9,757.9 1097.4,758.2 1097.9,757.9 1099.4,757.6 1099.9,757.2 1100.4,757.0 1100.9,757.2 1101.4,757.2 1101.9,757.6 1102.4,757.2 1102.9,757.2 1103.4,756.9 1103.9,756.8 1104.4,756.8 1104.9,756.4 1105.9,756.0 1106.9,756.1 1107.4,755.8 1108.4,755.7 1108.9,755.8 1109.9,755.2 1110.4,755.4 1110.9,755.3 1111.4,755.5 1111.9,755.4 1112.4,755.4 1113.9,754.8 1114.9,754.8 1116.4,754.3 1116.9,754.4 1118.9,754.2 1120.4,753.4 1120.9,753.3 1121.9,753.6 1122.4,753.5 1123.4,753.0 1124.4,753.2 1125.4,753.1 1125.9,752.9 1126.4,752.9 1126.9,752.9 1127.4,753.0 1127.9,752.9 1128.9,753.4 1130.4,753.3 1130.9,753.8 1131.4,753.9 1132.4,753.6 1132.9,753.9 1133.4,754.1 1134.4,754.3 1135.4,754.0 1135.9,754.0 1136.4,754.4 1136.9,754.6 1137.9,754.7 1138.4,755.0 1139.9,755.1 1140.9,755.5 1141.4,756.0 1141.9,756.2 1142.9,756.3 1144.4,757.3 1144.9,757.3 1145.4,757.6 1145.9,757.6 1146.4,757.9 1146.9,757.9 1147.4,758.5 1147.9,758.4 1148.9,758.7 1149.9,759.6 1151.4,760.2 1152.4,760.8 1153.4,761.7 1154.9,762.0 1155.4,762.3 1156.4,762.4 1157.9,763.2 1158.4,763.0 1158.9,763.1 1159.4,763.0 1160.4,763.1 1160.9,763.2 1161.4,763.5 1161.9,763.4 1162.9,763.5 1163.4,763.9 1163.9,763.8 1164.9,763.4 1166.4,763.7 1166.9,763.7 1167.4,763.6" fill="none" stroke="#0a0a0a" stroke-width="2.4" stroke-linejoin="round" stroke-linecap="butt"/>
<polyline points="695.4,826.4 696.9,826.1 697.9,826.1 698.4,826.3 698.9,826.3 699.9,825.9 700.9,825.8 701.4,826.0 702.4,826.1 702.9,825.9 703.4,826.0 703.9,825.8 704.4,825.8 704.9,825.5 705.4,825.6 706.4,826.1 708.4,825.8 709.4,825.5 709.9,825.5 710.4,825.3 710.9,825.5 711.4,825.5 711.9,825.7 712.4,825.7 712.9,825.9 715.4,826.3 716.9,825.7 717.4,825.7 718.9,826.1 719.4,826.1 719.9,826.3 721.4,826.2 721.9,825.7 722.4,825.9 722.9,825.9 723.4,826.3 723.9,825.9 724.4,826.1 724.9,826.1 725.4,826.3 725.9,826.1 727.9,825.9 728.4,826.0 728.9,826.0 729.4,826.2 729.9,826.0 730.4,826.1 730.9,826.0 731.4,826.4 731.9,826.2 732.4,826.4 732.9,826.2 733.4,826.4 733.9,826.1 735.4,826.0 736.4,825.7 737.9,826.3 739.9,826.0 741.4,826.2 741.9,825.9 742.9,825.8 743.9,826.0 745.4,825.9 745.9,826.2 747.9,826.1 748.9,825.8 749.9,826.6 750.4,826.8 751.4,826.9 752.4,827.4 752.9,827.9 753.9,828.3 754.4,828.2 755.4,828.5 757.4,829.8 757.9,830.0 758.4,830.4 758.9,830.5 760.9,831.7 761.4,831.8 761.9,832.2 762.4,832.0 763.4,832.4 763.9,832.8 764.9,833.1 765.4,833.5 765.9,833.4 766.4,833.8 766.9,833.7 767.4,833.9 767.9,834.0 770.9,835.5 771.9,835.4 772.4,835.6 772.9,836.1 773.9,836.7 774.9,836.8 775.4,836.7 775.9,837.0 776.4,837.2 776.9,837.5 778.4,837.5 778.9,837.8 779.4,837.7 779.9,838.0 780.4,838.1 780.9,838.6 781.9,838.6 782.4,838.5 783.4,838.7 784.9,838.6 785.4,838.8 786.9,838.9 787.9,839.3 789.4,839.7 790.4,839.4 790.9,839.1 791.4,839.0 793.9,839.7 794.4,839.6 794.9,839.3 795.9,839.1 796.9,839.3 797.4,839.3 797.9,839.5 798.9,839.7 799.4,839.5 800.4,839.5 801.4,839.1 801.9,839.3 802.9,839.3 803.4,839.0 803.9,838.9 804.4,839.4 804.9,839.5 805.4,839.8 806.9,839.7 807.4,839.4 808.4,839.1 808.9,839.2 809.4,839.1 809.9,839.3 810.9,839.4 811.4,839.0 811.9,838.9 812.9,839.1 813.4,838.8 813.9,838.7 814.4,838.8 815.4,838.6 815.9,838.2 817.4,838.6 817.9,838.6 818.4,838.3 818.9,838.2 819.9,838.5 820.4,838.4 820.9,838.0 821.4,837.7 821.9,838.0 822.9,838.0 823.9,837.4 825.4,837.3 825.9,837.0 827.4,836.6 828.4,836.8 828.9,837.0 829.4,836.8 830.4,836.6 830.9,836.7 831.9,836.6 833.4,835.9 834.9,835.7 835.4,835.9 835.9,835.9 836.4,835.8 837.4,835.1 838.4,835.5 839.4,835.5 839.9,835.2 840.4,835.4 841.4,835.4 842.9,834.9 843.4,834.6 844.9,834.6 846.9,834.1 848.4,834.4 848.9,834.1 849.9,833.7 850.4,833.8 851.9,833.8 852.4,833.9 853.4,833.6 853.9,833.2 854.9,833.1 855.4,833.4 856.4,833.0 856.9,832.6 857.4,832.8 857.9,832.6 858.4,832.5 858.9,832.6 859.4,832.9 859.9,832.8 860.4,832.5 860.9,832.4 861.4,832.6 861.9,832.5 862.4,832.2 863.4,832.2 863.9,832.3 864.9,832.1 865.4,832.1 865.9,831.9 866.4,832.0 866.9,831.7 868.4,831.4 868.9,831.4 870.4,831.8 871.9,831.3 872.4,831.5 872.9,831.1 873.4,831.2 873.9,830.8 874.4,831.0 874.9,830.8 875.4,830.9 876.9,830.1 877.4,830.1 877.9,830.2 879.4,829.7 880.4,830.0 881.9,829.7 882.4,829.7 882.9,829.9 883.4,829.7 883.9,829.8 884.4,829.5 884.9,829.6 885.4,829.4 885.9,829.5 887.4,829.0 888.4,829.1 888.9,829.5 889.9,829.4 890.4,829.0 891.9,829.1 892.4,829.0 892.9,829.1 893.4,829.1 894.9,828.3 896.4,827.9 897.4,828.1 897.9,827.9 898.9,828.1 899.4,828.3 900.9,827.8 901.9,828.0 902.4,828.2 902.9,828.0 903.4,828.0 903.9,827.7 904.4,827.7 904.9,827.3 905.9,827.4 906.9,827.6 908.9,827.3 909.9,827.0 911.4,827.1 912.4,826.9 913.9,826.8 914.4,826.5 915.9,826.8 916.9,826.4 917.4,826.4 917.9,826.6 919.4,826.0 919.9,826.0 920.4,826.2 920.9,826.0 921.4,826.0 921.9,825.7 924.4,826.6 924.9,826.9 925.4,827.5 926.4,827.7 926.9,827.3 928.4,826.5 928.9,826.5 929.4,826.3 929.9,826.4 931.4,826.0 931.9,826.0 932.4,825.7 932.9,825.7 933.4,825.4 933.9,825.5 934.9,825.3 936.4,825.4 936.9,825.4 938.4,824.7 938.9,824.8 939.4,825.3 940.4,825.4 940.9,825.2 941.4,825.5 942.4,825.3 942.9,825.0 944.4,824.6 944.9,824.8 945.9,825.0 946.9,824.6 947.9,824.6 948.9,824.7 949.4,824.5 950.9,824.4 951.9,824.1 952.4,824.2 952.9,824.3 953.9,823.9 954.9,823.9 955.4,823.7 956.4,822.2 956.9,822.1 957.9,823.5 959.4,823.9 960.4,824.1 960.9,823.8 961.9,823.5 962.9,823.7 963.9,823.5 964.9,823.7 966.4,823.1 966.9,823.4 967.4,823.4 967.9,823.2 968.9,823.1 969.4,823.4 969.9,823.3 970.4,823.4 971.4,823.4 971.9,823.2 972.4,823.2 974.4,822.6 975.4,822.9 979.4,822.4 979.9,822.6 982.4,822.6 982.9,822.5 983.4,822.5 983.9,822.0 984.4,822.1 984.9,821.9 985.4,822.2 985.9,821.9 986.9,822.2 987.4,822.6 987.9,822.1 988.9,821.8 990.4,821.5 990.9,821.9 991.9,821.9 992.4,821.7 992.9,821.8 993.4,821.7 994.4,821.8 995.4,821.7 995.9,821.4 997.9,821.6 998.9,821.6 999.9,821.2 1000.4,821.2 1001.4,821.5 1003.9,821.0 1004.4,821.1 1004.9,821.3 1006.4,820.9 1008.4,821.2 1008.9,821.4 1009.4,821.3 1009.9,821.5 1010.4,821.4 1010.9,821.6 1012.4,821.2 1013.9,820.9 1014.4,821.0 1015.9,820.9 1016.4,821.0 1017.4,821.0 1019.4,821.3 1019.9,821.6 1020.9,822.4 1021.9,822.9 1022.9,823.8 1024.9,826.1 1026.4,828.8 1026.9,829.5 1028.4,832.6 1029.4,834.3 1031.4,839.0 1032.4,843.3 1034.4,854.2 1036.9,873.2 1038.9,886.1 1039.4,888.1 1039.9,889.5 1040.9,891.8 1041.4,892.3 1041.9,892.1 1042.9,890.5 1043.4,889.4 1043.9,887.8 1046.9,871.5 1048.4,864.0 1050.4,857.0 1050.9,855.8 1051.4,855.1 1051.9,854.6 1052.4,855.0 1052.9,855.8 1053.9,858.4 1054.4,860.8 1055.9,870.3 1056.9,874.9 1057.4,876.5 1057.9,877.2 1058.9,876.8 1059.4,876.5 1060.9,876.3 1061.4,876.0 1062.4,874.8 1063.9,871.8 1065.9,869.1 1067.4,867.6 1067.9,866.9 1068.4,866.4 1068.9,866.2 1069.4,866.3 1069.9,866.0 1070.4,865.5 1070.9,864.4 1071.9,861.5 1073.9,853.4 1076.9,843.4 1078.9,838.1 1079.9,836.2 1080.9,834.7 1082.4,831.9 1082.9,831.2 1085.4,828.6 1085.9,828.2 1086.4,827.5 1088.4,825.9 1089.4,825.3 1090.4,824.3 1091.4,824.1 1091.9,824.2 1092.9,824.0 1093.9,823.2 1094.9,822.7 1095.4,822.7 1095.9,822.5 1096.9,822.2 1097.4,822.3 1098.9,821.5 1100.9,822.3 1101.9,822.4 1102.4,822.2 1103.4,822.3 1103.9,822.5 1104.9,822.5 1105.4,822.7 1105.9,822.7 1106.4,822.5 1106.9,822.5 1107.9,823.1 1108.4,823.1 1108.9,823.6 1109.9,824.1 1110.4,824.1 1111.9,825.8 1112.4,826.6 1113.9,830.7 1114.4,831.7 1114.9,832.3 1115.4,831.6 1115.9,830.1 1116.4,827.9 1116.9,826.7 1117.4,826.0 1118.4,825.4 1118.9,825.7 1119.4,825.6 1119.9,825.6 1120.4,825.1 1121.4,824.6 1121.9,824.6 1122.4,824.7 1122.9,824.6 1123.4,824.7 1123.9,824.6 1124.4,824.8 1125.4,826.2 1125.9,826.6 1126.4,826.6 1126.9,826.4 1127.9,825.6 1130.4,825.9 1130.9,826.0 1131.4,826.5 1131.9,826.7 1132.4,827.1 1133.9,827.4 1134.9,828.0 1135.9,828.3 1136.4,828.6 1137.4,829.6 1137.9,829.7 1138.9,830.1 1139.4,830.5 1140.4,831.2 1141.4,831.7 1142.4,832.7 1142.9,833.0 1144.4,834.5 1144.9,834.8 1146.4,836.4 1146.9,836.7 1147.9,837.7 1149.9,840.7 1152.9,843.9 1153.9,845.1 1154.9,846.7 1156.4,848.6 1157.4,850.4 1157.9,851.7 1159.4,853.8 1160.4,855.8 1161.9,858.5 1162.4,859.7 1163.9,862.1 1164.9,863.9 1166.4,865.2 1167.4,866.3" fill="none" stroke="#0a0a0a" stroke-width="2.4" stroke-linejoin="round" stroke-linecap="butt"/>
<polyline points="695.4,909.3 697.9,909.5 699.4,909.5 699.9,909.3 702.9,909.2 704.4,909.7 704.9,909.8 705.4,909.7 705.9,909.4 706.4,909.4 707.4,909.4 707.9,909.6 708.4,909.4 708.9,909.5 709.4,909.4 710.9,909.4 711.9,909.6 712.9,909.7 713.9,909.2 714.9,909.3 716.4,909.0 717.9,909.3 719.4,909.7 719.9,909.4 720.4,909.3 721.9,909.6 722.9,909.5 723.4,909.2 724.4,909.4 724.9,909.7 725.4,909.7 726.4,909.8 727.4,909.8 727.9,909.5 729.4,909.9 729.9,909.9 730.4,909.7 730.9,909.7 731.4,909.8 732.4,910.2 732.9,910.2 733.9,909.6 734.4,909.6 734.9,909.8 735.4,909.7 736.9,909.7 737.9,909.5 738.4,909.6 738.9,909.5 739.4,909.6 739.9,909.4 740.4,909.5 740.9,909.2 741.4,909.3 741.9,909.1 742.4,909.5 742.9,909.6 743.4,909.6 743.9,909.3 744.9,909.3 745.4,909.6 745.9,909.3 746.4,909.3 746.9,908.8 747.4,909.2 747.9,909.1 748.4,909.6 748.9,909.5 749.4,909.7 749.9,909.6 750.4,909.9 750.9,909.9 751.4,909.6 752.4,909.5 752.9,910.0 753.9,910.6 755.4,910.9 755.9,911.1 756.9,911.4 757.4,911.2 757.9,911.2 758.9,911.6 759.9,911.9 762.4,912.3 762.9,912.7 763.9,913.2 764.9,913.1 765.4,913.3 765.9,913.7 767.4,913.7 767.9,914.0 768.9,914.3 769.4,914.2 769.9,914.5 770.4,914.4 770.9,914.7 771.4,914.7 771.9,915.0 772.4,915.2 773.4,915.5 773.9,915.5 775.4,915.8 776.4,915.5 777.4,916.2 777.9,916.4 778.9,916.3 779.4,916.6 780.9,916.3 781.4,916.6 782.9,916.9 783.4,916.6 783.9,917.1 784.4,917.2 784.9,917.6 785.4,917.2 785.9,917.2 786.9,917.7 787.4,917.7 787.9,917.4 788.4,917.3 788.9,917.3 789.4,917.6 789.9,917.4 790.9,917.5 791.9,917.8 793.4,917.5 794.4,917.9 796.4,918.0 797.4,917.9 798.4,918.0 799.9,917.8 800.9,918.0 802.4,917.9 803.9,918.3 804.4,918.2 804.9,918.2 805.4,918.0 806.4,917.7 807.4,917.9 807.9,917.9 809.4,917.6 810.4,917.8 810.9,917.5 811.9,917.4 812.4,917.9 815.9,917.3 816.9,917.1 817.4,917.2 817.9,917.0 818.4,917.1 819.4,917.2 820.9,916.7 821.9,916.8 822.4,917.2 823.9,917.1 824.4,917.3 825.9,917.1 826.4,917.2 827.4,916.6 827.9,916.6 828.4,916.9 829.4,917.1 831.4,916.5 832.4,916.8 833.9,916.4 834.4,916.6 835.9,915.9 836.9,916.3 837.4,916.2 837.9,915.9 839.4,915.7 839.9,915.6 840.4,915.6 840.9,915.9 841.4,916.0 842.4,916.0 844.4,915.4 845.9,915.6 846.4,915.4 847.9,915.4 848.4,915.2 850.9,915.3 851.4,915.1 851.9,915.1 852.4,914.8 852.9,915.0 853.4,914.9 853.9,915.2 854.4,914.9 855.4,914.7 855.9,914.8 856.9,914.7 857.4,914.5 857.9,914.6 858.4,914.2 859.4,914.5 859.9,914.9 860.4,914.9 861.9,914.4 862.9,914.4 863.4,914.0 864.4,914.1 864.9,914.6 865.4,914.3 866.4,914.3 867.4,913.8 867.9,913.7 868.9,914.0 869.4,913.9 869.9,914.2 870.9,913.8 871.4,913.5 873.9,913.7 875.4,914.3 877.4,914.0 877.9,914.1 879.4,913.2 879.9,913.2 880.4,913.5 881.4,913.6 881.9,913.4 882.9,913.3 884.9,913.6 885.9,913.3 886.4,913.0 887.9,913.0 889.4,913.6 891.4,913.3 893.4,912.6 893.9,912.8 894.9,913.1 895.9,912.7 896.4,912.8 896.9,913.1 897.4,913.3 898.9,912.6 899.4,912.6 899.9,912.3 901.4,912.6 902.4,912.2 902.9,912.1 904.4,912.6 904.9,912.3 905.4,912.3 905.9,912.1 906.9,912.2 907.4,912.0 908.4,912.0 908.9,912.2 909.9,912.0 910.9,912.0 911.9,911.8 912.9,912.0 913.4,912.0 914.9,911.7 915.4,911.4 915.9,911.4 916.9,911.7 917.9,911.6 918.9,911.8 919.9,911.8 920.9,911.6 922.4,911.8 922.9,911.7 923.4,911.9 923.9,912.0 924.4,913.1 925.4,918.1 925.9,919.1 926.4,919.7 926.9,918.3 927.4,916.0 927.9,916.2 928.4,917.0 928.9,917.5 929.4,917.0 930.4,913.1 930.9,912.2 931.4,912.0 931.9,911.4 932.9,911.1 933.9,911.2 935.4,910.7 936.4,910.9 936.9,911.2 938.4,911.0 938.9,911.1 939.9,910.9 940.9,910.3 941.9,910.4 942.4,910.8 942.9,910.5 943.4,910.6 943.9,910.3 944.4,910.5 944.9,910.2 945.4,910.4 945.9,910.3 946.4,910.5 948.4,910.6 949.9,910.4 950.4,910.4 951.4,910.2 951.9,909.8 952.4,909.9 952.9,909.8 953.4,910.2 953.9,910.3 954.9,910.3 955.4,910.0 955.9,910.2 956.4,909.9 957.4,909.9 958.4,910.3 958.9,910.3 959.4,910.1 960.9,910.0 961.4,909.7 962.4,909.7 963.4,909.5 964.4,909.8 964.9,909.8 965.9,909.3 967.4,909.2 967.9,909.0 968.9,908.8 971.4,908.6 972.4,908.4 973.4,908.6 973.9,908.6 974.9,908.2 975.9,908.4 977.4,907.8 977.9,907.8 978.4,907.5 978.9,907.5 979.4,907.3 980.4,907.5 980.9,907.7 981.4,907.6 982.4,907.0 982.9,906.8 983.9,906.8 984.9,907.0 988.4,907.0 990.4,906.2 991.4,906.5 991.9,906.4 992.4,906.2 992.9,905.8 993.4,906.0 993.9,905.9 994.4,905.9 996.9,905.6 997.4,905.7 997.9,905.5 999.4,905.5 999.9,905.2 1000.4,905.3 1000.9,905.1 1001.4,905.4 1001.9,905.1 1002.4,905.0 1002.9,904.7 1003.4,904.9 1004.4,904.8 1004.9,904.4 1005.9,904.3 1006.4,904.4 1006.9,904.2 1007.9,904.0 1008.4,904.3 1008.9,904.2 1009.4,904.5 1009.9,904.3 1010.4,904.3 1010.9,903.9 1011.9,903.7 1012.4,903.5 1012.9,903.6 1013.4,903.4 1013.9,903.6 1014.4,903.1 1015.4,903.4 1015.9,903.8 1017.4,903.7 1020.4,904.2 1021.4,904.8 1021.9,905.6 1022.4,906.1 1022.9,907.0 1024.4,908.5 1024.9,909.3 1025.4,910.4 1027.9,914.2 1028.9,916.1 1029.9,917.2 1030.4,917.3 1030.9,917.7 1031.4,918.5 1033.4,927.2 1036.9,950.0 1037.9,955.5 1038.4,957.7 1039.4,960.7 1039.9,961.9 1040.4,962.9 1040.9,963.4 1041.4,963.5 1041.9,963.0 1042.4,962.7 1043.4,961.4 1043.9,959.6 1044.9,954.4 1046.9,945.8 1048.4,940.1 1049.4,937.4 1050.9,934.1 1051.4,933.2 1051.9,932.7 1052.4,932.4 1052.9,932.6 1053.4,933.5 1053.9,934.9 1055.4,938.1 1055.9,939.7 1056.9,942.0 1058.4,943.9 1058.9,944.2 1060.4,945.9 1060.9,946.0 1061.9,946.5 1063.9,947.0 1065.4,946.6 1066.9,947.1 1067.4,946.9 1068.4,946.3 1068.9,946.3 1069.9,945.7 1070.4,945.1 1071.4,944.0 1071.9,943.3 1072.4,942.4 1073.9,938.0 1076.9,930.3 1078.9,926.0 1080.4,923.1 1082.4,920.0 1083.9,917.9 1084.9,916.8 1085.4,916.0 1086.4,914.8 1086.9,914.6 1087.4,913.9 1088.4,912.9 1090.9,910.8 1091.9,910.4 1092.4,910.0 1095.4,908.7 1096.4,908.4 1098.4,908.2 1098.9,907.8 1099.9,907.5 1100.4,907.6 1101.4,907.6 1101.9,907.9 1103.4,907.9 1104.4,908.2 1106.4,908.4 1106.9,908.6 1107.9,909.8 1108.4,910.7 1109.9,912.3 1111.4,915.1 1111.9,915.8 1112.9,917.8 1113.9,920.8 1114.4,921.8 1114.9,922.4 1115.4,921.9 1115.9,920.7 1116.9,917.3 1118.4,913.6 1119.4,911.7 1120.4,910.5 1123.4,907.9 1125.4,906.9 1125.9,906.4 1126.4,906.1 1128.4,905.5 1129.4,906.0 1129.9,906.0 1130.4,906.2 1130.9,906.1 1131.4,906.5 1131.9,906.5 1132.4,906.8 1133.4,907.2 1133.9,907.1 1134.4,907.3 1135.9,908.3 1136.9,908.8 1137.9,909.5 1138.4,910.3 1138.9,910.7 1139.4,911.0 1140.4,911.1 1140.9,911.3 1142.4,912.5 1142.9,912.7 1144.4,914.0 1145.4,914.5 1145.9,915.2 1147.4,915.9 1149.4,918.8 1150.9,919.8 1151.4,920.5 1152.4,921.6 1153.9,922.7 1155.4,924.2 1156.9,926.3 1158.4,927.3 1158.9,928.0 1160.4,931.1 1162.4,936.0 1163.4,939.9 1164.4,946.2 1164.9,948.0 1165.4,948.0 1166.4,946.9 1167.4,944.7" fill="none" stroke="#0a0a0a" stroke-width="2.4" stroke-linejoin="round" stroke-linecap="butt"/>
<line x1="1009.60" y1="780.00" x2="1026.40" y2="767.00" stroke="#e0222a" stroke-width="1.8"/>
<line x1="1045.40" y1="771.00" x2="1045.40" y2="786.60" stroke="#e0222a" stroke-width="1.8"/>
<line x1="1072.40" y1="769.00" x2="1090.00" y2="780.40" stroke="#e0222a" stroke-width="1.8"/>
<line x1="696.60" y1="649.40" x2="1167.40" y2="649.40" stroke="#333" stroke-width="1.3"/>
<line x1="1167.40" y1="649.40" x2="1167.40" y2="1000.30" stroke="#333" stroke-width="1.3"/>
<line x1="696.60" y1="649.40" x2="696.60" y2="1000.90" stroke="#222" stroke-width="1.3"/>
<line x1="696.00" y1="1000.30" x2="1168.00" y2="1000.30" stroke="#222" stroke-width="1.3"/>
<line x1="696.60" y1="1000.30" x2="696.60" y2="1008.30" stroke="#222" stroke-width="1.2"/>
<line x1="837.14" y1="1000.30" x2="837.14" y2="1008.30" stroke="#222" stroke-width="1.2"/>
<line x1="977.68" y1="1000.30" x2="977.68" y2="1008.30" stroke="#222" stroke-width="1.2"/>
<line x1="1118.22" y1="1000.30" x2="1118.22" y2="1008.30" stroke="#222" stroke-width="1.2"/>
<line x1="766.87" y1="1000.30" x2="766.87" y2="1004.30" stroke="#222" stroke-width="1.2"/>
<line x1="907.41" y1="1000.30" x2="907.41" y2="1004.30" stroke="#222" stroke-width="1.2"/>
<line x1="1047.95" y1="1000.30" x2="1047.95" y2="1004.30" stroke="#222" stroke-width="1.2"/>
<text x="694.6" y="1032.8" font-size="30" text-anchor="middle" fill="#111">4000</text>
<text x="835.4" y="1032.8" font-size="30" text-anchor="middle" fill="#111">3000</text>
<text x="976.3" y="1032.8" font-size="30" text-anchor="middle" fill="#111">2000</text>
<text x="1119.4" y="1032.8" font-size="30" text-anchor="middle" fill="#2a2a2a">1000</text>
<text x="795.8" y="1070" font-size="30.6" text-anchor="start" fill="#111">Wavenumber (cm<tspan font-size="15" dy="-14">-1</tspan><tspan dy="14">)</tspan></text>
<text x="684.7" y="968.6" font-size="30.5" text-anchor="start" fill="#111" transform="rotate(-90 684.7 968.6)">Transmisson (a.u.)</text>
<text x="726.2" y="694.8" font-size="30.4" text-anchor="start" fill="#333">MF 800 °C</text>
<text x="726.2" y="749.6" font-size="30.2" text-anchor="start" fill="#333">MF 500 °C</text>
<text x="723.0" y="817.0" font-size="30" text-anchor="start" fill="#333">MF</text>
<text x="723.0" y="902.0" font-size="30" text-anchor="start" fill="#333">Batch</text>
<text x="952.0" y="806.0" font-size="29" text-anchor="start" fill="#333">1632</text>
<text x="1024.6" y="813.4" font-size="29" text-anchor="start" fill="#333">1522</text>
<text x="1088.4" y="802.4" font-size="29" text-anchor="start" fill="#333">1325</text>
<text x="1080.6" y="859.0" font-size="29" text-anchor="start" fill="#333">1027</text>
<text x="967.6" y="894.0" font-size="29" text-anchor="start" fill="#333">1546</text>
<text x="1057.6" y="897.6" font-size="29" text-anchor="start" fill="#333">1423</text>
<text x="1080.6" y="948.0" font-size="29" text-anchor="start" fill="#333">1019</text>
<text x="1047.6" y="974.0" font-size="29" text-anchor="start" fill="#333">1423</text>
<text x="970.6" y="984.6" font-size="29" text-anchor="start" fill="#333">1546</text>
<rect x="1174.6" y="561.6" width="86.8" height="65.2" fill="#fff" stroke="#a6a6a6" stroke-width="1.2"/>
<text x="1218.0" y="609.4" font-size="46" text-anchor="middle" fill="#000">F</text>
<line x1="1273.00" y1="649.00" x2="1755.20" y2="649.00" stroke="#222" stroke-width="1.4"/>
<line x1="1754.60" y1="649.00" x2="1754.60" y2="1002.40" stroke="#222" stroke-width="1.6"/>
<line x1="1280.60" y1="649.00" x2="1280.60" y2="1003.10" stroke="#111" stroke-width="1.5"/>
<line x1="1279.90" y1="1002.40" x2="1755.20" y2="1002.40" stroke="#111" stroke-width="1.5"/>
<line x1="1273.00" y1="1002.21" x2="1280.60" y2="1002.21" stroke="#222" stroke-width="1.3"/>
<line x1="1276.00" y1="982.57" x2="1280.60" y2="982.57" stroke="#222" stroke-width="1.2"/>
<line x1="1273.00" y1="962.94" x2="1280.60" y2="962.94" stroke="#222" stroke-width="1.3"/>
<line x1="1276.00" y1="943.30" x2="1280.60" y2="943.30" stroke="#222" stroke-width="1.2"/>
<line x1="1273.00" y1="923.67" x2="1280.60" y2="923.67" stroke="#222" stroke-width="1.3"/>
<line x1="1276.00" y1="904.03" x2="1280.60" y2="904.03" stroke="#222" stroke-width="1.2"/>
<line x1="1273.00" y1="884.40" x2="1280.60" y2="884.40" stroke="#222" stroke-width="1.3"/>
<line x1="1276.00" y1="864.76" x2="1280.60" y2="864.76" stroke="#222" stroke-width="1.2"/>
<line x1="1273.00" y1="845.13" x2="1280.60" y2="845.13" stroke="#222" stroke-width="1.3"/>
<line x1="1276.00" y1="825.50" x2="1280.60" y2="825.50" stroke="#222" stroke-width="1.2"/>
<line x1="1273.00" y1="805.86" x2="1280.60" y2="805.86" stroke="#222" stroke-width="1.3"/>
<line x1="1276.00" y1="786.23" x2="1280.60" y2="786.23" stroke="#222" stroke-width="1.2"/>
<line x1="1273.00" y1="766.59" x2="1280.60" y2="766.59" stroke="#222" stroke-width="1.3"/>
<line x1="1276.00" y1="746.95" x2="1280.60" y2="746.95" stroke="#222" stroke-width="1.2"/>
<line x1="1273.00" y1="727.32" x2="1280.60" y2="727.32" stroke="#222" stroke-width="1.3"/>
<line x1="1276.00" y1="707.68" x2="1280.60" y2="707.68" stroke="#222" stroke-width="1.2"/>
<line x1="1273.00" y1="688.05" x2="1280.60" y2="688.05" stroke="#222" stroke-width="1.3"/>
<line x1="1276.00" y1="668.41" x2="1280.60" y2="668.41" stroke="#222" stroke-width="1.2"/>
<line x1="1273.00" y1="648.78" x2="1280.60" y2="648.78" stroke="#222" stroke-width="1.3"/>
<text x="1249.3" y="1012.4" font-size="29" text-anchor="middle" fill="#000">-30</text>
<text x="1249.3" y="973.1" font-size="29" text-anchor="middle" fill="#000">-20</text>
<text x="1249.3" y="933.9" font-size="29" text-anchor="middle" fill="#000">-10</text>
<text x="1249.3" y="894.6" font-size="29" text-anchor="middle" fill="#000">0</text>
<text x="1249.3" y="855.3" font-size="29" text-anchor="middle" fill="#000">10</text>
<text x="1249.3" y="816.1" font-size="29" text-anchor="middle" fill="#000">20</text>
<text x="1249.3" y="776.8" font-size="29" text-anchor="middle" fill="#000">30</text>
<text x="1249.3" y="737.5" font-size="29" text-anchor="middle" fill="#000">40</text>
<text x="1249.3" y="698.2" font-size="29" text-anchor="middle" fill="#000">50</text>
<text x="1249.3" y="659.0" font-size="29" text-anchor="middle" fill="#000">60</text>
<line x1="1280.40" y1="1002.40" x2="1280.40" y2="1006.40" stroke="#222" stroke-width="1.2"/>
<line x1="1305.40" y1="1002.40" x2="1305.40" y2="1009.60" stroke="#222" stroke-width="1.3"/>
<line x1="1405.40" y1="1002.40" x2="1405.40" y2="1009.60" stroke="#222" stroke-width="1.3"/>
<line x1="1505.40" y1="1002.40" x2="1505.40" y2="1009.60" stroke="#222" stroke-width="1.3"/>
<line x1="1605.40" y1="1002.40" x2="1605.40" y2="1009.60" stroke="#222" stroke-width="1.3"/>
<line x1="1705.40" y1="1002.40" x2="1705.40" y2="1009.60" stroke="#222" stroke-width="1.3"/>
<line x1="1355.40" y1="1002.40" x2="1355.40" y2="1006.40" stroke="#222" stroke-width="1.2"/>
<line x1="1455.40" y1="1002.40" x2="1455.40" y2="1006.40" stroke="#222" stroke-width="1.2"/>
<line x1="1555.40" y1="1002.40" x2="1555.40" y2="1006.40" stroke="#222" stroke-width="1.2"/>
<line x1="1655.40" y1="1002.40" x2="1655.40" y2="1006.40" stroke="#222" stroke-width="1.2"/>
<line x1="1755.40" y1="1002.40" x2="1755.40" y2="1006.40" stroke="#222" stroke-width="1.2"/>
<text x="1306.2" y="1037.6" font-size="29.3" text-anchor="middle" fill="#000">0</text>
<text x="1406.2" y="1037.6" font-size="29.3" text-anchor="middle" fill="#000">200</text>
<text x="1506.2" y="1037.6" font-size="29.3" text-anchor="middle" fill="#000">400</text>
<text x="1606.2" y="1037.6" font-size="29.3" text-anchor="middle" fill="#000">600</text>
<text x="1706.2" y="1037.6" font-size="29.3" text-anchor="middle" fill="#000">800</text>
<text x="1401.3" y="1068.0" font-size="30.4" text-anchor="start" fill="#111">Temperature (°C)</text>
<text x="1222.3" y="894.8" font-size="30.7" text-anchor="start" fill="#333" transform="rotate(-90 1222.3 894.8)">ζ-potential</text>
<polyline points="1318.0,687.6 1398.0,698.6 1555.0,902.6 1705.0,958.0" fill="none" stroke="#111" stroke-width="1.8" stroke-linejoin="round" stroke-linecap="butt"/>
<line x1="1318.00" y1="681.10" x2="1318.00" y2="694.10" stroke="#111" stroke-width="1.4"/>
<line x1="1313.60" y1="681.10" x2="1322.40" y2="681.10" stroke="#111" stroke-width="1.4"/>
<line x1="1313.60" y1="694.10" x2="1322.40" y2="694.10" stroke="#111" stroke-width="1.4"/>
<line x1="1398.00" y1="698.00" x2="1398.00" y2="699.20" stroke="#111" stroke-width="1.4"/>
<line x1="1393.60" y1="698.00" x2="1402.40" y2="698.00" stroke="#111" stroke-width="1.4"/>
<line x1="1393.60" y1="699.20" x2="1402.40" y2="699.20" stroke="#111" stroke-width="1.4"/>
<line x1="1555.00" y1="901.70" x2="1555.00" y2="903.50" stroke="#111" stroke-width="1.4"/>
<line x1="1550.60" y1="901.70" x2="1559.40" y2="901.70" stroke="#111" stroke-width="1.4"/>
<line x1="1550.60" y1="903.50" x2="1559.40" y2="903.50" stroke="#111" stroke-width="1.4"/>
<line x1="1705.00" y1="955.80" x2="1705.00" y2="960.20" stroke="#111" stroke-width="1.4"/>
<line x1="1700.60" y1="955.80" x2="1709.40" y2="955.80" stroke="#111" stroke-width="1.4"/>
<line x1="1700.60" y1="960.20" x2="1709.40" y2="960.20" stroke="#111" stroke-width="1.4"/>
</svg>
</body></html>
